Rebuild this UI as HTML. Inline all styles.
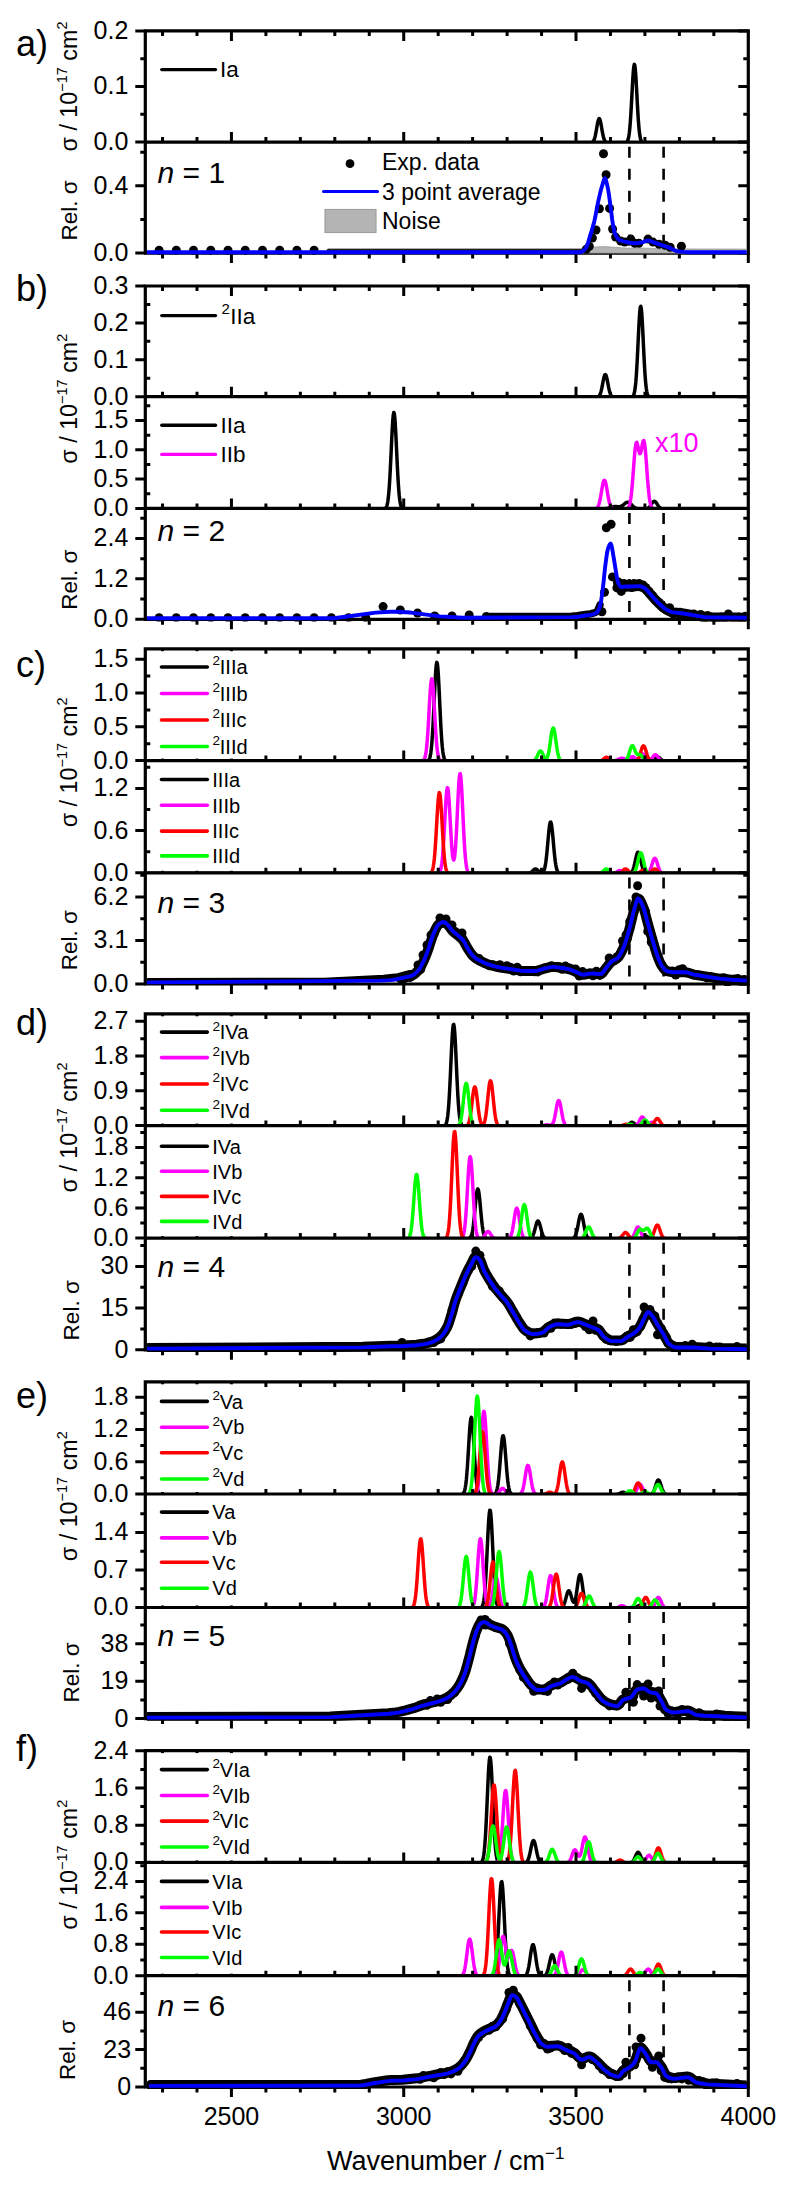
<!DOCTYPE html>
<html><head><meta charset="utf-8"><style>html,body{margin:0;padding:0;background:#fff;}svg text{font-family:"Liberation Sans", sans-serif;}</style></head>
<body>
<svg width="791" height="2186" viewBox="0 0 791 2186" style="display:block">
<rect width="791" height="2186" fill="#fff"/>
<g font-family='"Liberation Sans", sans-serif' fill="#000">
<clipPath id="cp_a1"><rect x="146.8" y="32.4" width="600.0" height="109.69999999999999"/></clipPath>
<clipPath id="cp_a2"><rect x="146.8" y="143.6" width="600.0" height="109.5"/></clipPath>
<g clip-path="url(#cp_a1)" fill="none" stroke-width="3.5" stroke-linejoin="round">
<path d="M146.30,142.80 L590.30,142.76 L590.80,142.71 L591.30,142.64 L591.80,142.50 L592.30,142.26 L592.80,141.89 L593.30,141.31 L593.80,140.45 L594.30,139.25 L594.80,137.66 L595.30,135.63 L595.80,133.20 L596.30,130.45 L596.80,127.54 L597.30,124.67 L597.80,122.11 L598.30,120.12 L598.80,118.91 L599.30,118.62 L599.80,119.29 L600.30,120.83 L600.80,123.08 L601.30,125.79 L601.80,128.71 L602.30,131.58 L602.80,134.22 L603.30,136.49 L603.80,138.35 L604.30,139.78 L604.80,140.83 L605.30,141.57 L605.80,142.06 L606.30,142.37 L606.80,142.56 L607.30,142.67 L607.80,142.73 L608.30,142.77 L624.80,142.75 L625.30,142.70 L625.80,142.59 L626.30,142.39 L626.80,142.03 L627.30,141.41 L627.80,140.39 L628.30,138.80 L628.80,136.41 L629.30,133.00 L629.80,128.36 L630.30,122.34 L630.80,114.96 L631.30,106.41 L631.80,97.09 L632.30,87.64 L632.80,78.84 L633.30,71.54 L633.80,66.53 L634.30,64.36 L634.80,65.30 L635.30,69.23 L635.80,75.69 L636.30,83.99 L636.80,93.28 L637.30,102.74 L637.80,111.67 L638.30,119.55 L638.80,126.12 L639.30,131.30 L639.80,135.18 L640.30,137.95 L640.80,139.84 L641.30,141.06 L641.80,141.82 L642.30,142.27 L642.80,142.52 L643.30,142.66 L643.80,142.73 L644.30,142.77 L747.30,142.80" stroke="#000"/>
</g>
<path d="M145.3,30.9 L748.3,30.9 M145.3,142.1 L748.3,142.1 M145.3,253.1 L748.3,253.1 M145.3,29.299999999999997 L145.3,254.7 M748.3,29.299999999999997 L748.3,254.7" stroke="#000" stroke-width="3.2" fill="none"/>
<path d="M162.53,30.9 L162.53,35.9 M162.53,142.1 L162.53,137.1 M162.53,253.1 L162.53,258.6 M196.99,30.9 L196.99,35.9 M196.99,142.1 L196.99,137.1 M196.99,253.1 L196.99,258.6 M231.44,30.9 L231.44,40.9 M231.44,142.1 L231.44,132.1 M231.44,253.1 L231.44,263.1 M265.90,30.9 L265.90,35.9 M265.90,142.1 L265.90,137.1 M265.90,253.1 L265.90,258.6 M300.36,30.9 L300.36,35.9 M300.36,142.1 L300.36,137.1 M300.36,253.1 L300.36,258.6 M334.81,30.9 L334.81,35.9 M334.81,142.1 L334.81,137.1 M334.81,253.1 L334.81,258.6 M369.27,30.9 L369.27,35.9 M369.27,142.1 L369.27,137.1 M369.27,253.1 L369.27,258.6 M403.73,30.9 L403.73,40.9 M403.73,142.1 L403.73,132.1 M403.73,253.1 L403.73,263.1 M438.19,30.9 L438.19,35.9 M438.19,142.1 L438.19,137.1 M438.19,253.1 L438.19,258.6 M472.64,30.9 L472.64,35.9 M472.64,142.1 L472.64,137.1 M472.64,253.1 L472.64,258.6 M507.10,30.9 L507.10,35.9 M507.10,142.1 L507.10,137.1 M507.10,253.1 L507.10,258.6 M541.56,30.9 L541.56,35.9 M541.56,142.1 L541.56,137.1 M541.56,253.1 L541.56,258.6 M576.01,30.9 L576.01,40.9 M576.01,142.1 L576.01,132.1 M576.01,253.1 L576.01,263.1 M610.47,30.9 L610.47,35.9 M610.47,142.1 L610.47,137.1 M610.47,253.1 L610.47,258.6 M644.93,30.9 L644.93,35.9 M644.93,142.1 L644.93,137.1 M644.93,253.1 L644.93,258.6 M679.39,30.9 L679.39,35.9 M679.39,142.1 L679.39,137.1 M679.39,253.1 L679.39,258.6 M713.84,30.9 L713.84,35.9 M713.84,142.1 L713.84,137.1 M713.84,253.1 L713.84,258.6 M748.3,253.1 L748.3,263.1 M135.3,142.10 L145.3,142.10 M738.3,142.10 L748.3,142.10 M135.3,86.50 L145.3,86.50 M738.3,86.50 L748.3,86.50 M135.3,30.90 L145.3,30.90 M738.3,30.90 L748.3,30.90 M140.3,114.30 L145.3,114.30 M743.3,114.30 L748.3,114.30 M140.3,58.70 L145.3,58.70 M743.3,58.70 L748.3,58.70 M135.3,253.10 L145.3,253.10 M738.3,253.10 L748.3,253.10 M135.3,185.80 L145.3,185.80 M738.3,185.80 L748.3,185.80 M140.3,219.45 L145.3,219.45 M743.3,219.45 L748.3,219.45 M140.3,152.15 L145.3,152.15 M743.3,152.15 L748.3,152.15" stroke="#000" stroke-width="3.0" fill="none"/>
<clipPath id="cq_a2"><rect x="146.9" y="143.7" width="599.8" height="111.5"/></clipPath>
<g clip-path="url(#cq_a2)">
<path d="M327.9228571428572,253.1 L327.9228571428572,248.6 L588,248.6 L595,247.1 L603,246.6 L612,247.1 L625,248.1 L645,248.1 L660,248.9 L748,249.1 L748,253.1 Z" fill="#b4b4b4" stroke="#9a9a9a" stroke-width="0.8"/>
<line x1="629.4" y1="143.7" x2="629.4" y2="251.5" stroke="#000" stroke-width="2.6" stroke-dasharray="11 11" stroke-dashoffset="-3"/><line x1="663.6" y1="143.7" x2="663.6" y2="251.5" stroke="#000" stroke-width="2.6" stroke-dasharray="11 11" stroke-dashoffset="-3"/>
<path d="M327.92,250.50 L585.00,250.50" fill="none" stroke="#222" stroke-width="3.0" stroke-linejoin="round" stroke-linecap="round"/>
<circle cx="159.1" cy="250.3" r="4.5"/><circle cx="176.3" cy="250.3" r="4.5"/><circle cx="193.5" cy="250.3" r="4.5"/><circle cx="210.8" cy="250.3" r="4.5"/><circle cx="228.0" cy="250.3" r="4.5"/><circle cx="245.2" cy="250.3" r="4.5"/><circle cx="262.5" cy="250.3" r="4.5"/><circle cx="279.7" cy="250.3" r="4.5"/><circle cx="296.9" cy="250.3" r="4.5"/><circle cx="314.1" cy="250.3" r="4.5"/><circle cx="603.5" cy="153.8" r="4.5"/><circle cx="606.1" cy="174.8" r="4.5"/><circle cx="599.4" cy="208.8" r="4.5"/><circle cx="609.6" cy="208.4" r="4.5"/><circle cx="596.0" cy="230.0" r="4.5"/><circle cx="612.6" cy="229.0" r="4.5"/><circle cx="592.4" cy="238.1" r="4.5"/><circle cx="615.6" cy="237.1" r="4.5"/><circle cx="589.3" cy="246.2" r="4.5"/><circle cx="620.7" cy="241.1" r="4.5"/><circle cx="624.7" cy="242.1" r="4.5"/><circle cx="630.8" cy="239.1" r="4.5"/><circle cx="634.8" cy="243.2" r="4.5"/><circle cx="638.9" cy="243.2" r="4.5"/><circle cx="648.0" cy="239.1" r="4.5"/><circle cx="653.0" cy="242.1" r="4.5"/><circle cx="659.1" cy="244.2" r="4.5"/><circle cx="665.2" cy="245.2" r="4.5"/><circle cx="670.2" cy="247.2" r="4.5"/><circle cx="681.4" cy="246.2" r="4.5"/><circle cx="586.3" cy="249.2" r="4.5"/>
<path d="M146.50,252.20 L580.00,252.20 L580.73,252.09 L581.47,251.83 L582.20,251.50 L583.02,251.01 L583.84,250.33 L584.66,249.45 L585.48,248.41 L586.30,247.20 L587.10,245.56 L587.90,243.28 L588.70,240.62 L589.50,237.81 L590.30,235.10 L591.94,229.81 L592.76,227.06 L593.58,224.11 L594.40,220.90 L595.20,217.26 L596.00,213.12 L596.80,208.79 L597.60,204.55 L598.40,200.70 L599.22,197.09 L600.04,193.57 L600.86,190.25 L601.68,187.20 L603.30,181.84 L604.10,179.44 L604.90,178.40 L605.77,179.70 L606.63,182.79 L607.50,186.50 L608.27,190.45 L609.05,195.48 L610.60,206.70 L611.40,213.03 L612.20,219.67 L613.00,225.00 L613.87,229.24 L614.73,232.73 L615.60,235.10 L616.42,236.57 L617.24,237.81 L618.06,238.81 L618.88,239.58 L619.70,240.10 L621.10,240.70 L622.50,241.17 L624.60,241.69 L630.38,242.78 L632.59,243.08 L634.06,243.19 L635.54,243.19 L637.01,243.08 L639.22,242.79 L642.90,242.10 L643.63,241.91 L645.81,241.03 L646.54,240.76 L647.27,240.57 L648.00,240.50 L648.71,240.56 L649.43,240.72 L650.14,240.96 L652.29,241.84 L667.73,247.05 L669.20,247.60 L669.94,247.91 L671.41,248.65 L673.62,249.85 L675.09,250.55 L675.83,250.83 L676.56,251.05 L677.30,251.20 L683.65,251.92 L688.59,252.19 L748.00,252.20" fill="none" stroke="#0000ff" stroke-width="3.9" stroke-linejoin="round" stroke-linecap="round"/>
</g>
<text x="128.30" y="150.00" font-size="25" text-anchor="end" >0.0</text>
<text x="128.30" y="94.40" font-size="25" text-anchor="end" >0.1</text>
<text x="128.30" y="38.80" font-size="25" text-anchor="end" >0.2</text>
<text x="128.30" y="261.00" font-size="25" text-anchor="end" >0.0</text>
<text x="128.30" y="193.70" font-size="25" text-anchor="end" >0.4</text>
<text x="16.00" y="56.30" font-size="36" text-anchor="start" >a)</text>
<clipPath id="cp_b1"><rect x="146.8" y="287.5" width="600.0" height="109.19999999999999"/></clipPath>
<clipPath id="cp_b2"><rect x="146.8" y="398.2" width="600.0" height="110.19999999999999"/></clipPath>
<clipPath id="cp_b3"><rect x="146.8" y="509.9" width="600.0" height="109.39999999999998"/></clipPath>
<g clip-path="url(#cp_b1)" fill="none" stroke-width="3.5" stroke-linejoin="round">
<path d="M146.30,397.40 L595.80,397.37 L596.30,397.34 L596.80,397.29 L597.30,397.20 L597.80,397.04 L598.30,396.79 L598.80,396.39 L599.30,395.80 L599.80,394.96 L600.30,393.80 L600.80,392.28 L601.30,390.39 L601.80,388.15 L602.30,385.63 L602.80,382.98 L603.30,380.36 L603.80,378.01 L604.30,376.13 L604.80,374.92 L605.30,374.50 L605.80,374.92 L606.30,376.13 L606.80,378.01 L607.30,380.36 L607.80,382.98 L608.30,385.63 L608.80,388.15 L609.30,390.39 L609.80,392.28 L610.30,393.80 L610.80,394.96 L611.30,395.80 L611.80,396.39 L612.30,396.79 L612.80,397.04 L613.30,397.20 L613.80,397.29 L614.30,397.34 L614.80,397.37 L630.30,397.37 L630.80,397.34 L631.30,397.27 L631.80,397.14 L632.30,396.91 L632.80,396.50 L633.30,395.81 L633.80,394.70 L634.30,392.99 L634.80,390.45 L635.30,386.85 L635.80,381.96 L636.30,375.62 L636.80,367.79 L637.30,358.62 L637.80,348.44 L638.30,337.84 L638.80,327.57 L639.30,318.51 L639.80,311.50 L640.30,307.27 L640.80,306.27 L641.30,308.60 L641.80,314.01 L642.30,321.93 L642.80,331.58 L643.30,342.08 L643.80,352.60 L644.30,362.43 L644.80,371.10 L645.30,378.33 L645.80,384.08 L646.30,388.43 L646.80,391.58 L647.30,393.76 L647.80,395.21 L648.30,396.13 L648.80,396.69 L649.30,397.02 L649.80,397.20 L650.30,397.30 L650.80,397.35 L747.30,397.40" stroke="#000"/>
</g>
<g clip-path="url(#cp_b2)" fill="none" stroke-width="3.5" stroke-linejoin="round">
<path d="M146.30,509.10 L383.30,509.06 L383.80,509.01 L384.30,508.93 L384.80,508.77 L385.30,508.49 L385.80,508.03 L386.30,507.26 L386.80,506.05 L387.30,504.23 L387.80,501.57 L388.30,497.85 L388.80,492.86 L389.30,486.45 L389.80,478.57 L390.30,469.35 L390.80,459.08 L391.30,448.28 L391.80,437.64 L392.30,427.97 L392.80,420.10 L393.30,414.76 L393.80,412.47 L394.30,413.46 L394.80,417.63 L395.30,424.56 L395.80,433.61 L396.30,443.96 L396.80,454.79 L397.30,465.34 L397.80,475.03 L398.30,483.47 L398.80,490.47 L399.30,496.01 L399.80,500.22 L400.30,503.27 L400.80,505.41 L401.30,506.84 L401.80,507.76 L402.30,508.34 L402.80,508.68 L403.30,508.87 L403.80,508.98 L404.30,509.04 L404.80,509.07 L600.80,509.06 L601.30,509.04 L601.80,509.02 L602.30,509.00 L602.80,508.97 L603.30,508.94 L603.80,508.90 L604.30,508.85 L604.80,508.79 L605.30,508.72 L605.80,508.64 L606.30,508.55 L606.80,508.45 L607.30,508.34 L607.80,508.21 L608.30,508.08 L608.80,507.94 L609.30,507.79 L609.80,507.64 L610.30,507.49 L610.80,507.34 L611.30,507.20 L611.80,507.06 L612.30,506.94 L612.80,506.82 L613.30,506.73 L613.80,506.66 L614.30,506.60 L614.80,506.57 L615.30,506.55 L615.80,506.56 L616.30,506.57 L616.80,506.60 L617.30,506.63 L617.80,506.66 L618.30,506.68 L618.80,506.69 L619.30,506.66 L619.80,506.60 L620.30,506.50 L620.80,506.35 L621.30,506.15 L621.80,505.90 L622.30,505.60 L622.80,505.25 L623.30,504.86 L623.80,504.44 L624.30,504.02 L624.80,503.60 L625.30,503.21 L625.80,502.86 L626.30,502.57 L626.80,502.35 L627.30,502.23 L627.80,502.21 L628.30,502.28 L628.80,502.45 L629.30,502.72 L629.80,503.07 L630.30,503.48 L630.80,503.95 L631.30,504.45 L631.80,504.97 L632.30,505.48 L632.80,505.98 L633.30,506.45 L633.80,506.89 L634.30,507.28 L634.80,507.63 L635.30,507.93 L635.80,508.18 L636.30,508.39 L636.80,508.56 L637.30,508.69 L637.80,508.80 L638.30,508.88 L638.80,508.94 L639.30,508.99 L639.80,509.02 L640.30,509.05 L640.80,509.07 L644.30,509.07 L644.80,509.05 L645.30,509.01 L645.80,508.96 L646.30,508.88 L646.80,508.76 L647.30,508.59 L647.80,508.35 L648.30,508.04 L648.80,507.65 L649.30,507.16 L649.80,506.57 L650.30,505.89 L650.80,505.15 L651.30,504.37 L651.80,503.59 L652.30,502.85 L652.80,502.22 L653.30,501.72 L653.80,501.41 L654.30,501.30 L654.80,501.41 L655.30,501.72 L655.80,502.22 L656.30,502.85 L656.80,503.59 L657.30,504.37 L657.80,505.15 L658.30,505.89 L658.80,506.57 L659.30,507.16 L659.80,507.65 L660.30,508.04 L660.80,508.35 L661.30,508.59 L661.80,508.76 L662.30,508.88 L662.80,508.96 L663.30,509.01 L663.80,509.05 L664.30,509.07 L747.30,509.10" stroke="#000"/>
<path d="M146.30,509.10 L593.80,509.06 L594.30,509.03 L594.80,508.98 L595.30,508.89 L595.80,508.74 L596.30,508.52 L596.80,508.17 L597.30,507.66 L597.80,506.93 L598.30,505.94 L598.80,504.62 L599.30,502.94 L599.80,500.89 L600.30,498.46 L600.80,495.73 L601.30,492.78 L601.80,489.76 L602.30,486.87 L602.80,484.28 L603.30,482.21 L603.80,480.81 L604.30,480.22 L604.80,480.47 L605.30,481.56 L605.80,483.38 L606.30,485.78 L606.80,488.58 L607.30,491.57 L607.80,494.56 L608.30,497.40 L608.80,499.96 L609.30,502.17 L609.80,504.00 L610.30,505.45 L610.80,506.57 L611.30,507.40 L611.80,507.99 L612.30,508.39 L612.80,508.66 L613.30,508.84 L613.80,508.95 L614.30,509.01 L614.80,509.05 L625.30,509.05 L625.80,509.01 L626.30,508.93 L626.80,508.80 L627.30,508.58 L627.80,508.22 L628.30,507.67 L628.80,506.83 L629.30,505.61 L629.80,503.88 L630.30,501.54 L630.80,498.45 L631.30,494.55 L631.80,489.80 L632.30,484.24 L632.80,478.02 L633.30,471.36 L633.80,464.60 L634.30,458.13 L634.80,452.37 L635.30,447.70 L635.80,444.41 L636.30,442.66 L636.80,442.44 L637.30,443.54 L637.80,445.59 L638.30,448.13 L638.80,450.63 L639.30,452.60 L639.80,453.66 L640.30,453.58 L640.80,452.37 L641.30,450.20 L641.80,447.45 L642.30,444.60 L642.80,442.19 L643.30,440.71 L643.80,440.57 L644.30,442.00 L644.80,445.04 L645.30,449.57 L645.80,455.31 L646.30,461.86 L646.80,468.80 L647.30,475.71 L647.80,482.23 L648.30,488.12 L648.80,493.19 L649.30,497.39 L649.80,500.73 L650.30,503.29 L650.80,505.19 L651.30,506.54 L651.80,507.48 L652.30,508.10 L652.80,508.50 L653.30,508.75 L653.80,508.90 L654.30,508.99 L654.80,509.04 L655.30,509.07 L747.30,509.10" stroke="#ff00ff"/>
</g>
<path d="M145.3,286.0 L748.3,286.0 M145.3,396.7 L748.3,396.7 M145.3,508.4 L748.3,508.4 M145.3,619.3 L748.3,619.3 M145.3,284.4 L145.3,620.9 M748.3,284.4 L748.3,620.9" stroke="#000" stroke-width="3.2" fill="none"/>
<path d="M162.53,286.0 L162.53,291.0 M162.53,396.7 L162.53,391.7 M162.53,508.4 L162.53,503.4 M162.53,619.3 L162.53,624.8 M196.99,286.0 L196.99,291.0 M196.99,396.7 L196.99,391.7 M196.99,508.4 L196.99,503.4 M196.99,619.3 L196.99,624.8 M231.44,286.0 L231.44,296.0 M231.44,396.7 L231.44,386.7 M231.44,508.4 L231.44,498.4 M231.44,619.3 L231.44,629.3 M265.90,286.0 L265.90,291.0 M265.90,396.7 L265.90,391.7 M265.90,508.4 L265.90,503.4 M265.90,619.3 L265.90,624.8 M300.36,286.0 L300.36,291.0 M300.36,396.7 L300.36,391.7 M300.36,508.4 L300.36,503.4 M300.36,619.3 L300.36,624.8 M334.81,286.0 L334.81,291.0 M334.81,396.7 L334.81,391.7 M334.81,508.4 L334.81,503.4 M334.81,619.3 L334.81,624.8 M369.27,286.0 L369.27,291.0 M369.27,396.7 L369.27,391.7 M369.27,508.4 L369.27,503.4 M369.27,619.3 L369.27,624.8 M403.73,286.0 L403.73,296.0 M403.73,396.7 L403.73,386.7 M403.73,508.4 L403.73,498.4 M403.73,619.3 L403.73,629.3 M438.19,286.0 L438.19,291.0 M438.19,396.7 L438.19,391.7 M438.19,508.4 L438.19,503.4 M438.19,619.3 L438.19,624.8 M472.64,286.0 L472.64,291.0 M472.64,396.7 L472.64,391.7 M472.64,508.4 L472.64,503.4 M472.64,619.3 L472.64,624.8 M507.10,286.0 L507.10,291.0 M507.10,396.7 L507.10,391.7 M507.10,508.4 L507.10,503.4 M507.10,619.3 L507.10,624.8 M541.56,286.0 L541.56,291.0 M541.56,396.7 L541.56,391.7 M541.56,508.4 L541.56,503.4 M541.56,619.3 L541.56,624.8 M576.01,286.0 L576.01,296.0 M576.01,396.7 L576.01,386.7 M576.01,508.4 L576.01,498.4 M576.01,619.3 L576.01,629.3 M610.47,286.0 L610.47,291.0 M610.47,396.7 L610.47,391.7 M610.47,508.4 L610.47,503.4 M610.47,619.3 L610.47,624.8 M644.93,286.0 L644.93,291.0 M644.93,396.7 L644.93,391.7 M644.93,508.4 L644.93,503.4 M644.93,619.3 L644.93,624.8 M679.39,286.0 L679.39,291.0 M679.39,396.7 L679.39,391.7 M679.39,508.4 L679.39,503.4 M679.39,619.3 L679.39,624.8 M713.84,286.0 L713.84,291.0 M713.84,396.7 L713.84,391.7 M713.84,508.4 L713.84,503.4 M713.84,619.3 L713.84,624.8 M748.3,619.3 L748.3,629.3 M135.3,396.70 L145.3,396.70 M738.3,396.70 L748.3,396.70 M135.3,359.80 L145.3,359.80 M738.3,359.80 L748.3,359.80 M135.3,322.90 L145.3,322.90 M738.3,322.90 L748.3,322.90 M135.3,286.00 L145.3,286.00 M738.3,286.00 L748.3,286.00 M145.3,378.25 L150.3,378.25 M743.3,378.25 L748.3,378.25 M145.3,341.35 L150.3,341.35 M743.3,341.35 L748.3,341.35 M145.3,304.45 L150.3,304.45 M743.3,304.45 L748.3,304.45 M135.3,508.40 L145.3,508.40 M738.3,508.40 L748.3,508.40 M135.3,479.10 L145.3,479.10 M738.3,479.10 L748.3,479.10 M135.3,449.80 L145.3,449.80 M738.3,449.80 L748.3,449.80 M135.3,420.50 L145.3,420.50 M738.3,420.50 L748.3,420.50 M145.3,493.75 L150.3,493.75 M743.3,493.75 L748.3,493.75 M145.3,464.45 L150.3,464.45 M743.3,464.45 L748.3,464.45 M145.3,435.15 L150.3,435.15 M743.3,435.15 L748.3,435.15 M145.3,405.85 L150.3,405.85 M743.3,405.85 L748.3,405.85 M135.3,619.30 L145.3,619.30 M738.3,619.30 L748.3,619.30 M135.3,578.86 L145.3,578.86 M738.3,578.86 L748.3,578.86 M135.3,538.42 L145.3,538.42 M738.3,538.42 L748.3,538.42 M140.3,599.08 L145.3,599.08 M743.3,599.08 L748.3,599.08 M140.3,558.64 L145.3,558.64 M743.3,558.64 L748.3,558.64 M140.3,518.20 L145.3,518.20 M743.3,518.20 L748.3,518.20" stroke="#000" stroke-width="3.0" fill="none"/>
<clipPath id="cq_b3"><rect x="146.9" y="510.0" width="599.8" height="111.39999999999998"/></clipPath>
<g clip-path="url(#cq_b3)">
<line x1="629.4" y1="510.0" x2="629.4" y2="617.6999999999999" stroke="#000" stroke-width="2.6" stroke-dasharray="11 11" stroke-dashoffset="-3"/><line x1="663.6" y1="510.0" x2="663.6" y2="617.6999999999999" stroke="#000" stroke-width="2.6" stroke-dasharray="11 11" stroke-dashoffset="-3"/>
<path d="M490.00,616.56 L571.42,616.17 L577.08,615.78 L589.17,614.05 L591.37,613.63 L592.83,613.25 L594.30,612.75 L595.03,612.44 L595.77,612.10 L596.50,611.70 L597.22,611.05 L597.94,609.97 L598.66,608.49 L599.38,606.69 L600.00,604.89" fill="none" stroke="#000" stroke-width="7.5" stroke-linejoin="round" stroke-linecap="round"/>
<path d="M618.00,582.23 L618.10,582.60 L618.90,584.30 L619.70,585.70 L620.50,586.65 L621.30,587.00 L622.06,586.97 L625.84,586.53 L632.61,586.49 L638.29,586.11 L639.00,586.10 L639.76,586.15 L640.51,586.30 L641.27,586.53 L642.03,586.82 L643.54,587.52 L644.30,587.90 L645.06,588.38 L645.81,589.01 L646.57,589.77 L647.33,590.60 L648.84,592.36 L650.37,594.05 L654.23,598.55 L656.51,601.00 L658.79,603.28 L662.57,606.77 L663.33,607.43 L664.09,608.05 L664.84,608.61 L665.60,609.10 L667.73,610.33 L669.15,611.06 L670.57,611.68 L671.28,611.93 L671.99,612.14 L673.41,612.43 L683.30,613.50 L703.30,616.82 L706.91,617.24 L748.00,617.80" fill="none" stroke="#000" stroke-width="10.0" stroke-linejoin="round" stroke-linecap="round"/>
<circle cx="618.0" cy="585.3" r="4.5"/><circle cx="621.4" cy="586.1" r="4.5"/><circle cx="624.9" cy="587.2" r="4.5"/><circle cx="628.3" cy="586.7" r="4.5"/><circle cx="631.8" cy="587.6" r="4.5"/><circle cx="635.2" cy="584.5" r="4.5"/><circle cx="638.7" cy="585.6" r="4.5"/><circle cx="642.1" cy="585.9" r="4.5"/><circle cx="645.6" cy="587.4" r="4.5"/><circle cx="649.0" cy="591.5" r="4.5"/><circle cx="652.5" cy="595.8" r="4.5"/><circle cx="655.9" cy="600.0" r="4.5"/><circle cx="659.4" cy="602.6" r="4.5"/><circle cx="662.8" cy="607.5" r="4.5"/><circle cx="666.2" cy="608.8" r="4.5"/><circle cx="669.7" cy="607.8" r="4.5"/><circle cx="673.1" cy="613.9" r="4.5"/><circle cx="676.6" cy="612.3" r="4.5"/><circle cx="680.0" cy="612.2" r="4.5"/><circle cx="683.5" cy="613.9" r="4.5"/><circle cx="686.9" cy="614.4" r="4.5"/><circle cx="690.4" cy="614.7" r="4.5"/><circle cx="693.8" cy="614.1" r="4.5"/><circle cx="697.3" cy="616.1" r="4.5"/><circle cx="700.7" cy="614.4" r="4.5"/><circle cx="704.2" cy="618.8" r="4.5"/><circle cx="707.6" cy="615.6" r="4.5"/><circle cx="711.0" cy="617.0" r="4.5"/><circle cx="714.5" cy="617.4" r="4.5"/><circle cx="717.9" cy="617.7" r="4.5"/><circle cx="721.4" cy="617.1" r="4.5"/><circle cx="724.8" cy="618.1" r="4.5"/><circle cx="728.3" cy="614.0" r="4.5"/><circle cx="731.7" cy="617.3" r="4.5"/><circle cx="735.2" cy="617.2" r="4.5"/><circle cx="738.6" cy="616.9" r="4.5"/><circle cx="742.1" cy="619.5" r="4.5"/><circle cx="745.5" cy="616.3" r="4.5"/>
<circle cx="159.1" cy="617.8" r="4.5"/><circle cx="176.3" cy="617.8" r="4.5"/><circle cx="193.5" cy="617.8" r="4.5"/><circle cx="210.8" cy="617.8" r="4.5"/><circle cx="228.0" cy="617.8" r="4.5"/><circle cx="245.2" cy="617.8" r="4.5"/><circle cx="262.5" cy="617.8" r="4.5"/><circle cx="279.7" cy="617.8" r="4.5"/><circle cx="296.9" cy="617.8" r="4.5"/><circle cx="314.1" cy="617.8" r="4.5"/><circle cx="331.4" cy="617.8" r="4.5"/><circle cx="348.6" cy="617.8" r="4.5"/><circle cx="365.8" cy="617.8" r="4.5"/><circle cx="383.1" cy="606.6" r="4.5"/><circle cx="400.3" cy="610.0" r="4.5"/><circle cx="417.5" cy="613.1" r="4.5"/><circle cx="434.7" cy="616.0" r="4.5"/><circle cx="452.0" cy="616.0" r="4.5"/><circle cx="469.2" cy="615.0" r="4.5"/><circle cx="486.4" cy="616.5" r="4.5"/><circle cx="606.3" cy="527.7" r="4.5"/><circle cx="611.1" cy="524.2" r="4.5"/><circle cx="612.5" cy="576.9" r="4.5"/><circle cx="604.5" cy="592.3" r="4.5"/><circle cx="601.9" cy="611.8" r="4.5"/><circle cx="616.9" cy="587.9" r="4.5"/><circle cx="621.3" cy="591.4" r="4.5"/><circle cx="624.0" cy="583.5" r="4.5"/><circle cx="629.0" cy="584.0" r="4.5"/><circle cx="634.0" cy="583.5" r="4.5"/><circle cx="639.0" cy="583.5" r="4.5"/><circle cx="643.0" cy="585.0" r="4.5"/>
<path d="M146.50,618.30 L331.43,618.28 L335.71,617.97 L375.71,612.66 L390.57,611.77 L396.97,611.72 L410.71,612.56 L440.00,616.39 L462.86,617.69 L571.42,617.17 L577.08,616.78 L589.17,615.05 L591.37,614.63 L592.83,614.25 L594.30,613.75 L595.03,613.44 L595.77,613.10 L596.50,612.70 L597.22,612.05 L597.94,610.97 L598.66,609.49 L599.38,607.69 L600.10,605.60 L600.97,601.68 L601.83,595.99 L602.70,589.60 L603.60,581.74 L604.50,572.80 L605.40,564.90 L606.30,558.12 L607.20,552.05 L608.10,548.10 L608.97,545.89 L609.83,544.25 L610.70,543.60 L611.60,545.76 L612.50,550.69 L613.40,556.00 L614.27,561.08 L615.13,566.65 L616.00,571.90 L616.70,576.05 L617.40,579.99 L618.10,582.60 L618.90,584.30 L619.70,585.70 L620.50,586.65 L621.30,587.00 L622.06,586.97 L625.84,586.53 L632.61,586.49 L638.29,586.11 L639.00,586.10 L639.76,586.15 L640.51,586.30 L641.27,586.53 L642.03,586.82 L643.54,587.52 L644.30,587.90 L645.06,588.38 L645.81,589.01 L646.57,589.77 L647.33,590.60 L648.84,592.36 L650.37,594.05 L654.23,598.55 L656.51,601.00 L658.79,603.28 L662.57,606.77 L663.33,607.43 L664.09,608.05 L664.84,608.61 L665.60,609.10 L667.73,610.33 L669.15,611.06 L670.57,611.68 L671.28,611.93 L671.99,612.14 L673.41,612.43 L683.30,613.50 L703.30,616.82 L706.91,617.24 L748.00,617.80" fill="none" stroke="#0000ff" stroke-width="3.9" stroke-linejoin="round" stroke-linecap="round"/>
</g>
<text x="128.30" y="404.60" font-size="25" text-anchor="end" >0.0</text>
<text x="128.30" y="367.70" font-size="25" text-anchor="end" >0.1</text>
<text x="128.30" y="330.80" font-size="25" text-anchor="end" >0.2</text>
<text x="128.30" y="293.90" font-size="25" text-anchor="end" >0.3</text>
<text x="128.30" y="516.30" font-size="25" text-anchor="end" >0.0</text>
<text x="128.30" y="487.00" font-size="25" text-anchor="end" >0.5</text>
<text x="128.30" y="457.70" font-size="25" text-anchor="end" >1.0</text>
<text x="128.30" y="428.40" font-size="25" text-anchor="end" >1.5</text>
<text x="128.30" y="627.20" font-size="25" text-anchor="end" >0.0</text>
<text x="128.30" y="586.76" font-size="25" text-anchor="end" >1.2</text>
<text x="128.30" y="546.32" font-size="25" text-anchor="end" >2.4</text>
<text x="16.00" y="301.10" font-size="36" text-anchor="start" >b)</text>
<clipPath id="cp_c1"><rect x="146.8" y="650.3" width="600.0" height="110.30000000000007"/></clipPath>
<clipPath id="cp_c2"><rect x="146.8" y="762.1" width="600.0" height="110.69999999999993"/></clipPath>
<clipPath id="cp_c3"><rect x="146.8" y="874.3" width="600.0" height="109.70000000000005"/></clipPath>
<g clip-path="url(#cp_c1)" fill="none" stroke-width="3.5" stroke-linejoin="round">
<path d="M146.30,761.30 L425.80,761.27 L426.30,761.24 L426.80,761.18 L427.30,761.08 L427.80,760.89 L428.30,760.56 L428.80,760.01 L429.30,759.13 L429.80,757.77 L430.30,755.74 L430.80,752.84 L431.30,748.85 L431.80,743.57 L432.30,736.86 L432.80,728.72 L433.30,719.28 L433.80,708.86 L434.30,697.98 L434.80,687.34 L435.30,677.72 L435.80,669.91 L436.30,664.63 L436.80,662.37 L437.30,663.34 L437.80,667.46 L438.30,674.33 L438.80,683.32 L439.30,693.65 L439.80,704.53 L440.30,715.20 L440.80,725.08 L441.30,733.77 L441.80,741.06 L442.30,746.90 L442.80,751.39 L443.30,754.70 L443.80,757.05 L444.30,758.65 L444.80,759.70 L445.30,760.37 L445.80,760.77 L446.30,761.01 L446.80,761.15 L447.30,761.22 L447.80,761.26 L625.30,761.25 L625.80,761.22 L626.30,761.17 L626.80,761.10 L627.30,761.01 L627.80,760.88 L628.30,760.72 L628.80,760.52 L629.30,760.29 L629.80,760.03 L630.30,759.76 L630.80,759.48 L631.30,759.23 L631.80,759.03 L632.30,758.88 L632.80,758.81 L633.30,758.81 L633.80,758.90 L634.30,759.06 L634.80,759.28 L635.30,759.54 L635.80,759.81 L636.30,760.08 L636.80,760.34 L637.30,760.56 L637.80,760.76 L638.30,760.91 L638.80,761.03 L639.30,761.12 L639.80,761.18 L640.30,761.23 L640.80,761.26 L648.80,761.27 L649.30,761.25 L649.80,761.21 L650.30,761.15 L650.80,761.07 L651.30,760.95 L651.80,760.77 L652.30,760.55 L652.80,760.26 L653.30,759.90 L653.80,759.48 L654.30,759.01 L654.80,758.52 L655.30,758.03 L655.80,757.58 L656.30,757.21 L656.80,756.94 L657.30,756.81 L657.80,756.83 L658.30,756.99 L658.80,757.28 L659.30,757.67 L659.80,758.13 L660.30,758.62 L660.80,759.11 L661.30,759.57 L661.80,759.97 L662.30,760.32 L662.80,760.60 L663.30,760.81 L663.80,760.97 L664.30,761.09 L664.80,761.17 L665.30,761.22 L665.80,761.25 L747.30,761.30" stroke="#000"/>
<path d="M146.30,761.30 L420.80,761.27 L421.30,761.24 L421.80,761.19 L422.30,761.09 L422.80,760.91 L423.30,760.61 L423.80,760.10 L424.30,759.30 L424.80,758.07 L425.30,756.25 L425.80,753.67 L426.30,750.13 L426.80,745.50 L427.30,739.67 L427.80,732.66 L428.30,724.60 L428.80,715.80 L429.30,706.73 L429.80,697.97 L430.30,690.20 L430.80,684.08 L431.30,680.15 L431.80,678.80 L432.30,680.15 L432.80,684.08 L433.30,690.20 L433.80,697.97 L434.30,706.73 L434.80,715.80 L435.30,724.60 L435.80,732.66 L436.30,739.67 L436.80,745.50 L437.30,750.13 L437.80,753.67 L438.30,756.25 L438.80,758.07 L439.30,759.30 L439.80,760.10 L440.30,760.61 L440.80,760.91 L441.30,761.09 L441.80,761.19 L442.30,761.24 L442.80,761.27 L610.30,761.26 L610.80,761.24 L611.30,761.22 L611.80,761.18 L612.30,761.14 L612.80,761.09 L613.30,761.02 L613.80,760.93 L614.30,760.83 L614.80,760.71 L615.30,760.56 L615.80,760.40 L616.30,760.21 L616.80,760.01 L617.30,759.80 L617.80,759.57 L618.30,759.34 L618.80,759.12 L619.30,758.91 L619.80,758.72 L620.30,758.56 L620.80,758.43 L621.30,758.34 L621.80,758.30 L622.30,758.30 L622.80,758.35 L623.30,758.44 L623.80,758.56 L624.30,758.71 L624.80,758.88 L625.30,759.04 L625.80,759.20 L626.30,759.32 L626.80,759.39 L627.30,759.40 L627.80,759.33 L628.30,759.18 L628.80,758.95 L629.30,758.64 L629.80,758.27 L630.30,757.88 L630.80,757.49 L631.30,757.14 L631.80,756.88 L632.30,756.73 L632.80,756.72 L633.30,756.83 L633.80,757.08 L634.30,757.42 L634.80,757.82 L635.30,758.25 L635.80,758.65 L636.30,758.97 L636.80,759.19 L637.30,759.27 L637.80,759.19 L638.30,758.93 L638.80,758.51 L639.30,757.95 L639.80,757.27 L640.30,756.53 L640.80,755.79 L641.30,755.10 L641.80,754.54 L642.30,754.16 L642.80,754.00 L643.30,754.07 L643.80,754.38 L644.30,754.88 L644.80,755.55 L645.30,756.30 L645.80,757.10 L646.30,757.87 L646.80,758.58 L647.30,759.19 L647.80,759.66 L648.30,760.01 L648.80,760.20 L649.30,760.26 L649.80,760.17 L650.30,759.94 L650.80,759.58 L651.30,759.09 L651.80,758.50 L652.30,757.84 L652.80,757.13 L653.30,756.44 L653.80,755.81 L654.30,755.30 L654.80,754.95 L655.30,754.80 L655.80,754.87 L656.30,755.14 L656.80,755.59 L657.30,756.18 L657.80,756.86 L658.30,757.57 L658.80,758.27 L659.30,758.92 L659.80,759.49 L660.30,759.97 L660.80,760.35 L661.30,760.65 L661.80,760.87 L662.30,761.02 L662.80,761.13 L663.30,761.20 L663.80,761.24 L664.30,761.27 L747.30,761.30" stroke="#ff00ff"/>
<path d="M146.30,761.30 L598.30,761.25 L598.80,761.22 L599.30,761.17 L599.80,761.09 L600.30,760.99 L600.80,760.83 L601.30,760.63 L601.80,760.37 L602.30,760.05 L602.80,759.68 L603.30,759.27 L603.80,758.83 L604.30,758.40 L604.80,758.00 L605.30,757.66 L605.80,757.43 L606.30,757.31 L606.80,757.32 L607.30,757.47 L607.80,757.72 L608.30,758.07 L608.80,758.48 L609.30,758.92 L609.80,759.35 L610.30,759.76 L610.80,760.12 L611.30,760.43 L611.80,760.68 L612.30,760.87 L612.80,761.01 L613.30,761.11 L613.80,761.18 L614.30,761.23 L614.80,761.26 L633.80,761.27 L634.30,761.24 L634.80,761.20 L635.30,761.12 L635.80,760.99 L636.30,760.80 L636.80,760.50 L637.30,760.08 L637.80,759.49 L638.30,758.71 L638.80,757.70 L639.30,756.47 L639.80,755.03 L640.30,753.42 L640.80,751.73 L641.30,750.04 L641.80,748.50 L642.30,747.21 L642.80,746.29 L643.30,745.84 L643.80,745.89 L644.30,746.44 L644.80,747.44 L645.30,748.79 L645.80,750.37 L646.30,752.07 L646.80,753.76 L647.30,755.33 L647.80,756.74 L648.30,757.92 L648.80,758.88 L649.30,759.62 L649.80,760.18 L650.30,760.57 L650.80,760.84 L651.30,761.02 L651.80,761.14 L652.30,761.21 L652.80,761.25 L653.30,761.27 L747.30,761.30" stroke="#ff0000"/>
<path d="M146.30,761.30 L531.30,761.26 L531.80,761.23 L532.30,761.18 L532.80,761.10 L533.30,760.97 L533.80,760.77 L534.30,760.49 L534.80,760.10 L535.30,759.58 L535.80,758.91 L536.30,758.09 L536.80,757.13 L537.30,756.07 L537.80,754.94 L538.30,753.82 L538.80,752.79 L539.30,751.94 L539.80,751.33 L540.30,751.03 L540.80,751.06 L541.30,751.42 L541.80,752.08 L542.30,752.97 L542.80,754.01 L543.30,755.12 L543.80,756.19 L544.30,757.16 L544.80,757.95 L545.30,758.52 L545.80,758.80 L546.30,758.76 L546.80,758.33 L547.30,757.48 L547.80,756.15 L548.30,754.31 L548.80,751.93 L549.30,749.06 L549.80,745.76 L550.30,742.19 L550.80,738.54 L551.30,735.07 L551.80,732.05 L552.30,729.74 L552.80,728.35 L553.30,728.02 L553.80,728.78 L554.30,730.56 L554.80,733.19 L555.30,736.42 L555.80,740.00 L556.30,743.66 L556.80,747.16 L557.30,750.34 L557.80,753.08 L558.30,755.34 L558.80,757.11 L559.30,758.46 L559.80,759.43 L560.30,760.11 L560.80,760.57 L561.30,760.86 L561.80,761.05 L562.30,761.16 L562.80,761.22 L563.30,761.26 L622.80,761.26 L623.30,761.23 L623.80,761.17 L624.30,761.07 L624.80,760.92 L625.30,760.69 L625.80,760.35 L626.30,759.87 L626.80,759.20 L627.30,758.33 L627.80,757.24 L628.30,755.92 L628.80,754.40 L629.30,752.75 L629.80,751.04 L630.30,749.39 L630.80,747.92 L631.30,746.75 L631.80,745.98 L632.30,745.67 L632.80,745.84 L633.30,746.46 L633.80,747.43 L634.30,748.64 L634.80,749.96 L635.30,751.24 L635.80,752.38 L636.30,753.29 L636.80,753.93 L637.30,754.32 L637.80,754.48 L638.30,754.50 L638.80,754.44 L639.30,754.40 L639.80,754.44 L640.30,754.61 L640.80,754.94 L641.30,755.41 L641.80,756.01 L642.30,756.70 L642.80,757.42 L643.30,758.13 L643.80,758.80 L644.30,759.38 L644.80,759.88 L645.30,760.29 L645.80,760.60 L646.30,760.83 L646.80,760.99 L647.30,761.11 L647.80,761.18 L648.30,761.23 L648.80,761.26 L747.30,761.30" stroke="#00ff00"/>
</g>
<g clip-path="url(#cp_c2)" fill="none" stroke-width="3.5" stroke-linejoin="round">
<path d="M146.30,873.50 L526.80,873.47 L527.30,873.45 L527.80,873.41 L528.30,873.35 L528.80,873.27 L529.30,873.15 L529.80,872.97 L530.30,872.75 L530.80,872.46 L531.30,872.10 L531.80,871.68 L532.30,871.21 L532.80,870.72 L533.30,870.23 L533.80,869.78 L534.30,869.41 L534.80,869.14 L535.30,869.01 L535.80,869.03 L536.30,869.19 L536.80,869.48 L537.30,869.87 L537.80,870.33 L538.30,870.82 L538.80,871.30 L539.30,871.76 L539.80,872.15 L540.30,872.47 L540.80,872.71 L541.30,872.84 L541.80,872.87 L542.30,872.75 L542.80,872.44 L543.30,871.90 L543.80,871.03 L544.30,869.73 L544.80,867.90 L545.30,865.44 L545.80,862.25 L546.30,858.30 L546.80,853.64 L547.30,848.38 L547.80,842.77 L548.30,837.13 L548.80,831.85 L549.30,827.36 L549.80,824.04 L550.30,822.21 L550.80,822.04 L551.30,823.54 L551.80,826.59 L552.30,830.87 L552.80,836.03 L553.30,841.63 L553.80,847.28 L554.30,852.63 L554.80,857.43 L555.30,861.52 L555.80,864.87 L556.30,867.48 L556.80,869.44 L557.30,870.85 L557.80,871.82 L558.30,872.48 L558.80,872.89 L559.30,873.15 L559.80,873.31 L560.30,873.40 L560.80,873.45 L561.30,873.47 L628.30,873.46 L628.80,873.43 L629.30,873.37 L629.80,873.28 L630.30,873.12 L630.80,872.87 L631.30,872.50 L631.80,871.96 L632.30,871.20 L632.80,870.17 L633.30,868.86 L633.80,867.23 L634.30,865.30 L634.80,863.13 L635.30,860.82 L635.80,858.49 L636.30,856.31 L636.80,854.45 L637.30,853.08 L637.80,852.33 L638.30,852.26 L638.80,852.88 L639.30,854.13 L639.80,855.90 L640.30,858.03 L640.80,860.35 L641.30,862.68 L641.80,864.88 L642.30,866.86 L642.80,868.56 L643.30,869.94 L643.80,871.01 L644.30,871.82 L644.80,872.40 L645.30,872.81 L645.80,873.08 L646.30,873.25 L646.80,873.36 L647.30,873.42 L647.80,873.46 L747.30,873.50" stroke="#000"/>
<path d="M146.30,873.50 L436.80,873.46 L437.30,873.41 L437.80,873.33 L438.30,873.18 L438.80,872.92 L439.30,872.49 L439.80,871.79 L440.30,870.71 L440.80,869.08 L441.30,866.73 L441.80,863.46 L442.30,859.11 L442.80,853.54 L443.30,846.71 L443.80,838.71 L444.30,829.80 L444.80,820.39 L445.30,811.05 L445.80,802.46 L446.30,795.31 L446.80,790.24 L447.30,787.73 L447.80,788.01 L448.30,791.05 L448.80,796.57 L449.30,804.04 L449.80,812.79 L450.30,822.11 L450.80,831.31 L451.30,839.80 L451.80,847.12 L452.30,852.96 L452.80,857.12 L453.30,859.49 L453.80,860.01 L454.30,858.63 L454.80,855.34 L455.30,850.14 L455.80,843.12 L456.30,834.46 L456.80,824.49 L457.30,813.74 L457.80,802.87 L458.30,792.66 L458.80,783.96 L459.30,777.54 L459.80,773.99 L460.30,773.66 L460.80,776.59 L461.30,782.49 L461.80,790.81 L462.30,800.81 L462.80,811.68 L463.30,822.64 L463.80,833.01 L464.30,842.32 L464.80,850.26 L465.30,856.75 L465.80,861.82 L466.30,865.62 L466.80,868.35 L467.30,870.25 L467.80,871.51 L468.30,872.33 L468.80,872.83 L469.30,873.13 L469.80,873.30 L470.30,873.40 L470.80,873.45 L471.30,873.47 L611.80,873.46 L612.30,873.44 L612.80,873.40 L613.30,873.35 L613.80,873.26 L614.30,873.15 L614.80,873.00 L615.30,872.80 L615.80,872.57 L616.30,872.29 L616.80,871.98 L617.30,871.65 L617.80,871.32 L618.30,871.02 L618.80,870.77 L619.30,870.60 L619.80,870.51 L620.30,870.52 L620.80,870.62 L621.30,870.82 L621.80,871.08 L622.30,871.39 L622.80,871.71 L623.30,872.04 L623.80,872.35 L624.30,872.62 L624.80,872.85 L625.30,873.03 L625.80,873.18 L626.30,873.28 L626.80,873.36 L627.30,873.41 L627.80,873.45 L628.30,873.47 L645.30,873.46 L645.80,873.43 L646.30,873.37 L646.80,873.28 L647.30,873.13 L647.80,872.90 L648.30,872.56 L648.80,872.08 L649.30,871.43 L649.80,870.57 L650.30,869.49 L650.80,868.19 L651.30,866.69 L651.80,865.06 L652.30,863.38 L652.80,861.76 L653.30,860.31 L653.80,859.18 L654.30,858.45 L654.80,858.20 L655.30,858.45 L655.80,859.18 L656.30,860.31 L656.80,861.76 L657.30,863.38 L657.80,865.06 L658.30,866.69 L658.80,868.19 L659.30,869.49 L659.80,870.57 L660.30,871.43 L660.80,872.08 L661.30,872.56 L661.80,872.90 L662.30,873.13 L662.80,873.28 L663.30,873.37 L663.80,873.43 L664.30,873.46 L747.30,873.50" stroke="#ff00ff"/>
<path d="M146.30,873.50 L428.80,873.45 L429.30,873.40 L429.80,873.32 L430.30,873.16 L430.80,872.89 L431.30,872.44 L431.80,871.72 L432.30,870.61 L432.80,868.96 L433.30,866.59 L433.80,863.33 L434.30,859.01 L434.80,853.53 L435.30,846.88 L435.80,839.16 L436.30,830.64 L436.80,821.76 L437.30,813.06 L437.80,805.20 L438.30,798.82 L438.80,794.50 L439.30,792.65 L439.80,793.45 L440.30,796.82 L440.80,802.43 L441.30,809.78 L441.80,818.22 L442.30,827.11 L442.80,835.83 L443.30,843.91 L443.80,851.01 L444.30,856.96 L444.80,861.73 L445.30,865.40 L445.80,868.11 L446.30,870.03 L446.80,871.33 L447.30,872.19 L447.80,872.74 L448.30,873.07 L448.80,873.27 L449.30,873.38 L449.80,873.44 L450.30,873.47 L616.80,873.47 L617.30,873.45 L617.80,873.41 L618.30,873.35 L618.80,873.27 L619.30,873.15 L619.80,872.97 L620.30,872.75 L620.80,872.46 L621.30,872.10 L621.80,871.68 L622.30,871.21 L622.80,870.72 L623.30,870.23 L623.80,869.78 L624.30,869.41 L624.80,869.14 L625.30,869.01 L625.80,869.03 L626.30,869.19 L626.80,869.48 L627.30,869.87 L627.80,870.33 L628.30,870.82 L628.80,871.31 L629.30,871.77 L629.80,872.17 L630.30,872.52 L630.80,872.80 L631.30,873.01 L631.80,873.17 L632.30,873.29 L632.80,873.37 L633.30,873.42 L633.80,873.45 L634.30,873.46 L635.30,873.45 L635.80,873.43 L636.30,873.38 L636.80,873.32 L637.30,873.22 L637.80,873.09 L638.30,872.91 L638.80,872.69 L639.30,872.41 L639.80,872.08 L640.30,871.72 L640.80,871.34 L641.30,870.96 L641.80,870.61 L642.30,870.32 L642.80,870.11 L643.30,870.01 L643.80,870.02 L644.30,870.14 L644.80,870.36 L645.30,870.66 L645.80,871.01 L646.30,871.38 L646.80,871.73 L647.30,872.04 L647.80,872.29 L648.30,872.46 L648.80,872.54 L649.30,872.51 L649.80,872.38 L650.30,872.16 L650.80,871.83 L651.30,871.44 L651.80,870.98 L652.30,870.50 L652.80,870.03 L653.30,869.62 L653.80,869.28 L654.30,869.07 L654.80,869.00 L655.30,869.07 L655.80,869.29 L656.30,869.62 L656.80,870.05 L657.30,870.52 L657.80,871.02 L658.30,871.50 L658.80,871.94 L659.30,872.32 L659.80,872.64 L660.30,872.89 L660.80,873.08 L661.30,873.22 L661.80,873.32 L662.30,873.39 L662.80,873.43 L663.30,873.46 L747.30,873.50" stroke="#ff0000"/>
<path d="M146.30,873.50 L597.80,873.46 L598.30,873.43 L598.80,873.39 L599.30,873.32 L599.80,873.22 L600.30,873.08 L600.80,872.89 L601.30,872.64 L601.80,872.32 L602.30,871.94 L602.80,871.50 L603.30,871.02 L603.80,870.52 L604.30,870.05 L604.80,869.62 L605.30,869.29 L605.80,869.07 L606.30,869.00 L606.80,869.07 L607.30,869.29 L607.80,869.62 L608.30,870.05 L608.80,870.52 L609.30,871.02 L609.80,871.50 L610.30,871.94 L610.80,872.32 L611.30,872.64 L611.80,872.89 L612.30,873.08 L612.80,873.22 L613.30,873.32 L613.80,873.39 L614.30,873.43 L614.80,873.46 L630.80,873.47 L631.30,873.44 L631.80,873.39 L632.30,873.30 L632.80,873.16 L633.30,872.94 L633.80,872.61 L634.30,872.11 L634.80,871.42 L635.30,870.47 L635.80,869.25 L636.30,867.72 L636.80,865.89 L637.30,863.81 L637.80,861.57 L638.30,859.29 L638.80,857.12 L639.30,855.23 L639.80,853.78 L640.30,852.92 L640.80,852.71 L641.30,853.19 L641.80,854.30 L642.30,855.94 L642.80,857.96 L643.30,860.20 L643.80,862.48 L644.30,864.67 L644.80,866.65 L645.30,868.37 L645.80,869.77 L646.30,870.88 L646.80,871.72 L647.30,872.33 L647.80,872.76 L648.30,873.04 L648.80,873.23 L649.30,873.34 L649.80,873.41 L650.30,873.45 L747.30,873.50" stroke="#00ff00"/>
</g>
<path d="M145.3,648.8 L748.3,648.8 M145.3,760.6 L748.3,760.6 M145.3,872.8 L748.3,872.8 M145.3,984.0 L748.3,984.0 M145.3,647.1999999999999 L145.3,985.6 M748.3,647.1999999999999 L748.3,985.6" stroke="#000" stroke-width="3.2" fill="none"/>
<path d="M162.53,648.8 L162.53,653.8 M162.53,760.6 L162.53,755.6 M162.53,872.8 L162.53,867.8 M162.53,984.0 L162.53,989.5 M196.99,648.8 L196.99,653.8 M196.99,760.6 L196.99,755.6 M196.99,872.8 L196.99,867.8 M196.99,984.0 L196.99,989.5 M231.44,648.8 L231.44,658.8 M231.44,760.6 L231.44,750.6 M231.44,872.8 L231.44,862.8 M231.44,984.0 L231.44,994.0 M265.90,648.8 L265.90,653.8 M265.90,760.6 L265.90,755.6 M265.90,872.8 L265.90,867.8 M265.90,984.0 L265.90,989.5 M300.36,648.8 L300.36,653.8 M300.36,760.6 L300.36,755.6 M300.36,872.8 L300.36,867.8 M300.36,984.0 L300.36,989.5 M334.81,648.8 L334.81,653.8 M334.81,760.6 L334.81,755.6 M334.81,872.8 L334.81,867.8 M334.81,984.0 L334.81,989.5 M369.27,648.8 L369.27,653.8 M369.27,760.6 L369.27,755.6 M369.27,872.8 L369.27,867.8 M369.27,984.0 L369.27,989.5 M403.73,648.8 L403.73,658.8 M403.73,760.6 L403.73,750.6 M403.73,872.8 L403.73,862.8 M403.73,984.0 L403.73,994.0 M438.19,648.8 L438.19,653.8 M438.19,760.6 L438.19,755.6 M438.19,872.8 L438.19,867.8 M438.19,984.0 L438.19,989.5 M472.64,648.8 L472.64,653.8 M472.64,760.6 L472.64,755.6 M472.64,872.8 L472.64,867.8 M472.64,984.0 L472.64,989.5 M507.10,648.8 L507.10,653.8 M507.10,760.6 L507.10,755.6 M507.10,872.8 L507.10,867.8 M507.10,984.0 L507.10,989.5 M541.56,648.8 L541.56,653.8 M541.56,760.6 L541.56,755.6 M541.56,872.8 L541.56,867.8 M541.56,984.0 L541.56,989.5 M576.01,648.8 L576.01,658.8 M576.01,760.6 L576.01,750.6 M576.01,872.8 L576.01,862.8 M576.01,984.0 L576.01,994.0 M610.47,648.8 L610.47,653.8 M610.47,760.6 L610.47,755.6 M610.47,872.8 L610.47,867.8 M610.47,984.0 L610.47,989.5 M644.93,648.8 L644.93,653.8 M644.93,760.6 L644.93,755.6 M644.93,872.8 L644.93,867.8 M644.93,984.0 L644.93,989.5 M679.39,648.8 L679.39,653.8 M679.39,760.6 L679.39,755.6 M679.39,872.8 L679.39,867.8 M679.39,984.0 L679.39,989.5 M713.84,648.8 L713.84,653.8 M713.84,760.6 L713.84,755.6 M713.84,872.8 L713.84,867.8 M713.84,984.0 L713.84,989.5 M748.3,984.0 L748.3,994.0 M135.3,760.60 L145.3,760.60 M738.3,760.60 L748.3,760.60 M135.3,726.80 L145.3,726.80 M738.3,726.80 L748.3,726.80 M135.3,693.00 L145.3,693.00 M738.3,693.00 L748.3,693.00 M135.3,659.20 L145.3,659.20 M738.3,659.20 L748.3,659.20 M145.3,743.70 L150.3,743.70 M743.3,743.70 L748.3,743.70 M145.3,709.90 L150.3,709.90 M743.3,709.90 L748.3,709.90 M145.3,676.10 L150.3,676.10 M743.3,676.10 L748.3,676.10 M135.3,872.80 L145.3,872.80 M738.3,872.80 L748.3,872.80 M135.3,830.62 L145.3,830.62 M738.3,830.62 L748.3,830.62 M135.3,788.44 L145.3,788.44 M738.3,788.44 L748.3,788.44 M145.3,851.71 L150.3,851.71 M743.3,851.71 L748.3,851.71 M145.3,809.53 L150.3,809.53 M743.3,809.53 L748.3,809.53 M145.3,767.35 L150.3,767.35 M743.3,767.35 L748.3,767.35 M135.3,984.00 L145.3,984.00 M738.3,984.00 L748.3,984.00 M135.3,940.51 L145.3,940.51 M738.3,940.51 L748.3,940.51 M135.3,897.01 L145.3,897.01 M738.3,897.01 L748.3,897.01 M140.3,962.25 L145.3,962.25 M743.3,962.25 L748.3,962.25 M140.3,918.76 L145.3,918.76 M743.3,918.76 L748.3,918.76 M140.3,875.27 L145.3,875.27 M743.3,875.27 L748.3,875.27" stroke="#000" stroke-width="3.0" fill="none"/>
<rect x="151" y="651.2" width="105" height="107.4" fill="#fff"/>
<rect x="151" y="763.0" width="105" height="107.8" fill="#fff"/>
<clipPath id="cq_c3"><rect x="146.9" y="874.4" width="599.8" height="111.70000000000005"/></clipPath>
<g clip-path="url(#cq_c3)">
<line x1="629.4" y1="874.4" x2="629.4" y2="982.4" stroke="#000" stroke-width="2.6" stroke-dasharray="11 11" stroke-dashoffset="-3"/><line x1="663.6" y1="874.4" x2="663.6" y2="982.4" stroke="#000" stroke-width="2.6" stroke-dasharray="11 11" stroke-dashoffset="-3"/>
<path d="M148.00,981.00 L324.29,980.72 L383.57,977.74 L395.00,976.60 L397.86,976.13 L410.00,973.00" fill="none" stroke="#000" stroke-width="6" stroke-linejoin="round" stroke-linecap="round"/>
<path d="M405.00,977.44 L407.35,976.96 L409.62,976.38 L411.14,975.89 L411.90,975.60 L412.66,975.25 L413.41,974.82 L414.17,974.31 L414.92,973.72 L415.68,973.07 L416.43,972.35 L417.19,971.58 L417.94,970.76 L418.70,969.90 L419.45,968.91 L420.20,967.73 L420.95,966.40 L421.70,964.96 L423.20,961.90 L423.97,960.26 L424.73,958.49 L425.50,956.63 L426.27,954.69 L427.03,952.67 L427.80,950.60 L428.65,948.14 L430.35,942.83 L431.20,940.30 L432.90,935.42 L433.75,933.16 L434.60,931.20 L435.42,929.51 L436.24,927.88 L437.06,926.41 L437.88,925.22 L438.70,924.40 L440.13,923.41 L440.84,922.98 L441.56,922.62 L442.27,922.34 L442.99,922.16 L443.70,922.10 L444.47,922.25 L445.23,922.66 L446.00,923.26 L446.77,923.98 L448.30,925.50 L449.05,926.31 L449.80,927.27 L451.30,929.37 L452.05,930.36 L452.80,931.20 L453.51,931.87 L454.23,932.48 L457.79,935.20 L460.03,937.14 L460.80,937.83 L461.57,938.57 L462.33,939.39 L463.10,940.30 L463.85,941.39 L464.60,942.69 L466.10,945.60 L466.85,947.02 L467.60,948.30 L469.74,951.65 L470.45,952.71 L471.16,953.72 L471.88,954.65 L472.59,955.48 L473.30,956.20 L474.06,956.87 L474.81,957.48 L475.57,958.05 L477.08,959.07 L478.59,959.97 L481.62,961.58 L484.65,962.99 L486.93,963.90 L490.62,965.15 L495.61,966.51 L502.03,967.87 L520.65,970.67 L523.54,970.93 L534.80,971.00 L535.50,970.97 L536.20,970.90 L537.60,970.64 L543.20,968.97 L549.50,967.34 L550.90,967.07 L552.30,966.92 L553.70,966.91 L555.80,967.06 L562.95,968.02 L567.38,968.87 L569.60,969.40 L571.04,969.85 L573.20,970.72 L577.55,972.63 L579.80,973.80 L580.55,974.15 L581.30,974.44 L582.05,974.63 L582.80,974.70 L583.50,974.68 L584.90,974.51 L589.10,973.69 L590.50,973.52 L591.94,973.51 L599.32,973.97 L600.80,974.00 L601.60,973.73 L602.40,973.03 L603.20,972.04 L604.80,969.73 L605.60,968.70 L606.35,967.80 L609.35,963.88 L610.10,962.98 L610.85,962.17 L611.60,961.50 L612.35,960.96 L613.10,960.51 L615.35,959.40 L616.10,958.99 L616.85,958.50 L617.60,957.90 L618.36,957.10 L619.12,956.10 L619.89,954.91 L620.65,953.56 L621.41,952.08 L622.18,950.49 L622.94,948.82 L623.70,947.10 L624.45,945.25 L625.20,943.16 L625.95,940.87 L626.70,938.42 L627.45,935.85 L628.20,933.19 L629.70,927.80 L630.50,924.75 L631.30,921.44 L632.10,918.01 L632.90,914.63 L633.70,911.44 L635.22,906.04 L635.94,903.35 L636.66,900.92 L637.38,899.17 L638.10,898.50 L638.90,898.83 L639.70,899.71 L640.50,901.03 L641.30,902.64 L642.90,906.20 L643.70,908.28 L644.50,910.87 L645.30,913.81 L646.90,920.05 L647.70,923.00 L650.90,934.36 L651.70,937.16 L654.90,948.13 L655.70,950.77 L656.50,953.24 L657.30,955.50 L658.10,957.62 L658.90,959.70 L659.70,961.66 L660.50,963.46 L661.30,965.03 L662.10,966.30 L662.90,967.39 L663.70,968.43 L664.50,969.37 L665.30,970.16 L666.10,970.75 L666.90,971.10 L669.19,971.64 L671.48,972.04 L673.01,972.20 L674.54,972.29 L684.90,972.30 L685.64,972.33 L686.38,972.41 L687.85,972.71 L693.02,974.33 L694.50,974.70 L719.57,978.59 L731.65,979.77 L748.00,980.70" fill="none" stroke="#000" stroke-width="10.0" stroke-linejoin="round" stroke-linecap="round"/>
<circle cx="400.0" cy="978.6" r="4.5"/><circle cx="403.4" cy="979.4" r="4.5"/><circle cx="406.9" cy="975.8" r="4.5"/><circle cx="410.3" cy="977.4" r="4.5"/><circle cx="413.8" cy="974.2" r="4.5"/><circle cx="417.2" cy="971.2" r="4.5"/><circle cx="420.7" cy="969.4" r="4.5"/><circle cx="424.1" cy="960.1" r="4.5"/><circle cx="427.6" cy="951.2" r="4.5"/><circle cx="431.0" cy="941.8" r="4.5"/><circle cx="434.5" cy="933.0" r="4.5"/><circle cx="437.9" cy="925.2" r="4.5"/><circle cx="441.4" cy="923.5" r="4.5"/><circle cx="444.8" cy="921.2" r="4.5"/><circle cx="448.2" cy="925.0" r="4.5"/><circle cx="451.7" cy="929.3" r="4.5"/><circle cx="455.1" cy="931.4" r="4.5"/><circle cx="458.6" cy="933.9" r="4.5"/><circle cx="462.0" cy="936.9" r="4.5"/><circle cx="465.5" cy="944.1" r="4.5"/><circle cx="468.9" cy="950.1" r="4.5"/><circle cx="472.4" cy="954.8" r="4.5"/><circle cx="475.8" cy="958.3" r="4.5"/><circle cx="479.3" cy="958.6" r="4.5"/><circle cx="482.7" cy="962.0" r="4.5"/><circle cx="486.2" cy="963.9" r="4.5"/><circle cx="489.6" cy="965.8" r="4.5"/><circle cx="493.0" cy="964.7" r="4.5"/><circle cx="496.5" cy="966.2" r="4.5"/><circle cx="499.9" cy="964.8" r="4.5"/><circle cx="503.4" cy="967.4" r="4.5"/><circle cx="506.8" cy="965.7" r="4.5"/><circle cx="510.3" cy="967.3" r="4.5"/><circle cx="513.7" cy="971.1" r="4.5"/><circle cx="517.2" cy="967.3" r="4.5"/><circle cx="520.6" cy="971.7" r="4.5"/><circle cx="524.1" cy="971.4" r="4.5"/><circle cx="527.5" cy="970.5" r="4.5"/><circle cx="530.9" cy="971.6" r="4.5"/><circle cx="534.4" cy="971.7" r="4.5"/><circle cx="537.8" cy="971.9" r="4.5"/><circle cx="541.3" cy="969.2" r="4.5"/><circle cx="544.7" cy="967.8" r="4.5"/><circle cx="548.2" cy="966.9" r="4.5"/><circle cx="551.6" cy="965.7" r="4.5"/><circle cx="555.1" cy="967.0" r="4.5"/><circle cx="558.5" cy="966.4" r="4.5"/><circle cx="562.0" cy="969.3" r="4.5"/><circle cx="565.4" cy="966.1" r="4.5"/><circle cx="568.9" cy="967.8" r="4.5"/><circle cx="572.3" cy="969.1" r="4.5"/><circle cx="575.7" cy="969.1" r="4.5"/><circle cx="579.2" cy="976.0" r="4.5"/><circle cx="582.6" cy="971.6" r="4.5"/><circle cx="586.1" cy="973.9" r="4.5"/><circle cx="589.5" cy="973.0" r="4.5"/><circle cx="593.0" cy="975.7" r="4.5"/><circle cx="596.4" cy="971.2" r="4.5"/><circle cx="599.9" cy="975.4" r="4.5"/><circle cx="603.3" cy="970.9" r="4.5"/><circle cx="606.8" cy="967.1" r="4.5"/><circle cx="610.2" cy="962.0" r="4.5"/><circle cx="613.7" cy="961.1" r="4.5"/><circle cx="617.1" cy="956.8" r="4.5"/><circle cx="620.5" cy="953.6" r="4.5"/><circle cx="624.0" cy="946.8" r="4.5"/><circle cx="627.4" cy="938.3" r="4.5"/><circle cx="630.9" cy="920.0" r="4.5"/><circle cx="634.3" cy="911.2" r="4.5"/><circle cx="637.8" cy="900.0" r="4.5"/><circle cx="641.2" cy="901.8" r="4.5"/><circle cx="644.7" cy="911.9" r="4.5"/><circle cx="648.1" cy="923.9" r="4.5"/><circle cx="651.6" cy="938.8" r="4.5"/><circle cx="655.0" cy="948.7" r="4.5"/><circle cx="658.5" cy="958.3" r="4.5"/><circle cx="661.9" cy="965.7" r="4.5"/><circle cx="665.3" cy="969.9" r="4.5"/><circle cx="668.8" cy="971.3" r="4.5"/><circle cx="672.2" cy="971.0" r="4.5"/><circle cx="675.7" cy="975.0" r="4.5"/><circle cx="679.1" cy="969.8" r="4.5"/><circle cx="682.6" cy="968.8" r="4.5"/><circle cx="686.0" cy="972.2" r="4.5"/><circle cx="689.5" cy="973.0" r="4.5"/><circle cx="692.9" cy="974.8" r="4.5"/><circle cx="696.4" cy="974.7" r="4.5"/><circle cx="699.8" cy="975.3" r="4.5"/><circle cx="703.2" cy="976.5" r="4.5"/><circle cx="706.7" cy="977.9" r="4.5"/><circle cx="710.1" cy="976.5" r="4.5"/><circle cx="713.6" cy="977.2" r="4.5"/><circle cx="717.0" cy="980.7" r="4.5"/><circle cx="720.5" cy="979.4" r="4.5"/><circle cx="723.9" cy="977.7" r="4.5"/><circle cx="727.4" cy="982.4" r="4.5"/><circle cx="730.8" cy="980.7" r="4.5"/><circle cx="734.3" cy="979.1" r="4.5"/><circle cx="737.7" cy="978.6" r="4.5"/><circle cx="741.2" cy="980.7" r="4.5"/><circle cx="744.6" cy="979.4" r="4.5"/>
<circle cx="637.6" cy="885.8" r="4.5"/><circle cx="609.2" cy="957.9" r="4.5"/><circle cx="629.7" cy="921.8" r="4.5"/><circle cx="647.7" cy="931.4" r="4.5"/><circle cx="645.3" cy="911.0" r="4.5"/><circle cx="651.3" cy="942.3" r="4.5"/><circle cx="622.5" cy="941.0" r="4.5"/><circle cx="626.0" cy="935.0" r="4.5"/><circle cx="636.0" cy="897.0" r="4.5"/><circle cx="440.0" cy="918.0" r="4.5"/><circle cx="446.0" cy="919.0" r="4.5"/><circle cx="452.0" cy="925.0" r="4.5"/><circle cx="462.0" cy="933.0" r="4.5"/><circle cx="427.0" cy="945.0" r="4.5"/><circle cx="431.0" cy="935.0" r="4.5"/><circle cx="423.0" cy="955.0" r="4.5"/><circle cx="418.0" cy="965.0" r="4.5"/>
<path d="M148.00,982.40 L380.71,980.67 L390.71,980.14 L393.56,979.79 L407.35,976.96 L409.62,976.38 L411.14,975.89 L411.90,975.60 L412.66,975.25 L413.41,974.82 L414.17,974.31 L414.92,973.72 L415.68,973.07 L416.43,972.35 L417.19,971.58 L417.94,970.76 L418.70,969.90 L419.45,968.91 L420.20,967.73 L420.95,966.40 L421.70,964.96 L423.20,961.90 L423.97,960.26 L424.73,958.49 L425.50,956.63 L426.27,954.69 L427.03,952.67 L427.80,950.60 L428.65,948.14 L430.35,942.83 L431.20,940.30 L432.90,935.42 L433.75,933.16 L434.60,931.20 L435.42,929.51 L436.24,927.88 L437.06,926.41 L437.88,925.22 L438.70,924.40 L440.13,923.41 L440.84,922.98 L441.56,922.62 L442.27,922.34 L442.99,922.16 L443.70,922.10 L444.47,922.25 L445.23,922.66 L446.00,923.26 L446.77,923.98 L448.30,925.50 L449.05,926.31 L449.80,927.27 L451.30,929.37 L452.05,930.36 L452.80,931.20 L453.51,931.87 L454.23,932.48 L457.79,935.20 L460.03,937.14 L460.80,937.83 L461.57,938.57 L462.33,939.39 L463.10,940.30 L463.85,941.39 L464.60,942.69 L466.10,945.60 L466.85,947.02 L467.60,948.30 L469.74,951.65 L470.45,952.71 L471.16,953.72 L471.88,954.65 L472.59,955.48 L473.30,956.20 L474.06,956.87 L474.81,957.48 L475.57,958.05 L477.08,959.07 L478.59,959.97 L481.62,961.58 L484.65,962.99 L486.93,963.90 L490.62,965.15 L495.61,966.51 L502.03,967.87 L520.65,970.67 L523.54,970.93 L534.80,971.00 L535.50,970.97 L536.20,970.90 L537.60,970.64 L543.20,968.97 L549.50,967.34 L550.90,967.07 L552.30,966.92 L553.70,966.91 L555.80,967.06 L562.95,968.02 L567.38,968.87 L569.60,969.40 L571.04,969.85 L573.20,970.72 L577.55,972.63 L579.80,973.80 L580.55,974.15 L581.30,974.44 L582.05,974.63 L582.80,974.70 L583.50,974.68 L584.90,974.51 L589.10,973.69 L590.50,973.52 L591.94,973.51 L599.32,973.97 L600.80,974.00 L601.60,973.73 L602.40,973.03 L603.20,972.04 L604.80,969.73 L605.60,968.70 L606.35,967.80 L609.35,963.88 L610.10,962.98 L610.85,962.17 L611.60,961.50 L612.35,960.96 L613.10,960.51 L615.35,959.40 L616.10,958.99 L616.85,958.50 L617.60,957.90 L618.36,957.10 L619.12,956.10 L619.89,954.91 L620.65,953.56 L621.41,952.08 L622.18,950.49 L622.94,948.82 L623.70,947.10 L624.45,945.25 L625.20,943.16 L625.95,940.87 L626.70,938.42 L627.45,935.85 L628.20,933.19 L629.70,927.80 L630.50,924.75 L631.30,921.44 L632.10,918.01 L632.90,914.63 L633.70,911.44 L635.22,906.04 L635.94,903.35 L636.66,900.92 L637.38,899.17 L638.10,898.50 L638.90,898.83 L639.70,899.71 L640.50,901.03 L641.30,902.64 L642.90,906.20 L643.70,908.28 L644.50,910.87 L645.30,913.81 L646.90,920.05 L647.70,923.00 L650.90,934.36 L651.70,937.16 L654.90,948.13 L655.70,950.77 L656.50,953.24 L657.30,955.50 L658.10,957.62 L658.90,959.70 L659.70,961.66 L660.50,963.46 L661.30,965.03 L662.10,966.30 L662.90,967.39 L663.70,968.43 L664.50,969.37 L665.30,970.16 L666.10,970.75 L666.90,971.10 L669.19,971.64 L671.48,972.04 L673.01,972.20 L674.54,972.29 L684.90,972.30 L685.64,972.33 L686.38,972.41 L687.85,972.71 L693.02,974.33 L694.50,974.70 L719.57,978.59 L731.65,979.77 L748.00,980.70" fill="none" stroke="#0000ff" stroke-width="3.9" stroke-linejoin="round" stroke-linecap="round"/>
</g>
<text x="128.30" y="768.50" font-size="25" text-anchor="end" >0.0</text>
<text x="128.30" y="734.70" font-size="25" text-anchor="end" >0.5</text>
<text x="128.30" y="700.90" font-size="25" text-anchor="end" >1.0</text>
<text x="128.30" y="667.10" font-size="25" text-anchor="end" >1.5</text>
<text x="128.30" y="880.70" font-size="25" text-anchor="end" >0.0</text>
<text x="128.30" y="838.52" font-size="25" text-anchor="end" >0.6</text>
<text x="128.30" y="796.34" font-size="25" text-anchor="end" >1.2</text>
<text x="128.30" y="991.90" font-size="25" text-anchor="end" >0.0</text>
<text x="128.30" y="948.41" font-size="25" text-anchor="end" >3.1</text>
<text x="128.30" y="904.91" font-size="25" text-anchor="end" >6.2</text>
<text x="16.00" y="677.40" font-size="36" text-anchor="start" >c)</text>
<clipPath id="cp_d1"><rect x="146.8" y="1015.4" width="600.0" height="110.19999999999993"/></clipPath>
<clipPath id="cp_d2"><rect x="146.8" y="1127.1" width="600.0" height="111.0"/></clipPath>
<clipPath id="cp_d3"><rect x="146.8" y="1239.6" width="600.0" height="110.20000000000005"/></clipPath>
<g clip-path="url(#cp_d1)" fill="none" stroke-width="3.5" stroke-linejoin="round">
<path d="M146.30,1126.30 L442.80,1126.25 L443.30,1126.21 L443.80,1126.12 L444.30,1125.96 L444.80,1125.69 L445.30,1125.23 L445.80,1124.47 L446.30,1123.29 L446.80,1121.50 L447.30,1118.90 L447.80,1115.26 L448.30,1110.36 L448.80,1104.04 L449.30,1096.23 L449.80,1087.00 L450.30,1076.60 L450.80,1065.50 L451.30,1054.33 L451.80,1043.89 L452.30,1034.99 L452.80,1028.43 L453.30,1024.81 L453.80,1024.47 L454.30,1027.45 L454.80,1033.47 L455.30,1041.96 L455.80,1052.16 L456.30,1063.25 L456.80,1074.42 L457.30,1085.00 L457.80,1094.49 L458.30,1102.60 L458.80,1109.22 L459.30,1114.38 L459.80,1118.26 L460.30,1121.05 L460.80,1122.98 L461.30,1124.27 L461.80,1125.10 L462.30,1125.62 L462.80,1125.92 L463.30,1126.10 L463.80,1126.19 L464.30,1126.25 L464.80,1126.27 L623.80,1126.25 L624.30,1126.22 L624.80,1126.17 L625.30,1126.09 L625.80,1125.99 L626.30,1125.83 L626.80,1125.63 L627.30,1125.37 L627.80,1125.05 L628.30,1124.68 L628.80,1124.27 L629.30,1123.83 L629.80,1123.40 L630.30,1123.00 L630.80,1122.66 L631.30,1122.43 L631.80,1122.31 L632.30,1122.32 L632.80,1122.47 L633.30,1122.72 L633.80,1123.07 L634.30,1123.48 L634.80,1123.91 L635.30,1124.35 L635.80,1124.75 L636.30,1125.10 L636.80,1125.39 L637.30,1125.62 L637.80,1125.77 L638.30,1125.86 L638.80,1125.88 L639.30,1125.83 L639.80,1125.73 L640.30,1125.56 L640.80,1125.34 L641.30,1125.07 L641.80,1124.77 L642.30,1124.44 L642.80,1124.12 L643.30,1123.82 L643.80,1123.57 L644.30,1123.40 L644.80,1123.31 L645.30,1123.32 L645.80,1123.42 L646.30,1123.62 L646.80,1123.88 L647.30,1124.19 L647.80,1124.51 L648.30,1124.84 L648.80,1125.15 L649.30,1125.42 L649.80,1125.65 L650.30,1125.83 L650.80,1125.98 L651.30,1126.08 L651.80,1126.16 L652.30,1126.21 L652.80,1126.25 L653.30,1126.27 L747.30,1126.30" stroke="#000"/>
<path d="M146.30,1126.30 L539.80,1126.25 L540.30,1126.22 L540.80,1126.18 L541.30,1126.12 L541.80,1126.05 L542.30,1125.95 L542.80,1125.83 L543.30,1125.69 L543.80,1125.54 L544.30,1125.37 L544.80,1125.21 L545.30,1125.06 L545.80,1124.94 L546.30,1124.85 L546.80,1124.80 L547.30,1124.80 L547.80,1124.85 L548.30,1124.94 L548.80,1125.05 L549.30,1125.17 L549.80,1125.27 L550.30,1125.33 L550.80,1125.31 L551.30,1125.17 L551.80,1124.86 L552.30,1124.35 L552.80,1123.55 L553.30,1122.44 L553.80,1120.95 L554.30,1119.08 L554.80,1116.84 L555.30,1114.27 L555.80,1111.50 L556.30,1108.67 L556.80,1105.98 L557.30,1103.63 L557.80,1101.84 L558.30,1100.77 L558.80,1100.52 L559.30,1101.11 L559.80,1102.48 L560.30,1104.52 L560.80,1107.03 L561.30,1109.80 L561.80,1112.63 L562.30,1115.35 L562.80,1117.81 L563.30,1119.93 L563.80,1121.68 L564.30,1123.06 L564.80,1124.10 L565.30,1124.85 L565.80,1125.38 L566.30,1125.73 L566.80,1125.96 L567.30,1126.11 L567.80,1126.19 L568.30,1126.24 L568.80,1126.27 L633.30,1126.25 L633.80,1126.21 L634.30,1126.15 L634.80,1126.05 L635.30,1125.90 L635.80,1125.68 L636.30,1125.37 L636.80,1124.95 L637.30,1124.40 L637.80,1123.71 L638.30,1122.90 L638.80,1121.97 L639.30,1120.97 L639.80,1119.95 L640.30,1118.97 L640.80,1118.13 L641.30,1117.48 L641.80,1117.09 L642.30,1117.00 L642.80,1117.20 L643.30,1117.69 L643.80,1118.40 L644.30,1119.27 L644.80,1120.22 L645.30,1121.17 L645.80,1122.04 L646.30,1122.77 L646.80,1123.34 L647.30,1123.71 L647.80,1123.88 L648.30,1123.89 L648.80,1123.75 L649.30,1123.50 L649.80,1123.19 L650.30,1122.87 L650.80,1122.59 L651.30,1122.39 L651.80,1122.29 L652.30,1122.31 L652.80,1122.46 L653.30,1122.72 L653.80,1123.07 L654.30,1123.48 L654.80,1123.92 L655.30,1124.35 L655.80,1124.76 L656.30,1125.12 L656.80,1125.43 L657.30,1125.68 L657.80,1125.87 L658.30,1126.01 L658.80,1126.11 L659.30,1126.18 L659.80,1126.23 L660.30,1126.26 L747.30,1126.30" stroke="#ff00ff"/>
<path d="M146.30,1126.30 L464.30,1126.27 L464.80,1126.25 L465.30,1126.20 L465.80,1126.11 L466.30,1125.97 L466.80,1125.73 L467.30,1125.34 L467.80,1124.75 L468.30,1123.88 L468.80,1122.64 L469.30,1120.95 L469.80,1118.74 L470.30,1115.95 L470.80,1112.59 L471.30,1108.73 L471.80,1104.51 L472.30,1100.17 L472.80,1095.98 L473.30,1092.26 L473.80,1089.33 L474.30,1087.45 L474.80,1086.80 L475.30,1087.45 L475.80,1089.33 L476.30,1092.26 L476.80,1095.98 L477.30,1100.17 L477.80,1104.51 L478.30,1108.72 L478.80,1112.58 L479.30,1115.93 L479.80,1118.71 L480.30,1120.91 L480.80,1122.55 L481.30,1123.71 L481.80,1124.45 L482.30,1124.81 L482.80,1124.82 L483.30,1124.49 L483.80,1123.77 L484.30,1122.61 L484.80,1120.93 L485.30,1118.64 L485.80,1115.70 L486.30,1112.09 L486.80,1107.85 L487.30,1103.13 L487.80,1098.14 L488.30,1093.19 L488.80,1088.63 L489.30,1084.84 L489.80,1082.15 L490.30,1080.82 L490.80,1080.97 L491.30,1082.59 L491.80,1085.52 L492.30,1089.49 L492.80,1094.16 L493.30,1099.15 L493.80,1104.10 L494.30,1108.75 L494.80,1112.87 L495.30,1116.36 L495.80,1119.18 L496.30,1121.37 L496.80,1122.99 L497.30,1124.16 L497.80,1124.95 L498.30,1125.48 L498.80,1125.82 L499.30,1126.03 L499.80,1126.15 L500.30,1126.22 L500.80,1126.26 L618.30,1126.26 L618.80,1126.24 L619.30,1126.20 L619.80,1126.14 L620.30,1126.07 L620.80,1125.97 L621.30,1125.84 L621.80,1125.68 L622.30,1125.49 L622.80,1125.28 L623.30,1125.06 L623.80,1124.85 L624.30,1124.65 L624.80,1124.48 L625.30,1124.36 L625.80,1124.31 L626.30,1124.31 L626.80,1124.38 L627.30,1124.51 L627.80,1124.69 L628.30,1124.89 L628.80,1125.11 L629.30,1125.33 L629.80,1125.53 L630.30,1125.71 L630.80,1125.86 L631.30,1125.99 L631.80,1126.08 L632.30,1126.15 L632.80,1126.21 L633.30,1126.24 L633.80,1126.26 L648.30,1126.26 L648.80,1126.23 L649.30,1126.19 L649.80,1126.11 L650.30,1125.99 L650.80,1125.82 L651.30,1125.58 L651.80,1125.24 L652.30,1124.81 L652.80,1124.26 L653.30,1123.59 L653.80,1122.83 L654.30,1122.00 L654.80,1121.14 L655.30,1120.31 L655.80,1119.58 L656.30,1119.00 L656.80,1118.63 L657.30,1118.50 L657.80,1118.63 L658.30,1119.00 L658.80,1119.58 L659.30,1120.31 L659.80,1121.14 L660.30,1122.00 L660.80,1122.83 L661.30,1123.59 L661.80,1124.26 L662.30,1124.81 L662.80,1125.24 L663.30,1125.58 L663.80,1125.82 L664.30,1125.99 L664.80,1126.11 L665.30,1126.19 L665.80,1126.23 L666.30,1126.26 L747.30,1126.30" stroke="#ff0000"/>
<path d="M146.30,1126.30 L455.80,1126.27 L456.30,1126.23 L456.80,1126.18 L457.30,1126.07 L457.80,1125.90 L458.30,1125.61 L458.80,1125.15 L459.30,1124.45 L459.80,1123.43 L460.30,1122.00 L460.80,1120.05 L461.30,1117.51 L461.80,1114.34 L462.30,1110.57 L462.80,1106.28 L463.30,1101.64 L463.80,1096.92 L464.30,1092.43 L464.80,1088.53 L465.30,1085.54 L465.80,1083.75 L466.30,1083.33 L466.80,1084.31 L467.30,1086.61 L467.80,1090.00 L468.30,1094.18 L468.80,1098.80 L469.30,1103.52 L469.80,1108.05 L470.30,1112.15 L470.80,1115.69 L471.30,1118.60 L471.80,1120.89 L472.30,1122.63 L472.80,1123.89 L473.30,1124.77 L473.80,1125.36 L474.30,1125.74 L474.80,1125.98 L475.30,1126.12 L475.80,1126.20 L476.30,1126.25 L476.80,1126.27 L622.30,1126.26 L622.80,1126.24 L623.30,1126.20 L623.80,1126.14 L624.30,1126.07 L624.80,1125.97 L625.30,1125.84 L625.80,1125.68 L626.30,1125.49 L626.80,1125.28 L627.30,1125.06 L627.80,1124.85 L628.30,1124.65 L628.80,1124.48 L629.30,1124.36 L629.80,1124.31 L630.30,1124.31 L630.80,1124.38 L631.30,1124.51 L631.80,1124.69 L632.30,1124.89 L632.80,1125.11 L633.30,1125.33 L633.80,1125.53 L634.30,1125.71 L634.80,1125.86 L635.30,1125.98 L635.80,1126.06 L636.30,1126.11 L636.80,1126.13 L637.30,1126.12 L637.80,1126.06 L638.30,1125.96 L638.80,1125.79 L639.30,1125.56 L639.80,1125.24 L640.30,1124.84 L640.80,1124.34 L641.30,1123.75 L641.80,1123.10 L642.30,1122.41 L642.80,1121.73 L643.30,1121.10 L643.80,1120.57 L644.30,1120.20 L644.80,1120.02 L645.30,1120.04 L645.80,1120.26 L646.30,1120.67 L646.80,1121.21 L647.30,1121.86 L647.80,1122.55 L648.30,1123.23 L648.80,1123.87 L649.30,1124.44 L649.80,1124.93 L650.30,1125.32 L650.80,1125.62 L651.30,1125.84 L651.80,1126.00 L652.30,1126.11 L652.80,1126.19 L653.30,1126.23 L653.80,1126.26 L747.30,1126.30" stroke="#00ff00"/>
</g>
<g clip-path="url(#cp_d2)" fill="none" stroke-width="3.5" stroke-linejoin="round">
<path d="M146.30,1238.80 L467.30,1238.77 L467.80,1238.73 L468.30,1238.67 L468.80,1238.56 L469.30,1238.38 L469.80,1238.07 L470.30,1237.59 L470.80,1236.85 L471.30,1235.75 L471.80,1234.18 L472.30,1232.05 L472.80,1229.24 L473.30,1225.72 L473.80,1221.47 L474.30,1216.60 L474.80,1211.28 L475.30,1205.79 L475.80,1200.50 L476.30,1195.80 L476.80,1192.09 L477.30,1189.72 L477.80,1188.90 L478.30,1189.72 L478.80,1192.09 L479.30,1195.80 L479.80,1200.50 L480.30,1205.79 L480.80,1211.28 L481.30,1216.60 L481.80,1221.47 L482.30,1225.72 L482.80,1229.24 L483.30,1232.05 L483.80,1234.18 L484.30,1235.75 L484.80,1236.85 L485.30,1237.59 L485.80,1238.07 L486.30,1238.38 L486.80,1238.56 L487.30,1238.67 L487.80,1238.73 L488.30,1238.77 L528.30,1238.76 L528.80,1238.73 L529.30,1238.68 L529.80,1238.59 L530.30,1238.45 L530.80,1238.22 L531.30,1237.88 L531.80,1237.40 L532.30,1236.72 L532.80,1235.82 L533.30,1234.67 L533.80,1233.25 L534.30,1231.60 L534.80,1229.76 L535.30,1227.81 L535.80,1225.87 L536.30,1224.10 L536.80,1222.62 L537.30,1221.57 L537.80,1221.05 L538.30,1221.11 L538.80,1221.74 L539.30,1222.88 L539.80,1224.43 L540.30,1226.25 L540.80,1228.20 L541.30,1230.14 L541.80,1231.95 L542.30,1233.56 L542.80,1234.92 L543.30,1236.02 L543.80,1236.87 L544.30,1237.51 L544.80,1237.96 L545.30,1238.27 L545.80,1238.48 L546.30,1238.61 L546.80,1238.69 L547.30,1238.74 L547.80,1238.77 L571.30,1238.75 L571.80,1238.71 L572.30,1238.63 L572.80,1238.51 L573.30,1238.31 L573.80,1238.00 L574.30,1237.54 L574.80,1236.86 L575.30,1235.93 L575.80,1234.68 L576.30,1233.09 L576.80,1231.14 L577.30,1228.85 L577.80,1226.30 L578.30,1223.61 L578.80,1220.94 L579.30,1218.48 L579.80,1216.43 L580.30,1214.98 L580.80,1214.26 L581.30,1214.35 L581.80,1215.22 L582.30,1216.80 L582.80,1218.94 L583.30,1221.46 L583.80,1224.15 L584.30,1226.83 L584.80,1229.33 L585.30,1231.56 L585.80,1233.44 L586.30,1234.96 L586.80,1236.14 L587.30,1237.02 L587.80,1237.64 L588.30,1238.07 L588.80,1238.36 L589.30,1238.54 L589.80,1238.65 L590.30,1238.72 L590.80,1238.76 L636.80,1238.76 L637.30,1238.74 L637.80,1238.70 L638.30,1238.65 L638.80,1238.56 L639.30,1238.45 L639.80,1238.30 L640.30,1238.10 L640.80,1237.87 L641.30,1237.59 L641.80,1237.28 L642.30,1236.95 L642.80,1236.62 L643.30,1236.32 L643.80,1236.07 L644.30,1235.90 L644.80,1235.81 L645.30,1235.82 L645.80,1235.92 L646.30,1236.12 L646.80,1236.38 L647.30,1236.69 L647.80,1237.01 L648.30,1237.34 L648.80,1237.65 L649.30,1237.92 L649.80,1238.15 L650.30,1238.33 L650.80,1238.48 L651.30,1238.58 L651.80,1238.66 L652.30,1238.71 L652.80,1238.75 L653.30,1238.77 L747.30,1238.80" stroke="#000"/>
<path d="M146.30,1238.80 L459.30,1238.77 L459.80,1238.74 L460.30,1238.67 L460.80,1238.56 L461.30,1238.36 L461.80,1238.03 L462.30,1237.47 L462.80,1236.60 L463.30,1235.27 L463.80,1233.32 L464.30,1230.57 L464.80,1226.84 L465.30,1221.99 L465.80,1215.95 L466.30,1208.73 L466.80,1200.52 L467.30,1191.66 L467.80,1182.63 L468.30,1174.05 L468.80,1166.59 L469.30,1160.89 L469.80,1157.46 L470.30,1156.65 L470.80,1158.53 L471.30,1162.92 L471.80,1169.40 L472.30,1177.39 L472.80,1186.23 L473.30,1195.26 L473.80,1203.91 L474.30,1211.75 L474.80,1218.51 L475.30,1224.08 L475.80,1228.46 L476.30,1231.78 L476.80,1234.18 L477.30,1235.86 L477.80,1236.99 L478.30,1237.71 L478.80,1238.15 L479.30,1238.41 L479.80,1238.53 L480.30,1238.56 L480.80,1238.51 L481.30,1238.40 L481.80,1238.21 L482.30,1237.94 L482.80,1237.58 L483.30,1237.10 L483.80,1236.53 L484.30,1235.85 L484.80,1235.09 L485.30,1234.29 L485.80,1233.50 L486.30,1232.77 L486.80,1232.16 L487.30,1231.73 L487.80,1231.52 L488.30,1231.54 L488.80,1231.80 L489.30,1232.27 L489.80,1232.91 L490.30,1233.65 L490.80,1234.45 L491.30,1235.25 L491.80,1235.99 L492.30,1236.65 L492.80,1237.21 L493.30,1237.66 L493.80,1238.01 L494.30,1238.27 L494.80,1238.46 L495.30,1238.58 L495.80,1238.67 L496.30,1238.72 L496.80,1238.76 L506.80,1238.76 L507.30,1238.72 L507.80,1238.66 L508.30,1238.54 L508.80,1238.36 L509.30,1238.06 L509.80,1237.60 L510.30,1236.93 L510.80,1235.97 L511.30,1234.66 L511.80,1232.94 L512.30,1230.78 L512.80,1228.18 L513.30,1225.19 L513.80,1221.92 L514.30,1218.56 L514.80,1215.31 L515.30,1212.43 L515.80,1210.16 L516.30,1208.70 L516.80,1208.20 L517.30,1208.70 L517.80,1210.16 L518.30,1212.43 L518.80,1215.31 L519.30,1218.56 L519.80,1221.92 L520.30,1225.19 L520.80,1228.18 L521.30,1230.78 L521.80,1232.94 L522.30,1234.66 L522.80,1235.97 L523.30,1236.93 L523.80,1237.60 L524.30,1238.06 L524.80,1238.36 L525.30,1238.54 L525.80,1238.66 L526.30,1238.72 L526.80,1238.76 L628.80,1238.76 L629.30,1238.72 L629.80,1238.66 L630.30,1238.57 L630.80,1238.42 L631.30,1238.19 L631.80,1237.87 L632.30,1237.42 L632.80,1236.83 L633.30,1236.06 L633.80,1235.12 L634.30,1234.03 L634.80,1232.80 L635.30,1231.51 L635.80,1230.23 L636.30,1229.05 L636.80,1228.07 L637.30,1227.38 L637.80,1227.03 L638.30,1227.07 L638.80,1227.49 L639.30,1228.25 L639.80,1229.28 L640.30,1230.48 L640.80,1231.77 L641.30,1233.06 L641.80,1234.26 L642.30,1235.32 L642.80,1236.23 L643.30,1236.96 L643.80,1237.52 L644.30,1237.94 L644.80,1238.25 L645.30,1238.45 L645.80,1238.59 L646.30,1238.68 L646.80,1238.73 L647.30,1238.76 L747.30,1238.80" stroke="#ff00ff"/>
<path d="M146.30,1238.80 L443.80,1238.75 L444.30,1238.70 L444.80,1238.61 L445.30,1238.45 L445.80,1238.16 L446.30,1237.67 L446.80,1236.87 L447.30,1235.63 L447.80,1233.75 L448.30,1231.01 L448.80,1227.17 L449.30,1222.02 L449.80,1215.37 L450.30,1207.14 L450.80,1197.42 L451.30,1186.47 L451.80,1174.78 L452.30,1163.03 L452.80,1152.03 L453.30,1142.66 L453.80,1135.75 L454.30,1131.94 L454.80,1131.58 L455.30,1134.73 L455.80,1141.06 L456.30,1150.00 L456.80,1160.74 L457.30,1172.41 L457.80,1184.18 L458.30,1195.32 L458.80,1205.31 L459.30,1213.85 L459.80,1220.81 L460.30,1226.25 L460.80,1230.33 L461.30,1233.27 L461.80,1235.31 L462.30,1236.67 L462.80,1237.54 L463.30,1238.08 L463.80,1238.40 L464.30,1238.59 L464.80,1238.69 L465.30,1238.74 L465.80,1238.77 L616.80,1238.76 L617.30,1238.73 L617.80,1238.68 L618.30,1238.60 L618.80,1238.48 L619.30,1238.30 L619.80,1238.06 L620.30,1237.75 L620.80,1237.34 L621.30,1236.84 L621.80,1236.25 L622.30,1235.60 L622.80,1234.91 L623.30,1234.23 L623.80,1233.60 L624.30,1233.07 L624.80,1232.70 L625.30,1232.52 L625.80,1232.54 L626.30,1232.76 L626.80,1233.17 L627.30,1233.71 L627.80,1234.36 L628.30,1235.05 L628.80,1235.73 L629.30,1236.37 L629.80,1236.94 L630.30,1237.43 L630.80,1237.82 L631.30,1238.12 L631.80,1238.34 L632.30,1238.50 L632.80,1238.61 L633.30,1238.69 L633.80,1238.73 L634.30,1238.76 L647.80,1238.76 L648.30,1238.73 L648.80,1238.68 L649.30,1238.60 L649.80,1238.47 L650.30,1238.26 L650.80,1237.96 L651.30,1237.52 L651.80,1236.93 L652.30,1236.16 L652.80,1235.18 L653.30,1234.01 L653.80,1232.66 L654.30,1231.19 L654.80,1229.67 L655.30,1228.21 L655.80,1226.91 L656.30,1225.88 L656.80,1225.23 L657.30,1225.00 L657.80,1225.23 L658.30,1225.88 L658.80,1226.91 L659.30,1228.21 L659.80,1229.67 L660.30,1231.19 L660.80,1232.66 L661.30,1234.01 L661.80,1235.18 L662.30,1236.16 L662.80,1236.93 L663.30,1237.52 L663.80,1237.96 L664.30,1238.26 L664.80,1238.47 L665.30,1238.60 L665.80,1238.68 L666.30,1238.73 L666.80,1238.76 L747.30,1238.80" stroke="#ff0000"/>
<path d="M146.30,1238.80 L405.80,1238.77 L406.30,1238.74 L406.80,1238.69 L407.30,1238.59 L407.80,1238.41 L408.30,1238.12 L408.80,1237.64 L409.30,1236.90 L409.80,1235.77 L410.30,1234.12 L410.80,1231.82 L411.30,1228.73 L411.80,1224.74 L412.30,1219.80 L412.80,1213.97 L413.30,1207.40 L413.80,1200.39 L414.30,1193.34 L414.80,1186.74 L415.30,1181.12 L415.80,1176.97 L416.30,1174.68 L416.80,1174.47 L417.30,1176.36 L417.80,1180.16 L418.30,1185.52 L418.80,1191.96 L419.30,1198.97 L419.80,1206.03 L420.30,1212.71 L420.80,1218.71 L421.30,1223.83 L421.80,1228.01 L422.30,1231.27 L422.80,1233.72 L423.30,1235.48 L423.80,1236.71 L424.30,1237.52 L424.80,1238.04 L425.30,1238.37 L425.80,1238.56 L426.30,1238.67 L426.80,1238.73 L427.30,1238.77 L514.30,1238.75 L514.80,1238.71 L515.30,1238.64 L515.80,1238.51 L516.30,1238.30 L516.80,1237.97 L517.30,1237.46 L517.80,1236.71 L518.30,1235.64 L518.80,1234.17 L519.30,1232.25 L519.80,1229.83 L520.30,1226.93 L520.80,1223.58 L521.30,1219.94 L521.80,1216.18 L522.30,1212.55 L522.80,1209.33 L523.30,1206.79 L523.80,1205.16 L524.30,1204.60 L524.80,1205.16 L525.30,1206.79 L525.80,1209.33 L526.30,1212.55 L526.80,1216.18 L527.30,1219.94 L527.80,1223.58 L528.30,1226.93 L528.80,1229.83 L529.30,1232.25 L529.80,1234.17 L530.30,1235.64 L530.80,1236.71 L531.30,1237.46 L531.80,1237.97 L532.30,1238.30 L532.80,1238.51 L533.30,1238.64 L533.80,1238.71 L534.30,1238.75 L579.30,1238.76 L579.80,1238.73 L580.30,1238.67 L580.80,1238.59 L581.30,1238.45 L581.80,1238.24 L582.30,1237.94 L582.80,1237.51 L583.30,1236.94 L583.80,1236.21 L584.30,1235.30 L584.80,1234.22 L585.30,1233.01 L585.80,1231.71 L586.30,1230.41 L586.80,1229.19 L587.30,1228.16 L587.80,1227.39 L588.30,1226.97 L588.80,1226.93 L589.30,1227.28 L589.80,1227.98 L590.30,1228.97 L590.80,1230.16 L591.30,1231.45 L591.80,1232.75 L592.30,1233.99 L592.80,1235.09 L593.30,1236.04 L593.80,1236.81 L594.30,1237.41 L594.80,1237.86 L595.30,1238.19 L595.80,1238.41 L596.30,1238.56 L596.80,1238.66 L597.30,1238.72 L597.80,1238.76 L630.80,1238.77 L631.30,1238.74 L631.80,1238.69 L632.30,1238.62 L632.80,1238.50 L633.30,1238.32 L633.80,1238.07 L634.30,1237.71 L634.80,1237.24 L635.30,1236.64 L635.80,1235.90 L636.30,1235.03 L636.80,1234.07 L637.30,1233.04 L637.80,1232.02 L638.30,1231.06 L638.80,1230.25 L639.30,1229.63 L639.80,1229.25 L640.30,1229.11 L640.80,1229.20 L641.30,1229.45 L641.80,1229.80 L642.30,1230.14 L642.80,1230.40 L643.30,1230.51 L643.80,1230.42 L644.30,1230.15 L644.80,1229.73 L645.30,1229.24 L645.80,1228.75 L646.30,1228.36 L646.80,1228.17 L647.30,1228.23 L647.80,1228.58 L648.30,1229.19 L648.80,1230.05 L649.30,1231.07 L649.80,1232.20 L650.30,1233.34 L650.80,1234.42 L651.30,1235.41 L651.80,1236.26 L652.30,1236.95 L652.80,1237.50 L653.30,1237.92 L653.80,1238.22 L654.30,1238.43 L654.80,1238.57 L655.30,1238.67 L655.80,1238.72 L656.30,1238.76 L747.30,1238.80" stroke="#00ff00"/>
</g>
<path d="M145.3,1013.9 L748.3,1013.9 M145.3,1125.6 L748.3,1125.6 M145.3,1238.1 L748.3,1238.1 M145.3,1349.8 L748.3,1349.8 M145.3,1012.3 L145.3,1351.3999999999999 M748.3,1012.3 L748.3,1351.3999999999999" stroke="#000" stroke-width="3.2" fill="none"/>
<path d="M162.53,1013.9 L162.53,1018.9 M162.53,1125.6 L162.53,1120.6 M162.53,1238.1 L162.53,1233.1 M162.53,1349.8 L162.53,1355.3 M196.99,1013.9 L196.99,1018.9 M196.99,1125.6 L196.99,1120.6 M196.99,1238.1 L196.99,1233.1 M196.99,1349.8 L196.99,1355.3 M231.44,1013.9 L231.44,1023.9 M231.44,1125.6 L231.44,1115.6 M231.44,1238.1 L231.44,1228.1 M231.44,1349.8 L231.44,1359.8 M265.90,1013.9 L265.90,1018.9 M265.90,1125.6 L265.90,1120.6 M265.90,1238.1 L265.90,1233.1 M265.90,1349.8 L265.90,1355.3 M300.36,1013.9 L300.36,1018.9 M300.36,1125.6 L300.36,1120.6 M300.36,1238.1 L300.36,1233.1 M300.36,1349.8 L300.36,1355.3 M334.81,1013.9 L334.81,1018.9 M334.81,1125.6 L334.81,1120.6 M334.81,1238.1 L334.81,1233.1 M334.81,1349.8 L334.81,1355.3 M369.27,1013.9 L369.27,1018.9 M369.27,1125.6 L369.27,1120.6 M369.27,1238.1 L369.27,1233.1 M369.27,1349.8 L369.27,1355.3 M403.73,1013.9 L403.73,1023.9 M403.73,1125.6 L403.73,1115.6 M403.73,1238.1 L403.73,1228.1 M403.73,1349.8 L403.73,1359.8 M438.19,1013.9 L438.19,1018.9 M438.19,1125.6 L438.19,1120.6 M438.19,1238.1 L438.19,1233.1 M438.19,1349.8 L438.19,1355.3 M472.64,1013.9 L472.64,1018.9 M472.64,1125.6 L472.64,1120.6 M472.64,1238.1 L472.64,1233.1 M472.64,1349.8 L472.64,1355.3 M507.10,1013.9 L507.10,1018.9 M507.10,1125.6 L507.10,1120.6 M507.10,1238.1 L507.10,1233.1 M507.10,1349.8 L507.10,1355.3 M541.56,1013.9 L541.56,1018.9 M541.56,1125.6 L541.56,1120.6 M541.56,1238.1 L541.56,1233.1 M541.56,1349.8 L541.56,1355.3 M576.01,1013.9 L576.01,1023.9 M576.01,1125.6 L576.01,1115.6 M576.01,1238.1 L576.01,1228.1 M576.01,1349.8 L576.01,1359.8 M610.47,1013.9 L610.47,1018.9 M610.47,1125.6 L610.47,1120.6 M610.47,1238.1 L610.47,1233.1 M610.47,1349.8 L610.47,1355.3 M644.93,1013.9 L644.93,1018.9 M644.93,1125.6 L644.93,1120.6 M644.93,1238.1 L644.93,1233.1 M644.93,1349.8 L644.93,1355.3 M679.39,1013.9 L679.39,1018.9 M679.39,1125.6 L679.39,1120.6 M679.39,1238.1 L679.39,1233.1 M679.39,1349.8 L679.39,1355.3 M713.84,1013.9 L713.84,1018.9 M713.84,1125.6 L713.84,1120.6 M713.84,1238.1 L713.84,1233.1 M713.84,1349.8 L713.84,1355.3 M748.3,1349.8 L748.3,1359.8 M135.3,1125.60 L145.3,1125.60 M738.3,1125.60 L748.3,1125.60 M135.3,1090.81 L145.3,1090.81 M738.3,1090.81 L748.3,1090.81 M135.3,1056.03 L145.3,1056.03 M738.3,1056.03 L748.3,1056.03 M135.3,1021.24 L145.3,1021.24 M738.3,1021.24 L748.3,1021.24 M140.3,1108.21 L145.3,1108.21 M743.3,1108.21 L748.3,1108.21 M140.3,1073.42 L145.3,1073.42 M743.3,1073.42 L748.3,1073.42 M140.3,1038.64 L145.3,1038.64 M743.3,1038.64 L748.3,1038.64 M135.3,1238.10 L145.3,1238.10 M738.3,1238.10 L748.3,1238.10 M135.3,1207.92 L145.3,1207.92 M738.3,1207.92 L748.3,1207.92 M135.3,1177.74 L145.3,1177.74 M738.3,1177.74 L748.3,1177.74 M135.3,1147.56 L145.3,1147.56 M738.3,1147.56 L748.3,1147.56 M140.3,1223.01 L145.3,1223.01 M743.3,1223.01 L748.3,1223.01 M140.3,1192.83 L145.3,1192.83 M743.3,1192.83 L748.3,1192.83 M140.3,1162.65 L145.3,1162.65 M743.3,1162.65 L748.3,1162.65 M140.3,1132.47 L145.3,1132.47 M743.3,1132.47 L748.3,1132.47 M135.3,1349.80 L145.3,1349.80 M738.3,1349.80 L748.3,1349.80 M135.3,1308.10 L145.3,1308.10 M738.3,1308.10 L748.3,1308.10 M135.3,1266.40 L145.3,1266.40 M738.3,1266.40 L748.3,1266.40 M140.3,1328.95 L145.3,1328.95 M743.3,1328.95 L748.3,1328.95 M140.3,1287.25 L145.3,1287.25 M743.3,1287.25 L748.3,1287.25 M140.3,1245.55 L145.3,1245.55 M743.3,1245.55 L748.3,1245.55" stroke="#000" stroke-width="3.0" fill="none"/>
<rect x="151" y="1016.3" width="105" height="107.3" fill="#fff"/>
<rect x="151" y="1128.0" width="105" height="108.1" fill="#fff"/>
<clipPath id="cq_d3"><rect x="146.9" y="1239.6999999999998" width="599.8" height="112.20000000000005"/></clipPath>
<g clip-path="url(#cq_d3)">
<line x1="629.4" y1="1239.6999999999998" x2="629.4" y2="1348.2" stroke="#000" stroke-width="2.6" stroke-dasharray="11 11" stroke-dashoffset="-3"/><line x1="663.6" y1="1239.6999999999998" x2="663.6" y2="1348.2" stroke="#000" stroke-width="2.6" stroke-dasharray="11 11" stroke-dashoffset="-3"/>
<path d="M148.00,1348.00 L362.86,1346.82 L390.71,1345.69 L404.27,1345.47 L416.41,1344.64 L422.86,1343.83 L425.74,1343.33 L427.91,1342.81 L430.07,1342.16 L432.96,1341.11 L434.40,1340.50 L435.82,1339.80 L437.24,1338.96 L438.66,1337.96 L440.08,1336.80 L441.50,1335.50 L442.25,1334.72 L443.00,1333.84 L443.75,1332.85 L444.50,1331.76 L445.25,1330.57 L446.00,1329.28 L446.75,1327.89 L447.50,1326.40 L448.32,1324.48 L449.14,1322.17 L449.96,1319.59 L451.60,1314.20 L452.40,1311.47 L453.20,1308.53 L454.00,1305.55 L454.80,1302.69 L455.60,1300.10 L456.33,1297.98 L457.06,1295.99 L457.79,1294.10 L460.70,1286.90 L462.84,1281.53 L464.27,1278.06 L464.99,1276.39 L465.70,1274.80 L466.43,1273.23 L467.16,1271.71 L467.89,1270.22 L468.61,1268.78 L469.34,1267.38 L470.07,1266.02 L470.80,1264.70 L471.51,1263.32 L472.94,1260.27 L473.66,1258.85 L474.37,1257.69 L475.09,1256.89 L475.80,1256.60 L476.62,1256.76 L477.44,1257.21 L478.26,1257.87 L479.08,1258.69 L479.90,1259.60 L480.70,1260.96 L481.50,1263.00 L483.10,1267.72 L483.90,1269.70 L484.63,1271.19 L485.36,1272.58 L486.09,1273.91 L486.81,1275.18 L489.00,1278.80 L490.52,1281.24 L492.05,1283.59 L493.58,1285.81 L495.10,1287.90 L495.85,1288.87 L497.35,1290.69 L501.86,1295.88 L504.91,1299.26 L505.68,1300.15 L506.44,1301.09 L507.20,1302.10 L507.96,1303.19 L508.72,1304.37 L509.49,1305.62 L512.54,1310.91 L514.80,1314.77 L517.05,1318.68 L517.80,1319.94 L518.55,1321.15 L520.06,1323.46 L521.59,1325.86 L522.35,1327.02 L523.11,1328.09 L523.88,1329.04 L524.64,1329.82 L525.40,1330.40 L527.61,1331.68 L529.08,1332.41 L529.82,1332.72 L530.55,1332.98 L531.29,1333.20 L532.03,1333.36 L532.76,1333.46 L533.50,1333.50 L534.97,1333.45 L537.18,1333.23 L540.13,1332.72 L541.60,1332.40 L542.34,1332.15 L543.07,1331.76 L543.81,1331.25 L544.55,1330.65 L547.49,1327.95 L548.23,1327.34 L548.96,1326.82 L549.70,1326.40 L552.57,1325.00 L554.01,1324.38 L554.73,1324.12 L555.45,1323.91 L556.16,1323.74 L556.88,1323.64 L557.60,1323.60 L566.98,1324.09 L567.70,1324.10 L568.42,1324.06 L569.14,1323.96 L569.86,1323.80 L571.31,1323.37 L574.19,1322.33 L575.64,1321.90 L576.36,1321.74 L577.08,1321.64 L577.80,1321.60 L578.56,1321.65 L579.32,1321.77 L580.08,1321.97 L580.84,1322.22 L584.64,1323.81 L592.49,1326.90 L595.64,1328.04 L596.42,1328.37 L597.21,1328.76 L598.00,1329.20 L598.71,1329.75 L599.42,1330.50 L600.13,1331.39 L602.27,1334.37 L602.98,1335.29 L603.69,1336.09 L604.40,1336.70 L606.68,1338.31 L607.44,1338.81 L608.20,1339.27 L608.96,1339.68 L609.72,1340.02 L610.48,1340.28 L611.24,1340.44 L612.00,1340.50 L620.80,1340.50 L621.50,1340.41 L622.20,1340.16 L622.90,1339.79 L623.60,1339.33 L626.40,1337.16 L627.10,1336.70 L631.04,1334.52 L632.61,1333.55 L633.40,1333.00 L634.82,1331.89 L635.53,1331.29 L636.24,1330.65 L636.96,1329.96 L637.67,1329.21 L638.38,1328.41 L639.09,1327.54 L639.80,1326.60 L640.52,1325.44 L641.23,1324.01 L641.95,1322.42 L642.67,1320.78 L643.38,1319.20 L644.90,1316.23 L645.70,1314.56 L646.50,1313.04 L647.30,1311.93 L648.10,1311.50 L648.82,1311.67 L649.53,1312.12 L650.25,1312.78 L650.97,1313.58 L652.40,1315.30 L653.13,1316.26 L653.86,1317.41 L654.59,1318.70 L656.77,1322.83 L657.50,1324.10 L659.08,1326.65 L662.22,1331.62 L663.80,1334.20 L664.51,1335.51 L665.23,1336.96 L665.94,1338.46 L666.66,1339.92 L667.37,1341.24 L668.09,1342.33 L668.80,1343.10 L670.32,1344.29 L671.08,1344.83 L671.84,1345.33 L672.60,1345.77 L673.36,1346.15 L674.12,1346.47 L674.88,1346.70 L675.64,1346.85 L676.40,1346.90 L693.76,1346.93 L710.36,1348.05 L748.00,1348.60" fill="none" stroke="#000" stroke-width="10.0" stroke-linejoin="round" stroke-linecap="round"/>
<circle cx="420.0" cy="1344.8" r="4.5"/><circle cx="423.4" cy="1344.9" r="4.5"/><circle cx="426.9" cy="1343.1" r="4.5"/><circle cx="430.3" cy="1343.1" r="4.5"/><circle cx="433.8" cy="1342.6" r="4.5"/><circle cx="437.2" cy="1340.1" r="4.5"/><circle cx="440.7" cy="1338.9" r="4.5"/><circle cx="444.1" cy="1331.8" r="4.5"/><circle cx="447.6" cy="1326.9" r="4.5"/><circle cx="451.0" cy="1315.8" r="4.5"/><circle cx="454.5" cy="1303.5" r="4.5"/><circle cx="457.9" cy="1294.2" r="4.5"/><circle cx="461.4" cy="1286.2" r="4.5"/><circle cx="464.8" cy="1278.0" r="4.5"/><circle cx="468.2" cy="1270.8" r="4.5"/><circle cx="471.7" cy="1266.4" r="4.5"/><circle cx="475.1" cy="1258.6" r="4.5"/><circle cx="478.6" cy="1256.7" r="4.5"/><circle cx="482.0" cy="1265.4" r="4.5"/><circle cx="485.5" cy="1272.6" r="4.5"/><circle cx="488.9" cy="1278.6" r="4.5"/><circle cx="492.4" cy="1286.3" r="4.5"/><circle cx="495.8" cy="1289.1" r="4.5"/><circle cx="499.3" cy="1290.9" r="4.5"/><circle cx="502.7" cy="1297.8" r="4.5"/><circle cx="506.2" cy="1301.0" r="4.5"/><circle cx="509.6" cy="1304.9" r="4.5"/><circle cx="513.0" cy="1311.2" r="4.5"/><circle cx="516.5" cy="1317.5" r="4.5"/><circle cx="519.9" cy="1323.8" r="4.5"/><circle cx="523.4" cy="1328.5" r="4.5"/><circle cx="526.8" cy="1331.9" r="4.5"/><circle cx="530.3" cy="1335.9" r="4.5"/><circle cx="533.7" cy="1333.1" r="4.5"/><circle cx="537.2" cy="1332.8" r="4.5"/><circle cx="540.6" cy="1332.9" r="4.5"/><circle cx="544.1" cy="1333.1" r="4.5"/><circle cx="547.5" cy="1327.6" r="4.5"/><circle cx="550.9" cy="1328.3" r="4.5"/><circle cx="554.4" cy="1323.1" r="4.5"/><circle cx="557.8" cy="1322.9" r="4.5"/><circle cx="561.3" cy="1324.3" r="4.5"/><circle cx="564.7" cy="1323.5" r="4.5"/><circle cx="568.2" cy="1323.9" r="4.5"/><circle cx="571.6" cy="1324.4" r="4.5"/><circle cx="575.1" cy="1323.6" r="4.5"/><circle cx="578.5" cy="1322.4" r="4.5"/><circle cx="582.0" cy="1322.9" r="4.5"/><circle cx="585.4" cy="1326.5" r="4.5"/><circle cx="588.9" cy="1326.6" r="4.5"/><circle cx="592.3" cy="1327.1" r="4.5"/><circle cx="595.7" cy="1330.3" r="4.5"/><circle cx="599.2" cy="1329.7" r="4.5"/><circle cx="602.6" cy="1335.7" r="4.5"/><circle cx="606.1" cy="1339.3" r="4.5"/><circle cx="609.5" cy="1340.5" r="4.5"/><circle cx="613.0" cy="1340.4" r="4.5"/><circle cx="616.4" cy="1341.6" r="4.5"/><circle cx="619.9" cy="1340.4" r="4.5"/><circle cx="623.3" cy="1339.3" r="4.5"/><circle cx="626.8" cy="1336.2" r="4.5"/><circle cx="630.2" cy="1337.3" r="4.5"/><circle cx="633.7" cy="1332.7" r="4.5"/><circle cx="637.1" cy="1331.9" r="4.5"/><circle cx="640.5" cy="1326.5" r="4.5"/><circle cx="644.0" cy="1318.3" r="4.5"/><circle cx="647.4" cy="1313.3" r="4.5"/><circle cx="650.9" cy="1314.4" r="4.5"/><circle cx="654.3" cy="1319.0" r="4.5"/><circle cx="657.8" cy="1323.4" r="4.5"/><circle cx="661.2" cy="1330.7" r="4.5"/><circle cx="664.7" cy="1337.6" r="4.5"/><circle cx="668.1" cy="1343.6" r="4.5"/><circle cx="671.6" cy="1347.0" r="4.5"/><circle cx="675.0" cy="1349.3" r="4.5"/><circle cx="678.5" cy="1348.0" r="4.5"/><circle cx="681.9" cy="1350.1" r="4.5"/><circle cx="685.3" cy="1345.5" r="4.5"/><circle cx="688.8" cy="1347.2" r="4.5"/><circle cx="692.2" cy="1344.2" r="4.5"/><circle cx="695.7" cy="1348.7" r="4.5"/><circle cx="699.1" cy="1348.0" r="4.5"/><circle cx="702.6" cy="1350.3" r="4.5"/><circle cx="706.0" cy="1347.9" r="4.5"/><circle cx="709.5" cy="1346.0" r="4.5"/><circle cx="712.9" cy="1350.4" r="4.5"/><circle cx="716.4" cy="1347.0" r="4.5"/><circle cx="719.8" cy="1347.1" r="4.5"/><circle cx="723.2" cy="1348.6" r="4.5"/><circle cx="726.7" cy="1349.7" r="4.5"/><circle cx="730.1" cy="1348.3" r="4.5"/><circle cx="733.6" cy="1349.2" r="4.5"/><circle cx="737.0" cy="1346.6" r="4.5"/><circle cx="740.5" cy="1351.3" r="4.5"/><circle cx="743.9" cy="1349.1" r="4.5"/><circle cx="747.4" cy="1349.3" r="4.5"/>
<circle cx="475.8" cy="1251.1" r="4.5"/><circle cx="479.9" cy="1255.2" r="4.5"/><circle cx="644.1" cy="1307.0" r="4.5"/><circle cx="649.9" cy="1309.5" r="4.5"/><circle cx="654.9" cy="1315.9" r="4.5"/><circle cx="661.2" cy="1328.5" r="4.5"/><circle cx="657.5" cy="1334.8" r="4.5"/><circle cx="666.3" cy="1337.3" r="4.5"/><circle cx="633.4" cy="1329.8" r="4.5"/><circle cx="589.2" cy="1329.8" r="4.5"/><circle cx="593.0" cy="1321.0" r="4.5"/><circle cx="402.0" cy="1342.5" r="4.5"/><circle cx="452.0" cy="1310.0" r="4.5"/><circle cx="457.0" cy="1296.0" r="4.5"/><circle cx="463.0" cy="1283.0" r="4.5"/>
<path d="M148.00,1348.60 L362.86,1347.42 L390.71,1346.29 L404.27,1346.07 L416.41,1345.24 L422.86,1344.43 L425.74,1343.93 L427.91,1343.41 L430.07,1342.76 L432.96,1341.71 L434.40,1341.10 L435.82,1340.40 L437.24,1339.56 L438.66,1338.56 L440.08,1337.40 L441.50,1336.10 L442.25,1335.32 L443.00,1334.44 L443.75,1333.45 L444.50,1332.36 L445.25,1331.17 L446.00,1329.88 L446.75,1328.49 L447.50,1327.00 L448.32,1325.08 L449.14,1322.77 L449.96,1320.19 L451.60,1314.80 L452.40,1312.07 L453.20,1309.13 L454.00,1306.15 L454.80,1303.29 L455.60,1300.70 L456.33,1298.58 L457.06,1296.59 L457.79,1294.70 L460.70,1287.50 L462.84,1282.13 L464.27,1278.66 L464.99,1276.99 L465.70,1275.40 L466.43,1273.83 L467.16,1272.31 L467.89,1270.82 L468.61,1269.38 L469.34,1267.98 L470.07,1266.62 L470.80,1265.30 L471.51,1263.92 L472.94,1260.87 L473.66,1259.45 L474.37,1258.29 L475.09,1257.49 L475.80,1257.20 L476.62,1257.36 L477.44,1257.81 L478.26,1258.47 L479.08,1259.29 L479.90,1260.20 L480.70,1261.56 L481.50,1263.60 L483.10,1268.32 L483.90,1270.30 L484.63,1271.79 L485.36,1273.18 L486.09,1274.51 L486.81,1275.78 L489.00,1279.40 L490.52,1281.84 L492.05,1284.19 L493.58,1286.41 L495.10,1288.50 L495.85,1289.47 L497.35,1291.29 L501.86,1296.48 L504.91,1299.86 L505.68,1300.75 L506.44,1301.69 L507.20,1302.70 L507.96,1303.79 L508.72,1304.97 L509.49,1306.22 L512.54,1311.51 L514.80,1315.37 L517.05,1319.28 L517.80,1320.54 L518.55,1321.75 L520.06,1324.06 L521.59,1326.46 L522.35,1327.62 L523.11,1328.69 L523.88,1329.64 L524.64,1330.42 L525.40,1331.00 L527.61,1332.28 L529.08,1333.01 L529.82,1333.32 L530.55,1333.58 L531.29,1333.80 L532.03,1333.96 L532.76,1334.06 L533.50,1334.10 L534.97,1334.05 L537.18,1333.83 L540.13,1333.32 L541.60,1333.00 L542.34,1332.75 L543.07,1332.36 L543.81,1331.85 L544.55,1331.25 L547.49,1328.55 L548.23,1327.94 L548.96,1327.42 L549.70,1327.00 L552.57,1325.60 L554.01,1324.98 L554.73,1324.72 L555.45,1324.51 L556.16,1324.34 L556.88,1324.24 L557.60,1324.20 L566.98,1324.69 L567.70,1324.70 L568.42,1324.66 L569.14,1324.56 L569.86,1324.40 L571.31,1323.97 L574.19,1322.93 L575.64,1322.50 L576.36,1322.34 L577.08,1322.24 L577.80,1322.20 L578.56,1322.25 L579.32,1322.37 L580.08,1322.57 L580.84,1322.82 L584.64,1324.41 L592.49,1327.50 L595.64,1328.64 L596.42,1328.97 L597.21,1329.36 L598.00,1329.80 L598.71,1330.35 L599.42,1331.10 L600.13,1331.99 L602.27,1334.97 L602.98,1335.89 L603.69,1336.69 L604.40,1337.30 L606.68,1338.91 L607.44,1339.41 L608.20,1339.87 L608.96,1340.28 L609.72,1340.62 L610.48,1340.88 L611.24,1341.04 L612.00,1341.10 L620.80,1341.10 L621.50,1341.01 L622.20,1340.76 L622.90,1340.39 L623.60,1339.93 L626.40,1337.76 L627.10,1337.30 L631.04,1335.12 L632.61,1334.15 L633.40,1333.60 L634.82,1332.49 L635.53,1331.89 L636.24,1331.25 L636.96,1330.56 L637.67,1329.81 L638.38,1329.01 L639.09,1328.14 L639.80,1327.20 L640.52,1326.04 L641.23,1324.61 L641.95,1323.02 L642.67,1321.38 L643.38,1319.80 L644.90,1316.83 L645.70,1315.16 L646.50,1313.64 L647.30,1312.53 L648.10,1312.10 L648.82,1312.27 L649.53,1312.72 L650.25,1313.38 L650.97,1314.18 L652.40,1315.90 L653.13,1316.86 L653.86,1318.01 L654.59,1319.30 L656.77,1323.43 L657.50,1324.70 L659.08,1327.25 L662.22,1332.22 L663.80,1334.80 L664.51,1336.11 L665.23,1337.56 L665.94,1339.06 L666.66,1340.52 L667.37,1341.84 L668.09,1342.93 L668.80,1343.70 L670.32,1344.89 L671.08,1345.43 L671.84,1345.93 L672.60,1346.37 L673.36,1346.75 L674.12,1347.07 L674.88,1347.30 L675.64,1347.45 L676.40,1347.50 L693.76,1347.53 L710.36,1348.65 L748.00,1349.20" fill="none" stroke="#0000ff" stroke-width="3.9" stroke-linejoin="round" stroke-linecap="round"/>
</g>
<text x="128.30" y="1133.50" font-size="25" text-anchor="end" >0.0</text>
<text x="128.30" y="1098.71" font-size="25" text-anchor="end" >0.9</text>
<text x="128.30" y="1063.93" font-size="25" text-anchor="end" >1.8</text>
<text x="128.30" y="1029.14" font-size="25" text-anchor="end" >2.7</text>
<text x="128.30" y="1246.00" font-size="25" text-anchor="end" >0.0</text>
<text x="128.30" y="1215.82" font-size="25" text-anchor="end" >0.6</text>
<text x="128.30" y="1185.64" font-size="25" text-anchor="end" >1.2</text>
<text x="128.30" y="1155.46" font-size="25" text-anchor="end" >1.8</text>
<text x="128.30" y="1357.70" font-size="25" text-anchor="end" >0</text>
<text x="128.30" y="1316.00" font-size="25" text-anchor="end" >15</text>
<text x="128.30" y="1274.30" font-size="25" text-anchor="end" >30</text>
<text x="16.00" y="1035.40" font-size="36" text-anchor="start" >d)</text>
<clipPath id="cp_e1"><rect x="146.8" y="1383.4" width="600.0" height="110.59999999999991"/></clipPath>
<clipPath id="cp_e2"><rect x="146.8" y="1495.5" width="600.0" height="112.0"/></clipPath>
<clipPath id="cp_e3"><rect x="146.8" y="1609.0" width="600.0" height="109.59999999999991"/></clipPath>
<g clip-path="url(#cp_e1)" fill="none" stroke-width="3.5" stroke-linejoin="round">
<path d="M146.30,1494.70 L460.30,1494.67 L460.80,1494.65 L461.30,1494.60 L461.80,1494.50 L462.30,1494.33 L462.80,1494.05 L463.30,1493.58 L463.80,1492.82 L464.30,1491.67 L464.80,1489.97 L465.30,1487.55 L465.80,1484.24 L466.30,1479.90 L466.80,1474.44 L467.30,1467.86 L467.80,1460.31 L468.30,1452.07 L468.80,1443.56 L469.30,1435.36 L469.80,1428.08 L470.30,1422.35 L470.80,1418.67 L471.30,1417.40 L471.80,1418.67 L472.30,1422.35 L472.80,1428.08 L473.30,1435.36 L473.80,1443.56 L474.30,1452.07 L474.80,1460.31 L475.30,1467.86 L475.80,1474.44 L476.30,1479.90 L476.80,1484.24 L477.30,1487.55 L477.80,1489.97 L478.30,1491.67 L478.80,1492.82 L479.30,1493.58 L479.80,1494.05 L480.30,1494.33 L480.80,1494.50 L481.30,1494.60 L481.80,1494.65 L482.30,1494.67 L492.30,1494.67 L492.80,1494.65 L493.30,1494.60 L493.80,1494.51 L494.30,1494.35 L494.80,1494.08 L495.30,1493.64 L495.80,1492.96 L496.30,1491.92 L496.80,1490.42 L497.30,1488.31 L497.80,1485.47 L498.30,1481.82 L498.80,1477.30 L499.30,1471.95 L499.80,1465.93 L500.30,1459.51 L500.80,1453.04 L501.30,1447.00 L501.80,1441.85 L502.30,1438.05 L502.80,1435.95 L503.30,1435.76 L503.80,1437.48 L504.30,1440.97 L504.80,1445.88 L505.30,1451.78 L505.80,1458.20 L506.30,1464.67 L506.80,1470.79 L507.30,1476.29 L507.80,1480.98 L508.30,1484.81 L508.80,1487.80 L509.30,1490.05 L509.80,1491.66 L510.30,1492.78 L510.80,1493.53 L511.30,1494.01 L511.80,1494.30 L512.30,1494.48 L512.80,1494.58 L513.30,1494.64 L513.80,1494.67 L615.30,1494.65 L615.80,1494.62 L616.30,1494.57 L616.80,1494.50 L617.30,1494.41 L617.80,1494.28 L618.30,1494.12 L618.80,1493.92 L619.30,1493.69 L619.80,1493.43 L620.30,1493.16 L620.80,1492.88 L621.30,1492.63 L621.80,1492.43 L622.30,1492.28 L622.80,1492.21 L623.30,1492.21 L623.80,1492.30 L624.30,1492.46 L624.80,1492.68 L625.30,1492.94 L625.80,1493.21 L626.30,1493.48 L626.80,1493.74 L627.30,1493.96 L627.80,1494.16 L628.30,1494.31 L628.80,1494.43 L629.30,1494.52 L629.80,1494.58 L630.30,1494.63 L630.80,1494.66 L648.80,1494.67 L649.30,1494.64 L649.80,1494.59 L650.30,1494.51 L650.80,1494.38 L651.30,1494.17 L651.80,1493.87 L652.30,1493.44 L652.80,1492.84 L653.30,1492.05 L653.80,1491.05 L654.30,1489.83 L654.80,1488.42 L655.30,1486.86 L655.80,1485.23 L656.30,1483.64 L656.80,1482.20 L657.30,1481.04 L657.80,1480.25 L658.30,1479.91 L658.80,1480.06 L659.30,1480.67 L659.80,1481.70 L660.30,1483.04 L660.80,1484.59 L661.30,1486.21 L661.80,1487.81 L662.30,1489.29 L662.80,1490.59 L663.30,1491.67 L663.80,1492.55 L664.30,1493.22 L664.80,1493.71 L665.30,1494.06 L665.80,1494.30 L666.30,1494.46 L666.80,1494.56 L667.30,1494.62 L667.80,1494.66 L747.30,1494.70" stroke="#000"/>
<path d="M146.30,1494.70 L473.30,1494.65 L473.80,1494.60 L474.30,1494.51 L474.80,1494.35 L475.30,1494.07 L475.80,1493.61 L476.30,1492.87 L476.80,1491.72 L477.30,1490.02 L477.80,1487.58 L478.30,1484.21 L478.80,1479.76 L479.30,1474.11 L479.80,1467.25 L480.30,1459.30 L480.80,1450.52 L481.30,1441.36 L481.80,1432.39 L482.30,1424.29 L482.80,1417.71 L483.30,1413.26 L483.80,1411.36 L484.30,1412.18 L484.80,1415.65 L485.30,1421.44 L485.80,1429.01 L486.30,1437.71 L486.80,1446.87 L487.30,1455.86 L487.80,1464.19 L488.30,1471.51 L488.80,1477.65 L489.30,1482.57 L489.80,1486.35 L490.30,1489.14 L490.80,1491.12 L491.30,1492.47 L491.80,1493.35 L492.30,1493.91 L492.80,1494.25 L493.30,1494.44 L493.80,1494.53 L494.30,1494.57 L494.80,1494.55 L495.30,1494.50 L495.80,1494.40 L496.30,1494.24 L496.80,1494.02 L497.30,1493.72 L497.80,1493.33 L498.30,1492.84 L498.80,1492.27 L499.30,1491.63 L499.80,1490.95 L500.30,1490.26 L500.80,1489.61 L501.30,1489.07 L501.80,1488.66 L502.30,1488.44 L502.80,1488.42 L503.30,1488.60 L503.80,1488.97 L504.30,1489.50 L504.80,1490.13 L505.30,1490.81 L505.80,1491.50 L506.30,1492.15 L506.80,1492.74 L507.30,1493.24 L507.80,1493.65 L508.30,1493.96 L508.80,1494.20 L509.30,1494.38 L509.80,1494.50 L510.30,1494.58 L510.80,1494.63 L511.30,1494.66 L517.80,1494.67 L518.30,1494.63 L518.80,1494.58 L519.30,1494.48 L519.80,1494.32 L520.30,1494.06 L520.80,1493.65 L521.30,1493.06 L521.80,1492.20 L522.30,1491.02 L522.80,1489.45 L523.30,1487.47 L523.80,1485.06 L524.30,1482.26 L524.80,1479.18 L525.30,1475.96 L525.80,1472.81 L526.30,1469.96 L526.80,1467.65 L527.30,1466.09 L527.80,1465.42 L528.30,1465.71 L528.80,1466.93 L529.30,1468.96 L529.80,1471.62 L530.30,1474.68 L530.80,1477.90 L531.30,1481.06 L531.80,1483.98 L532.30,1486.55 L532.80,1488.71 L533.30,1490.44 L533.80,1491.77 L534.30,1492.75 L534.80,1493.44 L535.30,1493.92 L535.80,1494.23 L536.30,1494.42 L536.80,1494.54 L537.30,1494.61 L537.80,1494.66 L630.80,1494.66 L631.30,1494.63 L631.80,1494.58 L632.30,1494.50 L632.80,1494.37 L633.30,1494.17 L633.80,1493.89 L634.30,1493.50 L634.80,1492.98 L635.30,1492.31 L635.80,1491.49 L636.30,1490.53 L636.80,1489.47 L637.30,1488.34 L637.80,1487.22 L638.30,1486.19 L638.80,1485.34 L639.30,1484.73 L639.80,1484.43 L640.30,1484.46 L640.80,1484.83 L641.30,1485.49 L641.80,1486.39 L642.30,1487.44 L642.80,1488.57 L643.30,1489.69 L643.80,1490.74 L644.30,1491.67 L644.80,1492.45 L645.30,1493.09 L645.80,1493.59 L646.30,1493.95 L646.80,1494.22 L647.30,1494.40 L647.80,1494.52 L648.30,1494.59 L648.80,1494.64 L649.30,1494.67 L747.30,1494.70" stroke="#ff00ff"/>
<path d="M146.30,1494.70 L471.80,1494.67 L472.30,1494.63 L472.80,1494.57 L473.30,1494.47 L473.80,1494.28 L474.30,1493.96 L474.80,1493.45 L475.30,1492.65 L475.80,1491.45 L476.30,1489.72 L476.80,1487.32 L477.30,1484.12 L477.80,1480.03 L478.30,1475.01 L478.80,1469.14 L479.30,1462.59 L479.80,1455.67 L480.30,1448.81 L480.80,1442.49 L481.30,1437.24 L481.80,1433.51 L482.30,1431.67 L482.80,1431.87 L483.30,1434.12 L483.80,1438.18 L484.30,1443.69 L484.80,1450.15 L485.30,1457.06 L485.80,1463.94 L486.30,1470.37 L486.80,1476.09 L487.30,1480.92 L487.80,1484.83 L488.30,1487.86 L488.80,1490.12 L489.30,1491.73 L489.80,1492.84 L490.30,1493.57 L490.80,1494.04 L491.30,1494.32 L491.80,1494.49 L492.30,1494.59 L492.80,1494.64 L493.30,1494.67 L541.80,1494.66 L542.30,1494.63 L542.80,1494.58 L543.30,1494.52 L543.80,1494.43 L544.30,1494.31 L544.80,1494.16 L545.30,1493.96 L545.80,1493.74 L546.30,1493.48 L546.80,1493.21 L547.30,1492.94 L547.80,1492.68 L548.30,1492.46 L548.80,1492.30 L549.30,1492.21 L549.80,1492.21 L550.30,1492.28 L550.80,1492.42 L551.30,1492.62 L551.80,1492.86 L552.30,1493.11 L552.80,1493.35 L553.30,1493.53 L553.80,1493.64 L554.30,1493.64 L554.80,1493.49 L555.30,1493.12 L555.80,1492.50 L556.30,1491.54 L556.80,1490.18 L557.30,1488.37 L557.80,1486.07 L558.30,1483.30 L558.80,1480.10 L559.30,1476.60 L559.80,1473.00 L560.30,1469.52 L560.80,1466.43 L561.30,1464.00 L561.80,1462.44 L562.30,1461.90 L562.80,1462.44 L563.30,1464.00 L563.80,1466.43 L564.30,1469.52 L564.80,1473.00 L565.30,1476.61 L565.80,1480.11 L566.30,1483.31 L566.80,1486.10 L567.30,1488.42 L567.80,1490.26 L568.30,1491.66 L568.80,1492.69 L569.30,1493.41 L569.80,1493.90 L570.30,1494.22 L570.80,1494.42 L571.30,1494.55 L571.80,1494.62 L572.30,1494.66 L628.80,1494.66 L629.30,1494.63 L629.80,1494.58 L630.30,1494.49 L630.80,1494.35 L631.30,1494.15 L631.80,1493.84 L632.30,1493.42 L632.80,1492.86 L633.30,1492.13 L633.80,1491.22 L634.30,1490.16 L634.80,1488.96 L635.30,1487.67 L635.80,1486.38 L636.30,1485.18 L636.80,1484.15 L637.30,1483.39 L637.80,1482.97 L638.30,1482.93 L638.80,1483.28 L639.30,1483.97 L639.80,1484.95 L640.30,1486.13 L640.80,1487.41 L641.30,1488.70 L641.80,1489.93 L642.30,1491.02 L642.80,1491.96 L643.30,1492.73 L643.80,1493.32 L644.30,1493.77 L644.80,1494.09 L645.30,1494.32 L645.80,1494.47 L646.30,1494.56 L646.80,1494.62 L647.30,1494.66 L747.30,1494.70" stroke="#ff0000"/>
<path d="M146.30,1494.70 L466.30,1494.67 L466.80,1494.63 L467.30,1494.57 L467.80,1494.45 L468.30,1494.23 L468.80,1493.87 L469.30,1493.27 L469.80,1492.31 L470.30,1490.84 L470.80,1488.66 L471.30,1485.58 L471.80,1481.36 L472.30,1475.82 L472.80,1468.85 L473.30,1460.47 L473.80,1450.83 L474.30,1440.32 L474.80,1429.47 L475.30,1419.01 L475.80,1409.73 L476.30,1402.41 L476.80,1397.72 L477.30,1396.10 L477.80,1397.72 L478.30,1402.41 L478.80,1409.73 L479.30,1419.01 L479.80,1429.47 L480.30,1440.32 L480.80,1450.83 L481.30,1460.47 L481.80,1468.85 L482.30,1475.82 L482.80,1481.36 L483.30,1485.58 L483.80,1488.66 L484.30,1490.84 L484.80,1492.31 L485.30,1493.27 L485.80,1493.87 L486.30,1494.23 L486.80,1494.45 L487.30,1494.57 L487.80,1494.63 L488.30,1494.67 L621.80,1494.65 L622.30,1494.62 L622.80,1494.57 L623.30,1494.49 L623.80,1494.39 L624.30,1494.23 L624.80,1494.03 L625.30,1493.77 L625.80,1493.45 L626.30,1493.08 L626.80,1492.67 L627.30,1492.23 L627.80,1491.80 L628.30,1491.40 L628.80,1491.06 L629.30,1490.83 L629.80,1490.71 L630.30,1490.72 L630.80,1490.87 L631.30,1491.12 L631.80,1491.47 L632.30,1491.88 L632.80,1492.32 L633.30,1492.75 L633.80,1493.16 L634.30,1493.52 L634.80,1493.82 L635.30,1494.07 L635.80,1494.26 L636.30,1494.39 L636.80,1494.48 L637.30,1494.52 L637.80,1494.53 L638.30,1494.50 L638.80,1494.44 L639.30,1494.34 L639.80,1494.19 L640.30,1494.00 L640.80,1493.76 L641.30,1493.49 L641.80,1493.18 L642.30,1492.85 L642.80,1492.52 L643.30,1492.22 L643.80,1491.97 L644.30,1491.80 L644.80,1491.71 L645.30,1491.72 L645.80,1491.82 L646.30,1492.02 L646.80,1492.28 L647.30,1492.58 L647.80,1492.90 L648.30,1493.22 L648.80,1493.51 L649.30,1493.75 L649.80,1493.93 L650.30,1494.03 L650.80,1494.04 L651.30,1493.95 L651.80,1493.75 L652.30,1493.41 L652.80,1492.92 L653.30,1492.28 L653.80,1491.47 L654.30,1490.52 L654.80,1489.46 L655.30,1488.34 L655.80,1487.22 L656.30,1486.19 L656.80,1485.34 L657.30,1484.73 L657.80,1484.43 L658.30,1484.46 L658.80,1484.83 L659.30,1485.49 L659.80,1486.39 L660.30,1487.44 L660.80,1488.57 L661.30,1489.69 L661.80,1490.74 L662.30,1491.67 L662.80,1492.45 L663.30,1493.09 L663.80,1493.59 L664.30,1493.95 L664.80,1494.22 L665.30,1494.40 L665.80,1494.52 L666.30,1494.59 L666.80,1494.64 L667.30,1494.67 L747.30,1494.70" stroke="#00ff00"/>
</g>
<g clip-path="url(#cp_e2)" fill="none" stroke-width="3.5" stroke-linejoin="round">
<path d="M146.30,1608.20 L478.80,1608.18 L479.30,1608.15 L479.80,1608.10 L480.30,1608.00 L480.80,1607.84 L481.30,1607.54 L481.80,1607.05 L482.30,1606.25 L482.80,1605.01 L483.30,1603.15 L483.80,1600.46 L484.30,1596.73 L484.80,1591.75 L485.30,1585.38 L485.80,1577.58 L486.30,1568.44 L486.80,1558.25 L487.30,1547.49 L487.80,1536.82 L488.30,1527.00 L488.80,1518.83 L489.30,1513.03 L489.80,1510.16 L490.30,1510.48 L490.80,1513.97 L491.30,1520.29 L491.80,1528.85 L492.30,1538.91 L492.80,1549.66 L493.30,1560.35 L493.80,1570.36 L494.30,1579.25 L494.80,1586.77 L495.30,1592.85 L495.80,1597.57 L496.30,1601.07 L496.80,1603.58 L497.30,1605.30 L497.80,1606.44 L498.30,1607.17 L498.80,1607.61 L499.30,1607.88 L499.80,1608.03 L500.30,1608.11 L500.80,1608.16 L559.30,1608.16 L559.80,1608.12 L560.30,1608.05 L560.80,1607.95 L561.30,1607.78 L561.80,1607.52 L562.30,1607.13 L562.80,1606.59 L563.30,1605.85 L563.80,1604.87 L564.30,1603.64 L564.80,1602.16 L565.30,1600.46 L565.80,1598.60 L566.30,1596.69 L566.80,1594.84 L567.30,1593.20 L567.80,1591.91 L568.30,1591.08 L568.80,1590.79 L569.30,1591.07 L569.80,1591.88 L570.30,1593.14 L570.80,1594.72 L571.30,1596.46 L571.80,1598.21 L572.30,1599.79 L572.80,1601.07 L573.30,1601.91 L573.80,1602.22 L574.30,1601.92 L574.80,1600.97 L575.30,1599.34 L575.80,1597.05 L576.30,1594.19 L576.80,1590.87 L577.30,1587.30 L577.80,1583.72 L578.30,1580.40 L578.80,1577.63 L579.30,1575.66 L579.80,1574.68 L580.30,1574.80 L580.80,1575.99 L581.30,1578.15 L581.80,1581.08 L582.30,1584.52 L582.80,1588.19 L583.30,1591.85 L583.80,1595.27 L584.30,1598.30 L584.80,1600.88 L585.30,1602.95 L585.80,1604.57 L586.30,1605.76 L586.80,1606.62 L587.30,1607.21 L587.80,1607.60 L588.30,1607.85 L588.80,1608.00 L589.30,1608.09 L589.80,1608.14 L590.30,1608.17 L631.80,1608.16 L632.30,1608.14 L632.80,1608.10 L633.30,1608.05 L633.80,1607.96 L634.30,1607.85 L634.80,1607.70 L635.30,1607.50 L635.80,1607.27 L636.30,1606.99 L636.80,1606.68 L637.30,1606.35 L637.80,1606.02 L638.30,1605.72 L638.80,1605.47 L639.30,1605.30 L639.80,1605.21 L640.30,1605.22 L640.80,1605.32 L641.30,1605.52 L641.80,1605.78 L642.30,1606.09 L642.80,1606.41 L643.30,1606.74 L643.80,1607.05 L644.30,1607.32 L644.80,1607.55 L645.30,1607.73 L645.80,1607.88 L646.30,1607.98 L646.80,1608.06 L647.30,1608.11 L647.80,1608.15 L648.30,1608.17 L747.30,1608.20" stroke="#000"/>
<path d="M146.30,1608.20 L469.80,1608.16 L470.30,1608.12 L470.80,1608.04 L471.30,1607.91 L471.80,1607.68 L472.30,1607.29 L472.80,1606.67 L473.30,1605.72 L473.80,1604.30 L474.30,1602.26 L474.80,1599.46 L475.30,1595.75 L475.80,1591.04 L476.30,1585.33 L476.80,1578.70 L477.30,1571.38 L477.80,1563.75 L478.30,1556.28 L478.80,1549.52 L479.30,1544.04 L479.80,1540.33 L480.30,1538.75 L480.80,1539.43 L481.30,1542.32 L481.80,1547.15 L482.30,1553.46 L482.80,1560.71 L483.30,1568.34 L483.80,1575.83 L484.30,1582.77 L484.80,1588.87 L485.30,1593.97 L485.80,1598.06 L486.30,1601.18 L486.80,1603.45 L487.30,1605.01 L487.80,1605.97 L488.30,1606.46 L488.80,1606.53 L489.30,1606.22 L489.80,1605.53 L490.30,1604.44 L490.80,1602.91 L491.30,1600.91 L491.80,1598.44 L492.30,1595.53 L492.80,1592.29 L493.30,1588.87 L493.80,1585.47 L494.30,1582.34 L494.80,1579.74 L495.30,1577.90 L495.80,1576.98 L496.30,1577.09 L496.80,1578.20 L497.30,1580.21 L497.80,1582.94 L498.30,1586.14 L498.80,1589.56 L499.30,1592.96 L499.80,1596.15 L500.30,1598.98 L500.80,1601.38 L501.30,1603.31 L501.80,1604.81 L502.30,1605.93 L502.80,1606.73 L503.30,1607.28 L503.80,1607.64 L504.30,1607.87 L504.80,1608.01 L505.30,1608.10 L505.80,1608.15 L506.30,1608.17 L540.30,1608.17 L540.80,1608.14 L541.30,1608.09 L541.80,1608.01 L542.30,1607.86 L542.80,1607.62 L543.30,1607.24 L543.80,1606.67 L544.30,1605.84 L544.80,1604.67 L545.30,1603.11 L545.80,1601.09 L546.30,1598.60 L546.80,1595.65 L547.30,1592.33 L547.80,1588.79 L548.30,1585.22 L548.80,1581.89 L549.30,1579.05 L549.80,1576.95 L550.30,1575.79 L550.80,1575.69 L551.30,1576.64 L551.80,1578.56 L552.30,1581.27 L552.80,1584.53 L553.30,1588.07 L553.80,1591.64 L554.30,1595.01 L554.80,1598.04 L555.30,1600.63 L555.80,1602.74 L556.30,1604.40 L556.80,1605.63 L557.30,1606.52 L557.80,1607.14 L558.30,1607.55 L558.80,1607.82 L559.30,1607.98 L559.80,1608.08 L560.30,1608.14 L560.80,1608.17 L614.30,1608.15 L614.80,1608.12 L615.30,1608.07 L615.80,1608.00 L616.30,1607.91 L616.80,1607.78 L617.30,1607.62 L617.80,1607.42 L618.30,1607.19 L618.80,1606.93 L619.30,1606.66 L619.80,1606.38 L620.30,1606.13 L620.80,1605.93 L621.30,1605.78 L621.80,1605.71 L622.30,1605.71 L622.80,1605.80 L623.30,1605.96 L623.80,1606.18 L624.30,1606.44 L624.80,1606.71 L625.30,1606.98 L625.80,1607.24 L626.30,1607.46 L626.80,1607.66 L627.30,1607.81 L627.80,1607.93 L628.30,1608.02 L628.80,1608.08 L629.30,1608.13 L629.80,1608.16 L649.30,1608.15 L649.80,1608.12 L650.30,1608.06 L650.80,1607.96 L651.30,1607.81 L651.80,1607.59 L652.30,1607.28 L652.80,1606.84 L653.30,1606.27 L653.80,1605.53 L654.30,1604.65 L654.80,1603.62 L655.30,1602.48 L655.80,1601.29 L656.30,1600.13 L656.80,1599.08 L657.30,1598.23 L657.80,1597.65 L658.30,1597.41 L658.80,1597.51 L659.30,1597.96 L659.80,1598.71 L660.30,1599.69 L660.80,1600.82 L661.30,1602.01 L661.80,1603.17 L662.30,1604.25 L662.80,1605.20 L663.30,1605.99 L663.80,1606.63 L664.30,1607.12 L664.80,1607.48 L665.30,1607.74 L665.80,1607.91 L666.30,1608.03 L666.80,1608.10 L667.30,1608.14 L667.80,1608.17 L747.30,1608.20" stroke="#ff00ff"/>
<path d="M146.30,1608.20 L409.80,1608.17 L410.30,1608.15 L410.80,1608.09 L411.30,1608.00 L411.80,1607.83 L412.30,1607.55 L412.80,1607.08 L413.30,1606.34 L413.80,1605.22 L414.30,1603.57 L414.80,1601.24 L415.30,1598.09 L415.80,1593.99 L416.30,1588.88 L416.80,1582.78 L417.30,1575.84 L417.80,1568.34 L418.30,1560.71 L418.80,1553.46 L419.30,1547.15 L419.80,1542.32 L420.30,1539.43 L420.80,1538.75 L421.30,1540.33 L421.80,1544.04 L422.30,1549.52 L422.80,1556.28 L423.30,1563.75 L423.80,1571.38 L424.30,1578.70 L424.80,1585.33 L425.30,1591.04 L425.80,1595.75 L426.30,1599.46 L426.80,1602.26 L427.30,1604.30 L427.80,1605.72 L428.30,1606.67 L428.80,1607.29 L429.30,1607.68 L429.80,1607.91 L430.30,1608.04 L430.80,1608.12 L431.30,1608.16 L482.80,1608.15 L483.30,1608.11 L483.80,1608.03 L484.30,1607.89 L484.80,1607.66 L485.30,1607.28 L485.80,1606.70 L486.30,1605.82 L486.80,1604.56 L487.30,1602.81 L487.80,1600.47 L488.30,1597.48 L488.80,1593.81 L489.30,1589.51 L489.80,1584.72 L490.30,1579.67 L490.80,1574.65 L491.30,1570.04 L491.80,1566.20 L492.30,1563.47 L492.80,1562.12 L493.30,1562.27 L493.80,1563.91 L494.30,1566.88 L494.80,1570.91 L495.30,1575.64 L495.80,1580.69 L496.30,1585.71 L496.80,1590.42 L497.30,1594.59 L497.80,1598.13 L498.30,1600.99 L498.80,1603.20 L499.30,1604.85 L499.80,1606.03 L500.30,1606.84 L500.80,1607.37 L501.30,1607.71 L501.80,1607.92 L502.30,1608.05 L502.80,1608.12 L503.30,1608.16 L545.80,1608.17 L546.30,1608.15 L546.80,1608.10 L547.30,1608.02 L547.80,1607.88 L548.30,1607.65 L548.80,1607.29 L549.30,1606.74 L549.80,1605.93 L550.30,1604.79 L550.80,1603.24 L551.30,1601.23 L551.80,1598.72 L552.30,1595.73 L552.80,1592.32 L553.30,1588.64 L553.80,1584.90 L554.30,1581.34 L554.80,1578.24 L555.30,1575.88 L555.80,1574.46 L556.30,1574.12 L556.80,1574.90 L557.30,1576.72 L557.80,1579.41 L558.30,1582.72 L558.80,1586.39 L559.30,1590.14 L559.80,1593.72 L560.30,1596.98 L560.80,1599.78 L561.30,1602.09 L561.80,1603.91 L562.30,1605.29 L562.80,1606.29 L563.30,1606.98 L563.80,1607.45 L564.30,1607.75 L564.80,1607.94 L565.30,1608.06 L565.80,1608.12 L566.30,1608.16 L571.80,1608.17 L572.30,1608.14 L572.80,1608.10 L573.30,1608.03 L573.80,1607.90 L574.30,1607.72 L574.80,1607.43 L575.30,1607.03 L575.80,1606.46 L576.30,1605.71 L576.80,1604.74 L577.30,1603.56 L577.80,1602.17 L578.30,1600.63 L578.80,1599.00 L579.30,1597.38 L579.80,1595.89 L580.30,1594.65 L580.80,1593.77 L581.30,1593.34 L581.80,1593.39 L582.30,1593.92 L582.80,1594.88 L583.30,1596.17 L583.80,1597.70 L584.30,1599.33 L584.80,1600.95 L585.30,1602.46 L585.80,1603.81 L586.30,1604.95 L586.80,1605.87 L587.30,1606.59 L587.80,1607.12 L588.30,1607.50 L588.80,1607.76 L589.30,1607.93 L589.80,1608.04 L590.30,1608.11 L590.80,1608.15 L636.30,1608.17 L636.80,1608.14 L637.30,1608.10 L637.80,1608.03 L638.30,1607.91 L638.80,1607.74 L639.30,1607.48 L639.80,1607.12 L640.30,1606.63 L640.80,1605.99 L641.30,1605.20 L641.80,1604.25 L642.30,1603.17 L642.80,1602.01 L643.30,1600.82 L643.80,1599.69 L644.30,1598.71 L644.80,1597.96 L645.30,1597.51 L645.80,1597.41 L646.30,1597.65 L646.80,1598.23 L647.30,1599.08 L647.80,1600.13 L648.30,1601.29 L648.80,1602.48 L649.30,1603.62 L649.80,1604.65 L650.30,1605.53 L650.80,1606.27 L651.30,1606.84 L651.80,1607.28 L652.30,1607.59 L652.80,1607.81 L653.30,1607.96 L653.80,1608.06 L654.30,1608.12 L654.80,1608.15 L747.30,1608.20" stroke="#ff0000"/>
<path d="M146.30,1608.20 L455.80,1608.16 L456.30,1608.12 L456.80,1608.05 L457.30,1607.92 L457.80,1607.71 L458.30,1607.36 L458.80,1606.81 L459.30,1605.98 L459.80,1604.75 L460.30,1603.01 L460.80,1600.67 L461.30,1597.61 L461.80,1593.80 L462.30,1589.25 L462.80,1584.08 L463.30,1578.49 L463.80,1572.81 L464.30,1567.40 L464.80,1562.70 L465.30,1559.10 L465.80,1556.95 L466.30,1556.43 L466.80,1557.62 L467.30,1560.38 L467.80,1564.47 L468.30,1569.50 L468.80,1575.07 L469.30,1580.76 L469.80,1586.21 L470.30,1591.15 L470.80,1595.41 L471.30,1598.92 L471.80,1601.69 L472.30,1603.78 L472.80,1605.29 L473.30,1606.35 L473.80,1607.06 L474.30,1607.52 L474.80,1607.81 L475.30,1607.98 L475.80,1608.08 L476.30,1608.14 L476.80,1608.17 L488.30,1608.17 L488.80,1608.15 L489.30,1608.10 L489.80,1608.01 L490.30,1607.86 L490.80,1607.60 L491.30,1607.18 L491.80,1606.52 L492.30,1605.53 L492.80,1604.08 L493.30,1602.06 L493.80,1599.33 L494.30,1595.82 L494.80,1591.47 L495.30,1586.34 L495.80,1580.55 L496.30,1574.38 L496.80,1568.16 L497.30,1562.35 L497.80,1557.40 L498.30,1553.75 L498.80,1551.74 L499.30,1551.55 L499.80,1553.21 L500.30,1556.56 L500.80,1561.28 L501.30,1566.95 L501.80,1573.12 L502.30,1579.34 L502.80,1585.22 L503.30,1590.51 L503.80,1595.02 L504.30,1598.70 L504.80,1601.57 L505.30,1603.73 L505.80,1605.28 L506.30,1606.36 L506.80,1607.07 L507.30,1607.53 L507.80,1607.82 L508.30,1607.99 L508.80,1608.09 L509.30,1608.14 L509.80,1608.17 L520.30,1608.16 L520.80,1608.12 L521.30,1608.05 L521.80,1607.93 L522.30,1607.73 L522.80,1607.41 L523.30,1606.91 L523.80,1606.17 L524.30,1605.12 L524.80,1603.66 L525.30,1601.73 L525.80,1599.29 L526.30,1596.32 L526.80,1592.88 L527.30,1589.08 L527.80,1585.11 L528.30,1581.23 L528.80,1577.72 L529.30,1574.88 L529.80,1572.95 L530.30,1572.12 L530.80,1572.48 L531.30,1573.98 L531.80,1576.49 L532.30,1579.77 L532.80,1583.53 L533.30,1587.50 L533.80,1591.39 L534.30,1594.99 L534.80,1598.16 L535.30,1600.82 L535.80,1602.95 L536.30,1604.59 L536.80,1605.79 L537.30,1606.65 L537.80,1607.23 L538.30,1607.62 L538.80,1607.86 L539.30,1608.01 L539.80,1608.10 L540.30,1608.14 L540.80,1608.17 L579.80,1608.16 L580.30,1608.13 L580.80,1608.07 L581.30,1607.98 L581.80,1607.84 L582.30,1607.62 L582.80,1607.31 L583.30,1606.87 L583.80,1606.28 L584.30,1605.52 L584.80,1604.58 L585.30,1603.47 L585.80,1602.21 L586.30,1600.88 L586.80,1599.53 L587.30,1598.27 L587.80,1597.20 L588.30,1596.41 L588.80,1595.97 L589.30,1595.93 L589.80,1596.29 L590.30,1597.02 L590.80,1598.04 L591.30,1599.27 L591.80,1600.60 L592.30,1601.95 L592.80,1603.22 L593.30,1604.37 L593.80,1605.34 L594.30,1606.14 L594.80,1606.76 L595.30,1607.23 L595.80,1607.57 L596.30,1607.80 L596.80,1607.96 L597.30,1608.06 L597.80,1608.12 L598.30,1608.15 L628.80,1608.16 L629.30,1608.13 L629.80,1608.09 L630.30,1608.01 L630.80,1607.88 L631.30,1607.70 L631.80,1607.43 L632.30,1607.06 L632.80,1606.56 L633.30,1605.93 L633.80,1605.15 L634.30,1604.24 L634.80,1603.22 L635.30,1602.15 L635.80,1601.08 L636.30,1600.10 L636.80,1599.29 L637.30,1598.71 L637.80,1598.43 L638.30,1598.46 L638.80,1598.81 L639.30,1599.44 L639.80,1600.29 L640.30,1601.29 L640.80,1602.36 L641.30,1603.43 L641.80,1604.43 L642.30,1605.31 L642.80,1606.06 L643.30,1606.67 L643.80,1607.14 L644.30,1607.49 L644.80,1607.73 L645.30,1607.89 L645.80,1607.99 L646.30,1608.04 L646.80,1608.04 L647.30,1608.00 L647.80,1607.91 L648.30,1607.76 L648.80,1607.54 L649.30,1607.23 L649.80,1606.81 L650.30,1606.27 L650.80,1605.61 L651.30,1604.84 L651.80,1603.98 L652.30,1603.07 L652.80,1602.17 L653.30,1601.34 L653.80,1600.65 L654.30,1600.16 L654.80,1599.92 L655.30,1599.95 L655.80,1600.24 L656.30,1600.78 L656.80,1601.50 L657.30,1602.35 L657.80,1603.26 L658.30,1604.16 L658.80,1605.01 L659.30,1605.76 L659.80,1606.39 L660.30,1606.90 L660.80,1607.30 L661.30,1607.60 L661.80,1607.81 L662.30,1607.96 L662.80,1608.05 L663.30,1608.11 L663.80,1608.15 L747.30,1608.20" stroke="#00ff00"/>
</g>
<path d="M145.3,1381.9 L748.3,1381.9 M145.3,1494.0 L748.3,1494.0 M145.3,1607.5 L748.3,1607.5 M145.3,1718.6 L748.3,1718.6 M145.3,1380.3000000000002 L145.3,1720.1999999999998 M748.3,1380.3000000000002 L748.3,1720.1999999999998" stroke="#000" stroke-width="3.2" fill="none"/>
<path d="M162.53,1381.9 L162.53,1386.9 M162.53,1494.0 L162.53,1489.0 M162.53,1607.5 L162.53,1602.5 M162.53,1718.6 L162.53,1724.1 M196.99,1381.9 L196.99,1386.9 M196.99,1494.0 L196.99,1489.0 M196.99,1607.5 L196.99,1602.5 M196.99,1718.6 L196.99,1724.1 M231.44,1381.9 L231.44,1391.9 M231.44,1494.0 L231.44,1484.0 M231.44,1607.5 L231.44,1597.5 M231.44,1718.6 L231.44,1728.6 M265.90,1381.9 L265.90,1386.9 M265.90,1494.0 L265.90,1489.0 M265.90,1607.5 L265.90,1602.5 M265.90,1718.6 L265.90,1724.1 M300.36,1381.9 L300.36,1386.9 M300.36,1494.0 L300.36,1489.0 M300.36,1607.5 L300.36,1602.5 M300.36,1718.6 L300.36,1724.1 M334.81,1381.9 L334.81,1386.9 M334.81,1494.0 L334.81,1489.0 M334.81,1607.5 L334.81,1602.5 M334.81,1718.6 L334.81,1724.1 M369.27,1381.9 L369.27,1386.9 M369.27,1494.0 L369.27,1489.0 M369.27,1607.5 L369.27,1602.5 M369.27,1718.6 L369.27,1724.1 M403.73,1381.9 L403.73,1391.9 M403.73,1494.0 L403.73,1484.0 M403.73,1607.5 L403.73,1597.5 M403.73,1718.6 L403.73,1728.6 M438.19,1381.9 L438.19,1386.9 M438.19,1494.0 L438.19,1489.0 M438.19,1607.5 L438.19,1602.5 M438.19,1718.6 L438.19,1724.1 M472.64,1381.9 L472.64,1386.9 M472.64,1494.0 L472.64,1489.0 M472.64,1607.5 L472.64,1602.5 M472.64,1718.6 L472.64,1724.1 M507.10,1381.9 L507.10,1386.9 M507.10,1494.0 L507.10,1489.0 M507.10,1607.5 L507.10,1602.5 M507.10,1718.6 L507.10,1724.1 M541.56,1381.9 L541.56,1386.9 M541.56,1494.0 L541.56,1489.0 M541.56,1607.5 L541.56,1602.5 M541.56,1718.6 L541.56,1724.1 M576.01,1381.9 L576.01,1391.9 M576.01,1494.0 L576.01,1484.0 M576.01,1607.5 L576.01,1597.5 M576.01,1718.6 L576.01,1728.6 M610.47,1381.9 L610.47,1386.9 M610.47,1494.0 L610.47,1489.0 M610.47,1607.5 L610.47,1602.5 M610.47,1718.6 L610.47,1724.1 M644.93,1381.9 L644.93,1386.9 M644.93,1494.0 L644.93,1489.0 M644.93,1607.5 L644.93,1602.5 M644.93,1718.6 L644.93,1724.1 M679.39,1381.9 L679.39,1386.9 M679.39,1494.0 L679.39,1489.0 M679.39,1607.5 L679.39,1602.5 M679.39,1718.6 L679.39,1724.1 M713.84,1381.9 L713.84,1386.9 M713.84,1494.0 L713.84,1489.0 M713.84,1607.5 L713.84,1602.5 M713.84,1718.6 L713.84,1724.1 M748.3,1718.6 L748.3,1728.6 M135.3,1494.00 L145.3,1494.00 M738.3,1494.00 L748.3,1494.00 M135.3,1461.72 L145.3,1461.72 M738.3,1461.72 L748.3,1461.72 M135.3,1429.44 L145.3,1429.44 M738.3,1429.44 L748.3,1429.44 M135.3,1397.16 L145.3,1397.16 M738.3,1397.16 L748.3,1397.16 M140.3,1477.86 L145.3,1477.86 M743.3,1477.86 L748.3,1477.86 M140.3,1445.58 L145.3,1445.58 M743.3,1445.58 L748.3,1445.58 M140.3,1413.30 L145.3,1413.30 M743.3,1413.30 L748.3,1413.30 M135.3,1607.50 L145.3,1607.50 M738.3,1607.50 L748.3,1607.50 M135.3,1569.98 L145.3,1569.98 M738.3,1569.98 L748.3,1569.98 M135.3,1532.46 L145.3,1532.46 M738.3,1532.46 L748.3,1532.46 M140.3,1588.74 L145.3,1588.74 M743.3,1588.74 L748.3,1588.74 M140.3,1551.22 L145.3,1551.22 M743.3,1551.22 L748.3,1551.22 M140.3,1513.70 L145.3,1513.70 M743.3,1513.70 L748.3,1513.70 M135.3,1718.60 L145.3,1718.60 M738.3,1718.60 L748.3,1718.60 M135.3,1681.21 L145.3,1681.21 M738.3,1681.21 L748.3,1681.21 M135.3,1643.82 L145.3,1643.82 M738.3,1643.82 L748.3,1643.82 M140.3,1699.90 L145.3,1699.90 M743.3,1699.90 L748.3,1699.90 M140.3,1662.51 L145.3,1662.51 M743.3,1662.51 L748.3,1662.51 M140.3,1625.12 L145.3,1625.12 M743.3,1625.12 L748.3,1625.12" stroke="#000" stroke-width="3.0" fill="none"/>
<rect x="151" y="1384.3" width="105" height="107.7" fill="#fff"/>
<rect x="151" y="1496.4" width="105" height="109.1" fill="#fff"/>
<clipPath id="cq_e3"><rect x="146.9" y="1609.1" width="599.8" height="111.59999999999991"/></clipPath>
<g clip-path="url(#cq_e3)">
<line x1="629.4" y1="1609.1" x2="629.4" y2="1717.0" stroke="#000" stroke-width="2.6" stroke-dasharray="11 11" stroke-dashoffset="-3"/><line x1="663.6" y1="1609.1" x2="663.6" y2="1717.0" stroke="#000" stroke-width="2.6" stroke-dasharray="11 11" stroke-dashoffset="-3"/>
<path d="M148.00,1717.00 L330.35,1716.57 L388.49,1713.14 L395.62,1712.41 L399.20,1711.84 L405.65,1710.35 L413.54,1708.18 L422.86,1704.93 L426.44,1703.93 L434.98,1701.90 L440.73,1700.16 L443.61,1699.10 L445.78,1698.15 L447.21,1697.42 L448.63,1696.54 L450.05,1695.52 L451.47,1694.36 L452.89,1693.08 L453.60,1692.40 L454.36,1691.62 L455.12,1690.78 L455.89,1689.87 L456.65,1688.89 L457.41,1687.84 L458.18,1686.72 L458.94,1685.55 L459.70,1684.30 L460.41,1683.04 L461.13,1681.67 L461.84,1680.19 L462.56,1678.60 L463.27,1676.90 L463.99,1675.10 L464.70,1673.20 L465.52,1670.78 L466.34,1668.06 L467.16,1665.13 L468.80,1659.00 L469.60,1655.86 L470.40,1652.52 L471.20,1649.13 L472.00,1645.84 L472.80,1642.80 L473.62,1639.86 L474.44,1636.98 L475.26,1634.25 L476.08,1631.79 L476.90,1629.70 L477.70,1627.85 L478.50,1626.05 L479.30,1624.47 L480.10,1623.27 L480.90,1622.60 L481.72,1622.27 L482.54,1621.99 L483.36,1621.78 L484.18,1621.65 L485.00,1621.60 L485.71,1621.72 L486.43,1622.05 L487.14,1622.52 L488.57,1623.65 L489.29,1624.18 L490.00,1624.60 L492.29,1625.63 L496.10,1627.10 L497.60,1627.58 L499.85,1628.20 L500.60,1628.45 L501.35,1628.75 L502.10,1629.10 L502.83,1629.55 L503.56,1630.13 L504.29,1630.84 L505.01,1631.66 L505.74,1632.58 L506.47,1633.60 L507.20,1634.70 L508.00,1636.20 L508.80,1638.10 L509.60,1640.28 L511.20,1644.90 L512.02,1647.40 L512.84,1650.15 L513.66,1652.95 L514.48,1655.63 L515.30,1658.00 L516.01,1659.84 L516.73,1661.58 L517.44,1663.24 L518.16,1664.82 L518.87,1666.32 L519.59,1667.74 L520.30,1669.10 L521.03,1670.41 L521.76,1671.65 L522.49,1672.83 L523.94,1675.06 L528.45,1681.73 L529.21,1682.79 L529.98,1683.77 L530.74,1684.65 L531.50,1685.40 L533.75,1687.45 L534.50,1688.07 L535.25,1688.60 L536.00,1689.03 L536.75,1689.30 L537.50,1689.40 L543.60,1689.40 L544.34,1689.33 L545.07,1689.12 L545.81,1688.82 L546.55,1688.42 L548.02,1687.48 L549.49,1686.49 L550.23,1686.03 L550.96,1685.62 L551.70,1685.30 L553.23,1684.78 L558.57,1683.31 L560.10,1682.80 L560.81,1682.51 L561.51,1682.18 L562.92,1681.38 L567.16,1678.62 L568.57,1677.79 L569.27,1677.43 L569.98,1677.12 L570.68,1676.86 L571.39,1676.67 L572.09,1676.54 L572.80,1676.50 L573.55,1676.58 L574.30,1676.80 L575.05,1677.13 L575.80,1677.55 L578.80,1679.52 L579.55,1679.95 L580.30,1680.30 L581.82,1680.82 L585.62,1681.88 L586.38,1682.14 L587.14,1682.44 L587.90,1682.80 L588.66,1683.28 L589.42,1683.93 L590.18,1684.72 L590.94,1685.61 L591.70,1686.58 L593.98,1689.68 L594.74,1690.67 L596.26,1692.52 L599.30,1696.49 L600.06,1697.45 L600.82,1698.35 L601.58,1699.18 L602.34,1699.90 L603.10,1700.50 L604.62,1701.51 L606.14,1702.41 L607.66,1703.18 L609.18,1703.81 L610.70,1704.30 L613.06,1704.93 L614.64,1705.27 L615.42,1705.39 L616.21,1705.47 L617.00,1705.50 L617.79,1705.27 L618.58,1704.66 L619.36,1703.79 L620.15,1702.75 L620.94,1701.66 L621.72,1700.63 L622.51,1699.77 L623.30,1699.20 L624.06,1698.86 L624.82,1698.58 L626.34,1698.15 L628.62,1697.59 L629.38,1697.35 L630.14,1697.06 L630.90,1696.70 L631.60,1696.17 L632.30,1695.38 L633.00,1694.40 L634.40,1692.21 L635.10,1691.15 L635.80,1690.23 L636.50,1689.52 L637.20,1689.10 L639.33,1688.43 L640.76,1688.10 L642.18,1687.88 L643.60,1687.80 L644.39,1687.94 L645.17,1688.30 L645.96,1688.83 L648.33,1690.73 L649.11,1691.25 L649.90,1691.60 L650.60,1691.79 L652.00,1692.05 L654.10,1692.36 L655.50,1692.67 L656.20,1692.90 L656.93,1693.38 L657.66,1694.20 L658.39,1695.29 L659.11,1696.56 L660.57,1699.25 L661.30,1700.50 L662.01,1701.78 L662.73,1703.25 L663.44,1704.78 L664.16,1706.26 L664.87,1707.59 L665.59,1708.64 L666.30,1709.30 L667.82,1710.15 L669.34,1710.87 L670.10,1711.17 L670.86,1711.42 L671.62,1711.63 L672.38,1711.78 L673.14,1711.87 L673.90,1711.90 L676.09,1711.81 L684.87,1710.75 L687.07,1710.61 L687.80,1710.60 L688.54,1710.67 L689.28,1710.85 L690.02,1711.14 L690.77,1711.50 L693.73,1713.23 L694.48,1713.64 L695.22,1713.98 L695.96,1714.24 L696.70,1714.40 L704.44,1715.17 L748.00,1716.90" fill="none" stroke="#000" stroke-width="10.0" stroke-linejoin="round" stroke-linecap="round"/>
<circle cx="420.0" cy="1705.0" r="4.5"/><circle cx="423.4" cy="1703.9" r="4.5"/><circle cx="426.9" cy="1705.3" r="4.5"/><circle cx="430.3" cy="1700.6" r="4.5"/><circle cx="433.8" cy="1702.6" r="4.5"/><circle cx="437.2" cy="1698.9" r="4.5"/><circle cx="440.7" cy="1702.2" r="4.5"/><circle cx="444.1" cy="1699.7" r="4.5"/><circle cx="447.6" cy="1699.6" r="4.5"/><circle cx="451.0" cy="1694.7" r="4.5"/><circle cx="454.5" cy="1692.6" r="4.5"/><circle cx="457.9" cy="1687.3" r="4.5"/><circle cx="461.4" cy="1680.8" r="4.5"/><circle cx="464.8" cy="1673.7" r="4.5"/><circle cx="468.2" cy="1660.0" r="4.5"/><circle cx="471.7" cy="1647.3" r="4.5"/><circle cx="475.1" cy="1636.2" r="4.5"/><circle cx="478.6" cy="1626.6" r="4.5"/><circle cx="482.0" cy="1622.2" r="4.5"/><circle cx="485.5" cy="1625.1" r="4.5"/><circle cx="488.9" cy="1624.6" r="4.5"/><circle cx="492.4" cy="1625.5" r="4.5"/><circle cx="495.8" cy="1627.8" r="4.5"/><circle cx="499.3" cy="1628.0" r="4.5"/><circle cx="502.7" cy="1629.6" r="4.5"/><circle cx="506.2" cy="1633.3" r="4.5"/><circle cx="509.6" cy="1643.5" r="4.5"/><circle cx="513.0" cy="1651.5" r="4.5"/><circle cx="516.5" cy="1661.8" r="4.5"/><circle cx="519.9" cy="1669.9" r="4.5"/><circle cx="523.4" cy="1677.4" r="4.5"/><circle cx="526.8" cy="1679.6" r="4.5"/><circle cx="530.3" cy="1683.9" r="4.5"/><circle cx="533.7" cy="1691.2" r="4.5"/><circle cx="537.2" cy="1688.1" r="4.5"/><circle cx="540.6" cy="1689.5" r="4.5"/><circle cx="544.1" cy="1690.8" r="4.5"/><circle cx="547.5" cy="1691.4" r="4.5"/><circle cx="550.9" cy="1685.0" r="4.5"/><circle cx="554.4" cy="1681.9" r="4.5"/><circle cx="557.8" cy="1685.0" r="4.5"/><circle cx="561.3" cy="1682.2" r="4.5"/><circle cx="564.7" cy="1680.3" r="4.5"/><circle cx="568.2" cy="1679.2" r="4.5"/><circle cx="571.6" cy="1677.5" r="4.5"/><circle cx="575.1" cy="1678.1" r="4.5"/><circle cx="578.5" cy="1679.4" r="4.5"/><circle cx="582.0" cy="1683.1" r="4.5"/><circle cx="585.4" cy="1684.4" r="4.5"/><circle cx="588.9" cy="1684.1" r="4.5"/><circle cx="592.3" cy="1687.4" r="4.5"/><circle cx="595.7" cy="1693.4" r="4.5"/><circle cx="599.2" cy="1697.6" r="4.5"/><circle cx="602.6" cy="1699.4" r="4.5"/><circle cx="606.1" cy="1702.4" r="4.5"/><circle cx="609.5" cy="1705.9" r="4.5"/><circle cx="613.0" cy="1705.4" r="4.5"/><circle cx="616.4" cy="1705.7" r="4.5"/><circle cx="619.9" cy="1704.0" r="4.5"/><circle cx="623.3" cy="1699.8" r="4.5"/><circle cx="626.8" cy="1698.6" r="4.5"/><circle cx="630.2" cy="1695.1" r="4.5"/><circle cx="633.7" cy="1696.3" r="4.5"/><circle cx="637.1" cy="1690.0" r="4.5"/><circle cx="640.5" cy="1687.6" r="4.5"/><circle cx="644.0" cy="1689.7" r="4.5"/><circle cx="647.4" cy="1691.0" r="4.5"/><circle cx="650.9" cy="1692.5" r="4.5"/><circle cx="654.3" cy="1694.4" r="4.5"/><circle cx="657.8" cy="1697.9" r="4.5"/><circle cx="661.2" cy="1701.7" r="4.5"/><circle cx="664.7" cy="1709.9" r="4.5"/><circle cx="668.1" cy="1713.7" r="4.5"/><circle cx="671.6" cy="1710.9" r="4.5"/><circle cx="675.0" cy="1711.8" r="4.5"/><circle cx="678.5" cy="1713.1" r="4.5"/><circle cx="681.9" cy="1709.5" r="4.5"/><circle cx="685.3" cy="1711.0" r="4.5"/><circle cx="688.8" cy="1713.0" r="4.5"/><circle cx="692.2" cy="1714.3" r="4.5"/><circle cx="695.7" cy="1715.5" r="4.5"/><circle cx="699.1" cy="1712.8" r="4.5"/><circle cx="702.6" cy="1718.6" r="4.5"/><circle cx="706.0" cy="1716.5" r="4.5"/><circle cx="709.5" cy="1717.0" r="4.5"/><circle cx="712.9" cy="1716.7" r="4.5"/><circle cx="716.4" cy="1714.0" r="4.5"/><circle cx="719.8" cy="1714.5" r="4.5"/><circle cx="723.2" cy="1714.9" r="4.5"/><circle cx="726.7" cy="1719.1" r="4.5"/><circle cx="730.1" cy="1715.7" r="4.5"/><circle cx="733.6" cy="1716.6" r="4.5"/><circle cx="737.0" cy="1716.7" r="4.5"/><circle cx="740.5" cy="1717.9" r="4.5"/><circle cx="743.9" cy="1718.0" r="4.5"/><circle cx="747.4" cy="1717.8" r="4.5"/>
<circle cx="637.2" cy="1684.6" r="4.5"/><circle cx="648.1" cy="1683.9" r="4.5"/><circle cx="625.9" cy="1692.2" r="4.5"/><circle cx="643.6" cy="1696.0" r="4.5"/><circle cx="651.1" cy="1698.0" r="4.5"/><circle cx="658.7" cy="1691.0" r="4.5"/><circle cx="633.4" cy="1702.3" r="4.5"/><circle cx="660.0" cy="1706.1" r="4.5"/><circle cx="581.6" cy="1688.4" r="4.5"/><circle cx="572.8" cy="1673.3" r="4.5"/><circle cx="481.0" cy="1620.0" r="4.5"/><circle cx="485.0" cy="1619.5" r="4.5"/>
<path d="M148.00,1717.60 L330.35,1717.17 L388.49,1713.74 L395.62,1713.01 L399.20,1712.44 L405.65,1710.95 L413.54,1708.78 L422.86,1705.53 L426.44,1704.53 L434.98,1702.50 L440.73,1700.76 L443.61,1699.70 L445.78,1698.75 L447.21,1698.02 L448.63,1697.14 L450.05,1696.12 L451.47,1694.96 L452.89,1693.68 L453.60,1693.00 L454.36,1692.22 L455.12,1691.38 L455.89,1690.47 L456.65,1689.49 L457.41,1688.44 L458.18,1687.32 L458.94,1686.15 L459.70,1684.90 L460.41,1683.64 L461.13,1682.27 L461.84,1680.79 L462.56,1679.20 L463.27,1677.50 L463.99,1675.70 L464.70,1673.80 L465.52,1671.38 L466.34,1668.66 L467.16,1665.73 L468.80,1659.60 L469.60,1656.46 L470.40,1653.12 L471.20,1649.73 L472.00,1646.44 L472.80,1643.40 L473.62,1640.46 L474.44,1637.58 L475.26,1634.85 L476.08,1632.39 L476.90,1630.30 L477.70,1628.45 L478.50,1626.65 L479.30,1625.07 L480.10,1623.87 L480.90,1623.20 L481.72,1622.87 L482.54,1622.59 L483.36,1622.38 L484.18,1622.25 L485.00,1622.20 L485.71,1622.32 L486.43,1622.65 L487.14,1623.12 L488.57,1624.25 L489.29,1624.78 L490.00,1625.20 L492.29,1626.23 L496.10,1627.70 L497.60,1628.18 L499.85,1628.80 L500.60,1629.05 L501.35,1629.35 L502.10,1629.70 L502.83,1630.15 L503.56,1630.73 L504.29,1631.44 L505.01,1632.26 L505.74,1633.18 L506.47,1634.20 L507.20,1635.30 L508.00,1636.80 L508.80,1638.70 L509.60,1640.88 L511.20,1645.50 L512.02,1648.00 L512.84,1650.75 L513.66,1653.55 L514.48,1656.23 L515.30,1658.60 L516.01,1660.44 L516.73,1662.18 L517.44,1663.84 L518.16,1665.42 L518.87,1666.92 L519.59,1668.34 L520.30,1669.70 L521.03,1671.01 L521.76,1672.25 L522.49,1673.43 L523.94,1675.66 L528.45,1682.33 L529.21,1683.39 L529.98,1684.37 L530.74,1685.25 L531.50,1686.00 L533.75,1688.05 L534.50,1688.67 L535.25,1689.20 L536.00,1689.63 L536.75,1689.90 L537.50,1690.00 L543.60,1690.00 L544.34,1689.93 L545.07,1689.72 L545.81,1689.42 L546.55,1689.02 L548.02,1688.08 L549.49,1687.09 L550.23,1686.63 L550.96,1686.22 L551.70,1685.90 L553.23,1685.38 L558.57,1683.91 L560.10,1683.40 L560.81,1683.11 L561.51,1682.78 L562.92,1681.98 L567.16,1679.22 L568.57,1678.39 L569.27,1678.03 L569.98,1677.72 L570.68,1677.46 L571.39,1677.27 L572.09,1677.14 L572.80,1677.10 L573.55,1677.18 L574.30,1677.40 L575.05,1677.73 L575.80,1678.15 L578.80,1680.12 L579.55,1680.55 L580.30,1680.90 L581.82,1681.42 L585.62,1682.48 L586.38,1682.74 L587.14,1683.04 L587.90,1683.40 L588.66,1683.88 L589.42,1684.53 L590.18,1685.32 L590.94,1686.21 L591.70,1687.18 L593.98,1690.28 L594.74,1691.27 L596.26,1693.12 L599.30,1697.09 L600.06,1698.05 L600.82,1698.95 L601.58,1699.78 L602.34,1700.50 L603.10,1701.10 L604.62,1702.11 L606.14,1703.01 L607.66,1703.78 L609.18,1704.41 L610.70,1704.90 L613.06,1705.53 L614.64,1705.87 L615.42,1705.99 L616.21,1706.07 L617.00,1706.10 L617.79,1705.87 L618.58,1705.26 L619.36,1704.39 L620.15,1703.35 L620.94,1702.26 L621.72,1701.23 L622.51,1700.37 L623.30,1699.80 L624.06,1699.46 L624.82,1699.18 L626.34,1698.75 L628.62,1698.19 L629.38,1697.95 L630.14,1697.66 L630.90,1697.30 L631.60,1696.77 L632.30,1695.98 L633.00,1695.00 L634.40,1692.81 L635.10,1691.75 L635.80,1690.83 L636.50,1690.12 L637.20,1689.70 L639.33,1689.03 L640.76,1688.70 L642.18,1688.48 L643.60,1688.40 L644.39,1688.54 L645.17,1688.90 L645.96,1689.43 L648.33,1691.33 L649.11,1691.85 L649.90,1692.20 L650.60,1692.39 L652.00,1692.65 L654.10,1692.96 L655.50,1693.27 L656.20,1693.50 L656.93,1693.98 L657.66,1694.80 L658.39,1695.89 L659.11,1697.16 L660.57,1699.85 L661.30,1701.10 L662.01,1702.38 L662.73,1703.85 L663.44,1705.38 L664.16,1706.86 L664.87,1708.19 L665.59,1709.24 L666.30,1709.90 L667.82,1710.75 L669.34,1711.47 L670.10,1711.77 L670.86,1712.02 L671.62,1712.23 L672.38,1712.38 L673.14,1712.47 L673.90,1712.50 L676.09,1712.41 L684.87,1711.35 L687.07,1711.21 L687.80,1711.20 L688.54,1711.27 L689.28,1711.45 L690.02,1711.74 L690.77,1712.10 L693.73,1713.83 L694.48,1714.24 L695.22,1714.58 L695.96,1714.84 L696.70,1715.00 L704.44,1715.77 L748.00,1717.50" fill="none" stroke="#0000ff" stroke-width="3.9" stroke-linejoin="round" stroke-linecap="round"/>
</g>
<text x="128.30" y="1501.90" font-size="25" text-anchor="end" >0.0</text>
<text x="128.30" y="1469.62" font-size="25" text-anchor="end" >0.6</text>
<text x="128.30" y="1437.34" font-size="25" text-anchor="end" >1.2</text>
<text x="128.30" y="1405.06" font-size="25" text-anchor="end" >1.8</text>
<text x="128.30" y="1615.40" font-size="25" text-anchor="end" >0.0</text>
<text x="128.30" y="1577.88" font-size="25" text-anchor="end" >0.7</text>
<text x="128.30" y="1540.36" font-size="25" text-anchor="end" >1.4</text>
<text x="128.30" y="1726.50" font-size="25" text-anchor="end" >0</text>
<text x="128.30" y="1689.11" font-size="25" text-anchor="end" >19</text>
<text x="128.30" y="1651.72" font-size="25" text-anchor="end" >38</text>
<text x="16.00" y="1407.70" font-size="36" text-anchor="start" >e)</text>
<clipPath id="cp_f1"><rect x="146.8" y="1752.2" width="600.0" height="110.20000000000005"/></clipPath>
<clipPath id="cp_f2"><rect x="146.8" y="1863.9" width="600.0" height="111.79999999999995"/></clipPath>
<clipPath id="cp_f3"><rect x="146.8" y="1977.2" width="600.0" height="109.79999999999995"/></clipPath>
<g clip-path="url(#cp_f1)" fill="none" stroke-width="3.5" stroke-linejoin="round">
<path d="M146.30,1863.10 L478.80,1863.07 L479.30,1863.05 L479.80,1862.99 L480.30,1862.89 L480.80,1862.71 L481.30,1862.39 L481.80,1861.86 L482.30,1860.99 L482.80,1859.65 L483.30,1857.65 L483.80,1854.74 L484.30,1850.72 L484.80,1845.35 L485.30,1838.47 L485.80,1830.05 L486.30,1820.18 L486.80,1809.19 L487.30,1797.58 L487.80,1786.06 L488.30,1775.45 L488.80,1766.64 L489.30,1760.38 L489.80,1757.28 L490.30,1757.63 L490.80,1761.40 L491.30,1768.22 L491.80,1777.46 L492.30,1788.31 L492.80,1799.92 L493.30,1811.46 L493.80,1822.26 L494.30,1831.85 L494.80,1839.97 L495.30,1846.54 L495.80,1851.62 L496.30,1855.41 L496.80,1858.11 L497.30,1859.97 L497.80,1861.20 L498.30,1861.98 L498.80,1862.47 L499.30,1862.75 L499.80,1862.91 L500.30,1863.00 L500.80,1863.05 L523.80,1863.06 L524.30,1863.02 L524.80,1862.95 L525.30,1862.83 L525.80,1862.65 L526.30,1862.37 L526.80,1861.94 L527.30,1861.32 L527.80,1860.46 L528.30,1859.32 L528.80,1857.85 L529.30,1856.06 L529.80,1853.96 L530.30,1851.62 L530.80,1849.14 L531.30,1846.69 L531.80,1844.43 L532.30,1842.55 L532.80,1841.22 L533.30,1840.56 L533.80,1840.63 L534.30,1841.44 L534.80,1842.89 L535.30,1844.86 L535.80,1847.17 L536.30,1849.64 L536.80,1852.10 L537.30,1854.40 L537.80,1856.44 L538.30,1858.17 L538.80,1859.57 L539.30,1860.66 L539.80,1861.46 L540.30,1862.04 L540.80,1862.43 L541.30,1862.70 L541.80,1862.86 L542.30,1862.96 L542.80,1863.03 L543.30,1863.06 L628.80,1863.06 L629.30,1863.04 L629.80,1862.99 L630.30,1862.91 L630.80,1862.78 L631.30,1862.59 L631.80,1862.32 L632.30,1861.93 L632.80,1861.41 L633.30,1860.75 L633.80,1859.92 L634.30,1858.94 L634.80,1857.84 L635.30,1856.67 L635.80,1855.49 L636.30,1854.38 L636.80,1853.44 L637.30,1852.75 L637.80,1852.36 L638.30,1852.33 L638.80,1852.64 L639.30,1853.28 L639.80,1854.18 L640.30,1855.26 L640.80,1856.43 L641.30,1857.61 L641.80,1858.73 L642.30,1859.74 L642.80,1860.59 L643.30,1861.29 L643.80,1861.84 L644.30,1862.25 L644.80,1862.54 L645.30,1862.75 L645.80,1862.89 L646.30,1862.97 L646.80,1863.03 L647.30,1863.06 L747.30,1863.10" stroke="#000"/>
<path d="M146.30,1863.10 L494.80,1863.07 L495.30,1863.03 L495.80,1862.97 L496.30,1862.86 L496.80,1862.67 L497.30,1862.34 L497.80,1861.80 L498.30,1860.96 L498.80,1859.68 L499.30,1857.83 L499.80,1855.24 L500.30,1851.75 L500.80,1847.25 L501.30,1841.69 L501.80,1835.12 L502.30,1827.71 L502.80,1819.81 L503.30,1811.86 L503.80,1804.42 L504.30,1798.09 L504.80,1793.41 L505.30,1790.83 L505.80,1790.59 L506.30,1792.72 L506.80,1797.00 L507.30,1803.04 L507.80,1810.31 L508.30,1818.20 L508.80,1826.16 L509.30,1833.69 L509.80,1840.45 L510.30,1846.22 L510.80,1850.93 L511.30,1854.62 L511.80,1857.37 L512.30,1859.36 L512.80,1860.74 L513.30,1861.66 L513.80,1862.25 L514.30,1862.61 L514.80,1862.83 L515.30,1862.96 L515.80,1863.03 L516.30,1863.06 L565.30,1863.07 L565.80,1863.04 L566.30,1863.00 L566.80,1862.93 L567.30,1862.81 L567.80,1862.63 L568.30,1862.35 L568.80,1861.96 L569.30,1861.43 L569.80,1860.72 L570.30,1859.82 L570.80,1858.72 L571.30,1857.45 L571.80,1856.05 L572.30,1854.59 L572.80,1853.16 L573.30,1851.87 L573.80,1850.82 L574.30,1850.10 L574.80,1849.78 L575.30,1849.89 L575.80,1850.40 L576.30,1851.24 L576.80,1852.32 L577.30,1853.49 L577.80,1854.62 L578.30,1855.56 L578.80,1856.17 L579.30,1856.34 L579.80,1856.00 L580.30,1855.08 L580.80,1853.61 L581.30,1851.62 L581.80,1849.22 L582.30,1846.56 L582.80,1843.86 L583.30,1841.33 L583.80,1839.21 L584.30,1837.70 L584.80,1836.95 L585.30,1837.05 L585.80,1837.98 L586.30,1839.67 L586.80,1841.95 L587.30,1844.63 L587.80,1847.50 L588.30,1850.35 L588.80,1853.01 L589.30,1855.38 L589.80,1857.39 L590.30,1859.01 L590.80,1860.27 L591.30,1861.20 L591.80,1861.87 L592.30,1862.33 L592.80,1862.63 L593.30,1862.82 L593.80,1862.94 L594.30,1863.01 L594.80,1863.05 L639.80,1863.07 L640.30,1863.05 L640.80,1863.01 L641.30,1862.95 L641.80,1862.85 L642.30,1862.70 L642.80,1862.49 L643.30,1862.19 L643.80,1861.79 L644.30,1861.29 L644.80,1860.67 L645.30,1859.94 L645.80,1859.14 L646.30,1858.28 L646.80,1857.44 L647.30,1856.66 L647.80,1856.01 L648.30,1855.55 L648.80,1855.32 L649.30,1855.35 L649.80,1855.62 L650.30,1856.12 L650.80,1856.80 L651.30,1857.60 L651.80,1858.46 L652.30,1859.30 L652.80,1860.10 L653.30,1860.80 L653.80,1861.40 L654.30,1861.88 L654.80,1862.26 L655.30,1862.53 L655.80,1862.73 L656.30,1862.87 L656.80,1862.96 L657.30,1863.02 L657.80,1863.05 L747.30,1863.10" stroke="#ff00ff"/>
<path d="M146.30,1863.10 L483.30,1863.06 L483.80,1863.02 L484.30,1862.94 L484.80,1862.81 L485.30,1862.57 L485.80,1862.18 L486.30,1861.55 L486.80,1860.56 L487.30,1859.07 L487.80,1856.93 L488.30,1853.96 L488.80,1850.00 L489.30,1844.92 L489.80,1838.71 L490.30,1831.43 L490.80,1823.31 L491.30,1814.75 L491.80,1806.24 L492.30,1798.42 L492.80,1791.91 L493.30,1787.30 L493.80,1785.01 L494.30,1785.26 L494.80,1788.04 L495.30,1793.08 L495.80,1799.90 L496.30,1807.91 L496.80,1816.47 L497.30,1824.99 L497.80,1832.96 L498.30,1840.04 L498.80,1846.03 L499.30,1850.88 L499.80,1854.63 L500.30,1857.42 L500.80,1859.42 L501.30,1860.79 L501.80,1861.70 L502.30,1862.27 L502.80,1862.63 L503.30,1862.83 L503.80,1862.95 L504.30,1862.99 L504.80,1862.99 L505.30,1862.94 L505.80,1862.82 L506.30,1862.60 L506.80,1862.22 L507.30,1861.60 L507.80,1860.61 L508.30,1859.11 L508.80,1856.91 L509.30,1853.80 L509.80,1849.59 L510.30,1844.11 L510.80,1837.27 L511.30,1829.12 L511.80,1819.84 L512.30,1809.82 L512.80,1799.62 L513.30,1789.93 L513.80,1781.49 L514.30,1775.04 L514.80,1771.18 L515.30,1770.26 L515.80,1772.39 L516.30,1777.34 L516.80,1784.67 L517.30,1793.70 L517.80,1803.68 L518.30,1813.89 L518.80,1823.66 L519.30,1832.53 L519.80,1840.17 L520.30,1846.46 L520.80,1851.42 L521.30,1855.16 L521.80,1857.89 L522.30,1859.78 L522.80,1861.06 L523.30,1861.89 L523.80,1862.40 L524.30,1862.71 L524.80,1862.89 L525.30,1862.99 L525.80,1863.04 L526.30,1863.07 L611.80,1863.06 L612.30,1863.04 L612.80,1863.00 L613.30,1862.95 L613.80,1862.86 L614.30,1862.75 L614.80,1862.60 L615.30,1862.40 L615.80,1862.17 L616.30,1861.89 L616.80,1861.58 L617.30,1861.25 L617.80,1860.92 L618.30,1860.62 L618.80,1860.37 L619.30,1860.20 L619.80,1860.11 L620.30,1860.12 L620.80,1860.22 L621.30,1860.42 L621.80,1860.68 L622.30,1860.99 L622.80,1861.31 L623.30,1861.64 L623.80,1861.95 L624.30,1862.22 L624.80,1862.45 L625.30,1862.63 L625.80,1862.78 L626.30,1862.88 L626.80,1862.96 L627.30,1863.01 L627.80,1863.05 L628.30,1863.07 L648.80,1863.07 L649.30,1863.04 L649.80,1862.98 L650.30,1862.90 L650.80,1862.76 L651.30,1862.55 L651.80,1862.24 L652.30,1861.79 L652.80,1861.18 L653.30,1860.36 L653.80,1859.32 L654.30,1858.06 L654.80,1856.61 L655.30,1855.00 L655.80,1853.31 L656.30,1851.67 L656.80,1850.18 L657.30,1848.98 L657.80,1848.16 L658.30,1847.81 L658.80,1847.96 L659.30,1848.60 L659.80,1849.66 L660.30,1851.05 L660.80,1852.65 L661.30,1854.33 L661.80,1855.98 L662.30,1857.50 L662.80,1858.85 L663.30,1859.97 L663.80,1860.87 L664.30,1861.57 L664.80,1862.08 L665.30,1862.44 L665.80,1862.69 L666.30,1862.85 L666.80,1862.96 L667.30,1863.02 L667.80,1863.06 L747.30,1863.10" stroke="#ff0000"/>
<path d="M146.30,1863.10 L482.80,1863.06 L483.30,1863.03 L483.80,1862.96 L484.30,1862.85 L484.80,1862.66 L485.30,1862.36 L485.80,1861.89 L486.30,1861.18 L486.80,1860.16 L487.30,1858.75 L487.80,1856.86 L488.30,1854.44 L488.80,1851.48 L489.30,1848.01 L489.80,1844.15 L490.30,1840.07 L490.80,1836.01 L491.30,1832.29 L491.80,1829.19 L492.30,1826.99 L492.80,1825.90 L493.30,1826.02 L493.80,1827.34 L494.30,1829.74 L494.80,1832.99 L495.30,1836.80 L495.80,1840.87 L496.30,1844.91 L496.80,1848.68 L497.30,1852.00 L497.80,1854.75 L498.30,1856.90 L498.80,1858.42 L499.30,1859.32 L499.80,1859.64 L500.30,1859.37 L500.80,1858.51 L501.30,1857.04 L501.80,1854.96 L502.30,1852.29 L502.80,1849.06 L503.30,1845.40 L503.80,1841.47 L504.30,1837.51 L504.80,1833.80 L505.30,1830.64 L505.80,1828.30 L506.30,1827.02 L506.80,1826.90 L507.30,1827.96 L507.80,1830.10 L508.30,1833.11 L508.80,1836.74 L509.30,1840.68 L509.80,1844.66 L510.30,1848.42 L510.80,1851.79 L511.30,1854.67 L511.80,1857.03 L512.30,1858.86 L512.80,1860.24 L513.30,1861.23 L513.80,1861.92 L514.30,1862.38 L514.80,1862.67 L515.30,1862.86 L515.80,1862.97 L516.30,1863.03 L516.80,1863.06 L542.80,1863.06 L543.30,1863.03 L543.80,1862.97 L544.30,1862.88 L544.80,1862.73 L545.30,1862.51 L545.80,1862.18 L546.30,1861.72 L546.80,1861.09 L547.30,1860.28 L547.80,1859.26 L548.30,1858.05 L548.80,1856.67 L549.30,1855.19 L549.80,1853.67 L550.30,1852.23 L550.80,1850.98 L551.30,1850.02 L551.80,1849.45 L552.30,1849.31 L552.80,1849.62 L553.30,1850.36 L553.80,1851.45 L554.30,1852.79 L554.80,1854.27 L555.30,1855.79 L555.80,1857.24 L556.30,1858.56 L556.80,1859.69 L557.30,1860.63 L557.80,1861.36 L558.30,1861.92 L558.80,1862.33 L559.30,1862.61 L559.80,1862.80 L560.30,1862.92 L560.80,1863.00 L561.30,1863.04 L561.80,1863.07 L578.80,1863.06 L579.30,1863.03 L579.80,1862.97 L580.30,1862.88 L580.80,1862.72 L581.30,1862.47 L581.80,1862.10 L582.30,1861.56 L582.80,1860.80 L583.30,1859.77 L583.80,1858.46 L584.30,1856.83 L584.80,1854.90 L585.30,1852.73 L585.80,1850.42 L586.30,1848.09 L586.80,1845.91 L587.30,1844.05 L587.80,1842.68 L588.30,1841.93 L588.80,1841.86 L589.30,1842.48 L589.80,1843.73 L590.30,1845.50 L590.80,1847.63 L591.30,1849.95 L591.80,1852.28 L592.30,1854.48 L592.80,1856.46 L593.30,1858.16 L593.80,1859.54 L594.30,1860.61 L594.80,1861.42 L595.30,1862.00 L595.80,1862.41 L596.30,1862.68 L596.80,1862.85 L597.30,1862.96 L597.80,1863.02 L598.30,1863.06 L629.30,1863.06 L629.80,1863.03 L630.30,1862.98 L630.80,1862.90 L631.30,1862.78 L631.80,1862.60 L632.30,1862.36 L632.80,1862.05 L633.30,1861.64 L633.80,1861.14 L634.30,1860.55 L634.80,1859.90 L635.30,1859.21 L635.80,1858.53 L636.30,1857.90 L636.80,1857.37 L637.30,1857.00 L637.80,1856.82 L638.30,1856.84 L638.80,1857.06 L639.30,1857.47 L639.80,1858.01 L640.30,1858.66 L640.80,1859.35 L641.30,1860.03 L641.80,1860.67 L642.30,1861.24 L642.80,1861.73 L643.30,1862.12 L643.80,1862.42 L644.30,1862.64 L644.80,1862.80 L645.30,1862.91 L645.80,1862.99 L646.30,1863.03 L646.80,1863.06 L648.80,1863.06 L649.30,1863.03 L649.80,1862.98 L650.30,1862.91 L650.80,1862.78 L651.30,1862.60 L651.80,1862.33 L652.30,1861.96 L652.80,1861.46 L653.30,1860.83 L653.80,1860.05 L654.30,1859.14 L654.80,1858.12 L655.30,1857.05 L655.80,1855.98 L656.30,1855.00 L656.80,1854.19 L657.30,1853.61 L657.80,1853.33 L658.30,1853.36 L658.80,1853.71 L659.30,1854.34 L659.80,1855.19 L660.30,1856.19 L660.80,1857.26 L661.30,1858.33 L661.80,1859.33 L662.30,1860.21 L662.80,1860.96 L663.30,1861.57 L663.80,1862.04 L664.30,1862.39 L664.80,1862.64 L665.30,1862.81 L665.80,1862.92 L666.30,1863.00 L666.80,1863.04 L667.30,1863.07 L747.30,1863.10" stroke="#00ff00"/>
</g>
<g clip-path="url(#cp_f2)" fill="none" stroke-width="3.5" stroke-linejoin="round">
<path d="M146.30,1976.40 L490.80,1976.36 L491.30,1976.31 L491.80,1976.23 L492.30,1976.09 L492.80,1975.83 L493.30,1975.40 L493.80,1974.70 L494.30,1973.60 L494.80,1971.93 L495.30,1969.51 L495.80,1966.12 L496.30,1961.57 L496.80,1955.69 L497.30,1948.42 L497.80,1939.83 L498.30,1930.16 L498.80,1919.83 L499.30,1909.44 L499.80,1899.72 L500.30,1891.44 L500.80,1885.34 L501.30,1881.96 L501.80,1881.65 L502.30,1884.43 L502.80,1890.03 L503.30,1897.92 L503.80,1907.42 L504.30,1917.73 L504.80,1928.13 L505.30,1937.97 L505.80,1946.81 L506.30,1954.35 L506.80,1960.50 L507.30,1965.31 L507.80,1968.92 L508.30,1971.52 L508.80,1973.32 L509.30,1974.52 L509.80,1975.29 L510.30,1975.76 L510.80,1976.05 L511.30,1976.21 L511.80,1976.30 L512.30,1976.35 L522.80,1976.37 L523.30,1976.34 L523.80,1976.28 L524.30,1976.19 L524.80,1976.03 L525.30,1975.77 L525.80,1975.37 L526.30,1974.77 L526.80,1973.90 L527.30,1972.69 L527.80,1971.08 L528.30,1969.02 L528.80,1966.49 L529.30,1963.54 L529.80,1960.24 L530.30,1956.76 L530.80,1953.31 L531.30,1950.13 L531.80,1947.49 L532.30,1945.61 L532.80,1944.68 L533.30,1944.79 L533.80,1945.92 L534.30,1947.96 L534.80,1950.73 L535.30,1953.99 L535.80,1957.46 L536.30,1960.92 L536.80,1964.16 L537.30,1967.03 L537.80,1969.47 L538.30,1971.44 L538.80,1972.96 L539.30,1974.09 L539.80,1974.90 L540.30,1975.46 L540.80,1975.83 L541.30,1976.06 L541.80,1976.19 L542.30,1976.26 L542.80,1976.28 L543.30,1976.26 L543.80,1976.18 L544.30,1976.04 L544.80,1975.82 L545.30,1975.47 L545.80,1974.95 L546.30,1974.23 L546.80,1973.24 L547.30,1971.96 L547.80,1970.37 L548.30,1968.46 L548.80,1966.30 L549.30,1963.96 L549.80,1961.57 L550.30,1959.31 L550.80,1957.34 L551.30,1955.83 L551.80,1954.93 L552.30,1954.71 L552.80,1955.21 L553.30,1956.37 L553.80,1958.08 L554.30,1960.19 L554.80,1962.52 L555.30,1964.90 L555.80,1967.19 L556.30,1969.26 L556.80,1971.04 L557.30,1972.51 L557.80,1973.67 L558.30,1974.55 L558.80,1975.18 L559.30,1975.63 L559.80,1975.92 L560.30,1976.12 L560.80,1976.24 L561.30,1976.31 L561.80,1976.35 L747.30,1976.40" stroke="#000"/>
<path d="M146.30,1976.40 L459.30,1976.37 L459.80,1976.34 L460.30,1976.29 L460.80,1976.20 L461.30,1976.05 L461.80,1975.80 L462.30,1975.40 L462.80,1974.80 L463.30,1973.91 L463.80,1972.67 L464.30,1970.97 L464.80,1968.77 L465.30,1966.03 L465.80,1962.75 L466.30,1959.03 L466.80,1955.01 L467.30,1950.91 L467.80,1947.02 L468.30,1943.63 L468.80,1941.05 L469.30,1939.49 L469.80,1939.12 L470.30,1939.98 L470.80,1941.97 L471.30,1944.91 L471.80,1948.53 L472.30,1952.54 L472.80,1956.64 L473.30,1960.57 L473.80,1964.12 L474.30,1967.19 L474.80,1969.72 L475.30,1971.71 L475.80,1973.21 L476.30,1974.31 L476.80,1975.07 L477.30,1975.58 L477.80,1975.91 L478.30,1976.12 L478.80,1976.24 L479.30,1976.32 L479.80,1976.36 L492.80,1976.36 L493.30,1976.33 L493.80,1976.27 L494.30,1976.16 L494.80,1975.98 L495.30,1975.69 L495.80,1975.22 L496.30,1974.52 L496.80,1973.51 L497.30,1972.08 L497.80,1970.17 L498.30,1967.70 L498.80,1964.65 L499.30,1961.04 L499.80,1956.98 L500.30,1952.63 L500.80,1948.27 L501.30,1944.17 L501.80,1940.68 L502.30,1938.08 L502.80,1936.60 L503.30,1936.36 L503.80,1937.36 L504.30,1939.44 L504.80,1942.34 L505.30,1945.71 L505.80,1949.19 L506.30,1952.39 L506.80,1955.01 L507.30,1956.82 L507.80,1957.74 L508.30,1957.76 L508.80,1957.01 L509.30,1955.70 L509.80,1954.11 L510.30,1952.53 L510.80,1951.25 L511.30,1950.50 L511.80,1950.45 L512.30,1951.16 L512.80,1952.60 L513.30,1954.66 L513.80,1957.18 L514.30,1959.95 L514.80,1962.78 L515.30,1965.49 L515.80,1967.94 L516.30,1970.06 L516.80,1971.80 L517.30,1973.17 L517.80,1974.20 L518.30,1974.96 L518.80,1975.48 L519.30,1975.84 L519.80,1976.06 L520.30,1976.21 L520.80,1976.29 L521.30,1976.34 L521.80,1976.37 L551.30,1976.37 L551.80,1976.34 L552.30,1976.29 L552.80,1976.20 L553.30,1976.05 L553.80,1975.81 L554.30,1975.45 L554.80,1974.91 L555.30,1974.15 L555.80,1973.11 L556.30,1971.75 L556.80,1970.03 L557.30,1967.96 L557.80,1965.59 L558.30,1963.00 L558.80,1960.33 L559.30,1957.75 L559.80,1955.46 L560.30,1953.65 L560.80,1952.50 L561.30,1952.10 L561.80,1952.50 L562.30,1953.65 L562.80,1955.46 L563.30,1957.75 L563.80,1960.33 L564.30,1963.00 L564.80,1965.59 L565.30,1967.96 L565.80,1970.03 L566.30,1971.75 L566.80,1973.11 L567.30,1974.15 L567.80,1974.91 L568.30,1975.45 L568.80,1975.81 L569.30,1976.05 L569.80,1976.20 L570.30,1976.29 L570.80,1976.34 L571.30,1976.37 L574.30,1976.35 L574.80,1976.32 L575.30,1976.27 L575.80,1976.18 L576.30,1976.05 L576.80,1975.86 L577.30,1975.61 L577.80,1975.26 L578.30,1974.82 L578.80,1974.28 L579.30,1973.65 L579.80,1972.94 L580.30,1972.20 L580.80,1971.46 L581.30,1970.78 L581.80,1970.22 L582.30,1969.82 L582.80,1969.62 L583.30,1969.64 L583.80,1969.88 L584.30,1970.32 L584.80,1970.91 L585.30,1971.61 L585.80,1972.35 L586.30,1973.09 L586.80,1973.78 L587.30,1974.40 L587.80,1974.92 L588.30,1975.34 L588.80,1975.66 L589.30,1975.91 L589.80,1976.08 L590.30,1976.20 L590.80,1976.28 L591.30,1976.33 L591.80,1976.36 L639.30,1976.36 L639.80,1976.33 L640.30,1976.28 L640.80,1976.20 L641.30,1976.09 L641.80,1975.91 L642.30,1975.67 L642.80,1975.34 L643.30,1974.91 L643.80,1974.37 L644.30,1973.73 L644.80,1973.00 L645.30,1972.21 L645.80,1971.41 L646.30,1970.65 L646.80,1969.99 L647.30,1969.48 L647.80,1969.18 L648.30,1969.10 L648.80,1969.27 L649.30,1969.66 L649.80,1970.24 L650.30,1970.95 L650.80,1971.73 L651.30,1972.53 L651.80,1973.30 L652.30,1974.00 L652.80,1974.60 L653.30,1975.09 L653.80,1975.48 L654.30,1975.78 L654.80,1975.99 L655.30,1976.14 L655.80,1976.24 L656.30,1976.30 L656.80,1976.35 L657.30,1976.37 L747.30,1976.40" stroke="#ff00ff"/>
<path d="M146.30,1976.40 L480.30,1976.38 L480.80,1976.35 L481.30,1976.30 L481.80,1976.21 L482.30,1976.04 L482.80,1975.74 L483.30,1975.25 L483.80,1974.46 L484.30,1973.22 L484.80,1971.36 L485.30,1968.68 L485.80,1964.96 L486.30,1960.00 L486.80,1953.65 L487.30,1945.87 L487.80,1936.76 L488.30,1926.60 L488.80,1915.88 L489.30,1905.24 L489.80,1895.45 L490.30,1887.30 L490.80,1881.52 L491.30,1878.66 L491.80,1878.98 L492.30,1882.46 L492.80,1888.76 L493.30,1897.30 L493.80,1907.32 L494.30,1918.04 L494.80,1928.70 L495.30,1938.68 L495.80,1947.54 L496.30,1955.04 L496.80,1961.10 L497.30,1965.80 L497.80,1969.29 L498.30,1971.79 L498.80,1973.51 L499.30,1974.64 L499.80,1975.37 L500.30,1975.81 L500.80,1976.08 L501.30,1976.23 L501.80,1976.31 L502.30,1976.36 L621.80,1976.35 L622.30,1976.31 L622.80,1976.26 L623.30,1976.16 L623.80,1976.02 L624.30,1975.83 L624.80,1975.55 L625.30,1975.18 L625.80,1974.71 L626.30,1974.13 L626.80,1973.45 L627.30,1972.69 L627.80,1971.89 L628.30,1971.10 L628.80,1970.37 L629.30,1969.76 L629.80,1969.33 L630.30,1969.12 L630.80,1969.14 L631.30,1969.40 L631.80,1969.87 L632.30,1970.51 L632.80,1971.25 L633.30,1972.05 L633.80,1972.85 L634.30,1973.59 L634.80,1974.25 L635.30,1974.81 L635.80,1975.26 L636.30,1975.61 L636.80,1975.87 L637.30,1976.06 L637.80,1976.18 L638.30,1976.27 L638.80,1976.32 L639.30,1976.36 L648.80,1976.37 L649.30,1976.35 L649.80,1976.31 L650.30,1976.24 L650.80,1976.13 L651.30,1975.96 L651.80,1975.71 L652.30,1975.35 L652.80,1974.85 L653.30,1974.20 L653.80,1973.36 L654.30,1972.35 L654.80,1971.18 L655.30,1969.88 L655.80,1968.53 L656.30,1967.21 L656.80,1966.02 L657.30,1965.05 L657.80,1964.39 L658.30,1964.11 L658.80,1964.23 L659.30,1964.74 L659.80,1965.59 L660.30,1966.71 L660.80,1968.00 L661.30,1969.35 L661.80,1970.67 L662.30,1971.90 L662.80,1972.98 L663.30,1973.89 L663.80,1974.61 L664.30,1975.17 L664.80,1975.58 L665.30,1975.87 L665.80,1976.07 L666.30,1976.20 L666.80,1976.28 L667.30,1976.33 L667.80,1976.36 L747.30,1976.40" stroke="#ff0000"/>
<path d="M146.30,1976.40 L488.80,1976.37 L489.30,1976.34 L489.80,1976.28 L490.30,1976.18 L490.80,1976.01 L491.30,1975.74 L491.80,1975.31 L492.30,1974.67 L492.80,1973.73 L493.30,1972.42 L493.80,1970.66 L494.30,1968.38 L494.80,1965.56 L495.30,1962.23 L495.80,1958.49 L496.30,1954.49 L496.80,1950.46 L497.30,1946.69 L497.80,1943.49 L498.30,1941.11 L498.80,1939.80 L499.30,1939.66 L499.80,1940.70 L500.30,1942.81 L500.80,1945.76 L501.30,1949.26 L501.80,1952.99 L502.30,1956.60 L502.80,1959.80 L503.30,1962.36 L503.80,1964.12 L504.30,1964.99 L504.80,1964.96 L505.30,1964.10 L505.80,1962.54 L506.30,1960.47 L506.80,1958.11 L507.30,1955.73 L507.80,1953.58 L508.30,1951.90 L508.80,1950.90 L509.30,1950.68 L509.80,1951.29 L510.30,1952.67 L510.80,1954.70 L511.30,1957.20 L511.80,1959.96 L512.30,1962.79 L512.80,1965.49 L513.30,1967.94 L513.80,1970.06 L514.30,1971.80 L514.80,1973.17 L515.30,1974.20 L515.80,1974.96 L516.30,1975.48 L516.80,1975.84 L517.30,1976.06 L517.80,1976.21 L518.30,1976.29 L518.80,1976.34 L519.30,1976.37 L545.30,1976.37 L545.80,1976.34 L546.30,1976.30 L546.80,1976.23 L547.30,1976.11 L547.80,1975.94 L548.30,1975.68 L548.80,1975.32 L549.30,1974.83 L549.80,1974.19 L550.30,1973.40 L550.80,1972.45 L551.30,1971.37 L551.80,1970.21 L552.30,1969.02 L552.80,1967.89 L553.30,1966.91 L553.80,1966.16 L554.30,1965.71 L554.80,1965.61 L555.30,1965.85 L555.80,1966.43 L556.30,1967.28 L556.80,1968.33 L557.30,1969.49 L557.80,1970.68 L558.30,1971.82 L558.80,1972.85 L559.30,1973.73 L559.80,1974.47 L560.30,1975.04 L560.80,1975.48 L561.30,1975.79 L561.80,1976.01 L562.30,1976.16 L562.80,1976.26 L563.30,1976.32 L563.80,1976.35 L571.80,1976.37 L572.30,1976.33 L572.80,1976.28 L573.30,1976.19 L573.80,1976.05 L574.30,1975.83 L574.80,1975.50 L575.30,1975.01 L575.80,1974.35 L576.30,1973.45 L576.80,1972.31 L577.30,1970.92 L577.80,1969.28 L578.30,1967.46 L578.80,1965.53 L579.30,1963.62 L579.80,1961.86 L580.30,1960.40 L580.80,1959.36 L581.30,1958.85 L581.80,1958.90 L582.30,1959.53 L582.80,1960.66 L583.30,1962.19 L583.80,1963.99 L584.30,1965.92 L584.80,1967.83 L585.30,1969.63 L585.80,1971.22 L586.30,1972.56 L586.80,1973.65 L587.30,1974.50 L587.80,1975.12 L588.30,1975.57 L588.80,1975.88 L589.30,1976.08 L589.80,1976.21 L590.30,1976.29 L590.80,1976.34 L591.30,1976.37 L631.80,1976.35 L632.30,1976.32 L632.80,1976.27 L633.30,1976.19 L633.80,1976.09 L634.30,1975.93 L634.80,1975.73 L635.30,1975.47 L635.80,1975.15 L636.30,1974.78 L636.80,1974.37 L637.30,1973.93 L637.80,1973.50 L638.30,1973.10 L638.80,1972.76 L639.30,1972.53 L639.80,1972.41 L640.30,1972.42 L640.80,1972.57 L641.30,1972.82 L641.80,1973.17 L642.30,1973.58 L642.80,1974.02 L643.30,1974.45 L643.80,1974.86 L644.30,1975.22 L644.80,1975.53 L645.30,1975.78 L645.80,1975.97 L646.30,1976.11 L646.80,1976.21 L647.30,1976.28 L647.80,1976.32 L648.30,1976.34 L648.80,1976.35 L649.30,1976.34 L649.80,1976.31 L650.30,1976.25 L650.80,1976.16 L651.30,1976.02 L651.80,1975.82 L652.30,1975.55 L652.80,1975.18 L653.30,1974.71 L653.80,1974.13 L654.30,1973.45 L654.80,1972.69 L655.30,1971.89 L655.80,1971.10 L656.30,1970.37 L656.80,1969.76 L657.30,1969.33 L657.80,1969.12 L658.30,1969.14 L658.80,1969.40 L659.30,1969.87 L659.80,1970.51 L660.30,1971.25 L660.80,1972.05 L661.30,1972.85 L661.80,1973.59 L662.30,1974.25 L662.80,1974.81 L663.30,1975.26 L663.80,1975.61 L664.30,1975.87 L664.80,1976.06 L665.30,1976.18 L665.80,1976.27 L666.30,1976.32 L666.80,1976.36 L747.30,1976.40" stroke="#00ff00"/>
</g>
<path d="M145.3,1750.7 L748.3,1750.7 M145.3,1862.4 L748.3,1862.4 M145.3,1975.7 L748.3,1975.7 M145.3,2087.0 L748.3,2087.0 M145.3,1749.1000000000001 L145.3,2088.6 M748.3,1749.1000000000001 L748.3,2088.6" stroke="#000" stroke-width="3.2" fill="none"/>
<path d="M162.53,1750.7 L162.53,1755.7 M162.53,1862.4 L162.53,1857.4 M162.53,1975.7 L162.53,1970.7 M162.53,2087.0 L162.53,2092.5 M196.99,1750.7 L196.99,1755.7 M196.99,1862.4 L196.99,1857.4 M196.99,1975.7 L196.99,1970.7 M196.99,2087.0 L196.99,2092.5 M231.44,1750.7 L231.44,1760.7 M231.44,1862.4 L231.44,1852.4 M231.44,1975.7 L231.44,1965.7 M231.44,2087.0 L231.44,2097.0 M265.90,1750.7 L265.90,1755.7 M265.90,1862.4 L265.90,1857.4 M265.90,1975.7 L265.90,1970.7 M265.90,2087.0 L265.90,2092.5 M300.36,1750.7 L300.36,1755.7 M300.36,1862.4 L300.36,1857.4 M300.36,1975.7 L300.36,1970.7 M300.36,2087.0 L300.36,2092.5 M334.81,1750.7 L334.81,1755.7 M334.81,1862.4 L334.81,1857.4 M334.81,1975.7 L334.81,1970.7 M334.81,2087.0 L334.81,2092.5 M369.27,1750.7 L369.27,1755.7 M369.27,1862.4 L369.27,1857.4 M369.27,1975.7 L369.27,1970.7 M369.27,2087.0 L369.27,2092.5 M403.73,1750.7 L403.73,1760.7 M403.73,1862.4 L403.73,1852.4 M403.73,1975.7 L403.73,1965.7 M403.73,2087.0 L403.73,2097.0 M438.19,1750.7 L438.19,1755.7 M438.19,1862.4 L438.19,1857.4 M438.19,1975.7 L438.19,1970.7 M438.19,2087.0 L438.19,2092.5 M472.64,1750.7 L472.64,1755.7 M472.64,1862.4 L472.64,1857.4 M472.64,1975.7 L472.64,1970.7 M472.64,2087.0 L472.64,2092.5 M507.10,1750.7 L507.10,1755.7 M507.10,1862.4 L507.10,1857.4 M507.10,1975.7 L507.10,1970.7 M507.10,2087.0 L507.10,2092.5 M541.56,1750.7 L541.56,1755.7 M541.56,1862.4 L541.56,1857.4 M541.56,1975.7 L541.56,1970.7 M541.56,2087.0 L541.56,2092.5 M576.01,1750.7 L576.01,1760.7 M576.01,1862.4 L576.01,1852.4 M576.01,1975.7 L576.01,1965.7 M576.01,2087.0 L576.01,2097.0 M610.47,1750.7 L610.47,1755.7 M610.47,1862.4 L610.47,1857.4 M610.47,1975.7 L610.47,1970.7 M610.47,2087.0 L610.47,2092.5 M644.93,1750.7 L644.93,1755.7 M644.93,1862.4 L644.93,1857.4 M644.93,1975.7 L644.93,1970.7 M644.93,2087.0 L644.93,2092.5 M679.39,1750.7 L679.39,1755.7 M679.39,1862.4 L679.39,1857.4 M679.39,1975.7 L679.39,1970.7 M679.39,2087.0 L679.39,2092.5 M713.84,1750.7 L713.84,1755.7 M713.84,1862.4 L713.84,1857.4 M713.84,1975.7 L713.84,1970.7 M713.84,2087.0 L713.84,2092.5 M748.3,2087.0 L748.3,2097.0 M135.3,1862.40 L145.3,1862.40 M738.3,1862.40 L748.3,1862.40 M135.3,1825.20 L145.3,1825.20 M738.3,1825.20 L748.3,1825.20 M135.3,1788.00 L145.3,1788.00 M738.3,1788.00 L748.3,1788.00 M135.3,1750.80 L145.3,1750.80 M738.3,1750.80 L748.3,1750.80 M140.3,1843.80 L145.3,1843.80 M743.3,1843.80 L748.3,1843.80 M140.3,1806.60 L145.3,1806.60 M743.3,1806.60 L748.3,1806.60 M140.3,1769.40 L145.3,1769.40 M743.3,1769.40 L748.3,1769.40 M135.3,1975.70 L145.3,1975.70 M738.3,1975.70 L748.3,1975.70 M135.3,1944.26 L145.3,1944.26 M738.3,1944.26 L748.3,1944.26 M135.3,1912.82 L145.3,1912.82 M738.3,1912.82 L748.3,1912.82 M135.3,1881.38 L145.3,1881.38 M738.3,1881.38 L748.3,1881.38 M140.3,1959.98 L145.3,1959.98 M743.3,1959.98 L748.3,1959.98 M140.3,1928.54 L145.3,1928.54 M743.3,1928.54 L748.3,1928.54 M140.3,1897.10 L145.3,1897.10 M743.3,1897.10 L748.3,1897.10 M140.3,1865.66 L145.3,1865.66 M743.3,1865.66 L748.3,1865.66 M135.3,2087.00 L145.3,2087.00 M738.3,2087.00 L748.3,2087.00 M135.3,2049.60 L145.3,2049.60 M738.3,2049.60 L748.3,2049.60 M135.3,2012.20 L145.3,2012.20 M738.3,2012.20 L748.3,2012.20 M140.3,2068.30 L145.3,2068.30 M743.3,2068.30 L748.3,2068.30 M140.3,2030.90 L145.3,2030.90 M743.3,2030.90 L748.3,2030.90 M140.3,1993.51 L145.3,1993.51 M743.3,1993.51 L748.3,1993.51" stroke="#000" stroke-width="3.0" fill="none"/>
<rect x="151" y="1753.1" width="105" height="107.3" fill="#fff"/>
<rect x="151" y="1864.8" width="105" height="108.9" fill="#fff"/>
<clipPath id="cq_f3"><rect x="146.9" y="1977.3" width="599.8" height="111.79999999999995"/></clipPath>
<g clip-path="url(#cq_f3)">
<line x1="629.4" y1="1977.3" x2="629.4" y2="2085.4" stroke="#000" stroke-width="2.6" stroke-dasharray="11 11" stroke-dashoffset="-3"/><line x1="663.6" y1="1977.3" x2="663.6" y2="2085.4" stroke="#000" stroke-width="2.6" stroke-dasharray="11 11" stroke-dashoffset="-3"/>
<path d="M150.60,2085.10 L360.20,2084.68 L362.32,2084.51 L365.84,2083.97 L373.59,2082.42 L387.79,2080.27 L392.06,2079.88 L402.82,2079.74 L416.90,2078.31 L422.54,2077.35 L433.80,2075.05 L444.30,2073.28 L447.80,2072.49 L449.90,2071.89 L452.00,2071.13 L454.10,2070.22 L456.20,2069.13 L457.60,2068.30 L458.31,2067.83 L459.02,2067.29 L459.73,2066.70 L460.44,2066.05 L461.15,2065.35 L461.86,2064.61 L462.57,2063.81 L463.99,2062.11 L464.70,2061.20 L465.43,2060.18 L466.16,2059.03 L466.89,2057.77 L467.61,2056.42 L469.07,2053.56 L469.80,2052.10 L470.60,2050.38 L471.40,2048.49 L472.20,2046.56 L473.00,2044.70 L473.80,2043.00 L475.44,2039.78 L476.26,2038.29 L477.08,2036.97 L477.90,2035.90 L478.61,2035.14 L479.33,2034.45 L480.04,2033.82 L480.76,2033.26 L482.19,2032.25 L483.66,2031.35 L485.19,2030.56 L492.81,2027.09 L493.58,2026.70 L494.34,2026.28 L495.10,2025.80 L495.81,2025.28 L496.53,2024.70 L497.24,2024.04 L497.96,2023.31 L498.67,2022.51 L499.39,2021.64 L500.10,2020.70 L500.92,2019.44 L501.74,2017.92 L502.56,2016.23 L504.20,2012.60 L505.00,2010.70 L505.80,2008.62 L506.60,2006.48 L507.40,2004.40 L508.20,2002.50 L509.02,2000.49 L509.84,1998.34 L510.66,1996.38 L511.48,1994.95 L512.30,1994.40 L513.10,1994.51 L513.90,1994.80 L514.70,1995.25 L515.50,1995.79 L516.30,1996.40 L517.10,1997.30 L517.90,1998.63 L518.70,2000.22 L519.50,2001.91 L520.30,2003.50 L521.76,2006.30 L530.50,2023.80 L533.36,2029.77 L534.07,2031.23 L534.79,2032.61 L537.79,2037.92 L538.55,2039.20 L539.31,2040.38 L540.08,2041.44 L540.84,2042.32 L541.60,2043.00 L543.12,2044.10 L543.89,2044.61 L544.65,2045.06 L545.41,2045.45 L546.18,2045.74 L546.94,2045.93 L547.70,2046.00 L556.89,2045.51 L557.60,2045.50 L558.36,2045.56 L559.12,2045.74 L559.88,2046.01 L560.64,2046.35 L564.44,2048.44 L565.93,2049.11 L571.07,2051.15 L572.53,2051.82 L574.00,2052.60 L574.76,2053.13 L575.52,2053.81 L576.28,2054.60 L577.80,2056.29 L578.56,2057.10 L579.32,2057.81 L580.08,2058.38 L580.84,2058.76 L581.60,2058.90 L582.36,2058.83 L583.12,2058.64 L583.88,2058.36 L586.92,2056.94 L587.68,2056.66 L588.44,2056.47 L589.20,2056.40 L589.96,2056.49 L590.72,2056.73 L591.48,2057.10 L592.24,2057.58 L593.00,2058.15 L594.52,2059.43 L596.04,2060.77 L597.56,2062.05 L598.32,2062.77 L599.84,2064.35 L602.12,2066.83 L602.88,2067.62 L603.64,2068.34 L606.65,2070.82 L608.15,2071.95 L608.90,2072.48 L609.65,2072.96 L610.40,2073.40 L611.15,2073.78 L614.03,2074.90 L615.46,2075.36 L616.17,2075.54 L616.88,2075.68 L617.59,2075.77 L618.30,2075.80 L619.01,2075.56 L619.73,2074.94 L620.44,2074.05 L621.87,2071.96 L622.59,2071.02 L623.30,2070.30 L624.00,2069.79 L624.70,2069.34 L628.20,2067.43 L628.90,2067.00 L629.60,2066.50 L631.06,2065.34 L631.79,2064.70 L632.51,2064.00 L633.24,2063.23 L633.97,2062.36 L634.70,2061.40 L635.43,2060.03 L636.15,2058.09 L636.88,2055.81 L637.60,2053.44 L638.33,2051.18 L639.05,2049.29 L639.77,2047.99 L640.50,2047.50 L641.20,2047.67 L641.90,2048.14 L642.60,2048.86 L643.30,2049.74 L644.00,2050.74 L645.40,2052.83 L646.10,2053.80 L646.81,2054.90 L647.53,2056.25 L648.24,2057.70 L648.96,2059.09 L649.67,2060.27 L650.39,2061.09 L651.10,2061.40 L656.20,2061.40 L656.93,2061.57 L657.66,2062.03 L658.39,2062.72 L659.11,2063.58 L661.30,2066.50 L662.01,2067.60 L662.73,2069.00 L664.16,2072.09 L664.87,2073.49 L665.59,2074.61 L666.30,2075.30 L667.82,2076.15 L669.34,2076.87 L670.10,2077.17 L670.86,2077.42 L671.62,2077.63 L672.38,2077.78 L673.14,2077.87 L673.90,2077.90 L676.09,2077.81 L684.87,2076.75 L687.07,2076.61 L687.80,2076.60 L688.54,2076.69 L689.28,2076.93 L690.02,2077.30 L690.77,2077.76 L691.51,2078.30 L693.73,2080.06 L694.48,2080.60 L695.22,2081.07 L695.96,2081.45 L696.70,2081.70 L701.63,2082.74 L707.26,2083.57 L748.00,2085.50" fill="none" stroke="#000" stroke-width="10.0" stroke-linejoin="round" stroke-linecap="round"/>
<circle cx="420.0" cy="2079.2" r="4.5"/><circle cx="423.4" cy="2075.6" r="4.5"/><circle cx="426.9" cy="2076.3" r="4.5"/><circle cx="430.3" cy="2076.7" r="4.5"/><circle cx="433.8" cy="2077.8" r="4.5"/><circle cx="437.2" cy="2075.3" r="4.5"/><circle cx="440.7" cy="2072.5" r="4.5"/><circle cx="444.1" cy="2074.5" r="4.5"/><circle cx="447.6" cy="2071.8" r="4.5"/><circle cx="451.0" cy="2073.9" r="4.5"/><circle cx="454.5" cy="2070.5" r="4.5"/><circle cx="457.9" cy="2071.2" r="4.5"/><circle cx="461.4" cy="2065.8" r="4.5"/><circle cx="464.8" cy="2060.5" r="4.5"/><circle cx="468.2" cy="2054.1" r="4.5"/><circle cx="471.7" cy="2048.1" r="4.5"/><circle cx="475.1" cy="2041.8" r="4.5"/><circle cx="478.6" cy="2037.5" r="4.5"/><circle cx="482.0" cy="2033.5" r="4.5"/><circle cx="485.5" cy="2030.3" r="4.5"/><circle cx="488.9" cy="2030.3" r="4.5"/><circle cx="492.4" cy="2026.2" r="4.5"/><circle cx="495.8" cy="2026.7" r="4.5"/><circle cx="499.3" cy="2021.6" r="4.5"/><circle cx="502.7" cy="2018.7" r="4.5"/><circle cx="506.2" cy="2009.8" r="4.5"/><circle cx="509.6" cy="2000.3" r="4.5"/><circle cx="513.0" cy="1994.0" r="4.5"/><circle cx="516.5" cy="1998.1" r="4.5"/><circle cx="519.9" cy="2004.0" r="4.5"/><circle cx="523.4" cy="2009.6" r="4.5"/><circle cx="526.8" cy="2016.4" r="4.5"/><circle cx="530.3" cy="2025.8" r="4.5"/><circle cx="533.7" cy="2030.8" r="4.5"/><circle cx="537.2" cy="2038.2" r="4.5"/><circle cx="540.6" cy="2044.7" r="4.5"/><circle cx="544.1" cy="2043.6" r="4.5"/><circle cx="547.5" cy="2049.1" r="4.5"/><circle cx="550.9" cy="2047.9" r="4.5"/><circle cx="554.4" cy="2045.6" r="4.5"/><circle cx="557.8" cy="2045.1" r="4.5"/><circle cx="561.3" cy="2045.9" r="4.5"/><circle cx="564.7" cy="2050.6" r="4.5"/><circle cx="568.2" cy="2047.5" r="4.5"/><circle cx="571.6" cy="2053.4" r="4.5"/><circle cx="575.1" cy="2054.4" r="4.5"/><circle cx="578.5" cy="2057.0" r="4.5"/><circle cx="582.0" cy="2059.0" r="4.5"/><circle cx="585.4" cy="2058.0" r="4.5"/><circle cx="588.9" cy="2056.9" r="4.5"/><circle cx="592.3" cy="2059.6" r="4.5"/><circle cx="595.7" cy="2060.2" r="4.5"/><circle cx="599.2" cy="2065.9" r="4.5"/><circle cx="602.6" cy="2069.5" r="4.5"/><circle cx="606.1" cy="2070.8" r="4.5"/><circle cx="609.5" cy="2074.5" r="4.5"/><circle cx="613.0" cy="2074.6" r="4.5"/><circle cx="616.4" cy="2076.5" r="4.5"/><circle cx="619.9" cy="2076.2" r="4.5"/><circle cx="623.3" cy="2073.6" r="4.5"/><circle cx="626.8" cy="2068.9" r="4.5"/><circle cx="630.2" cy="2066.6" r="4.5"/><circle cx="633.7" cy="2063.6" r="4.5"/><circle cx="637.1" cy="2055.6" r="4.5"/><circle cx="640.5" cy="2046.9" r="4.5"/><circle cx="644.0" cy="2054.0" r="4.5"/><circle cx="647.4" cy="2056.1" r="4.5"/><circle cx="650.9" cy="2061.3" r="4.5"/><circle cx="654.3" cy="2061.3" r="4.5"/><circle cx="657.8" cy="2063.8" r="4.5"/><circle cx="661.2" cy="2070.7" r="4.5"/><circle cx="664.7" cy="2077.4" r="4.5"/><circle cx="668.1" cy="2078.4" r="4.5"/><circle cx="671.6" cy="2078.9" r="4.5"/><circle cx="675.0" cy="2078.6" r="4.5"/><circle cx="678.5" cy="2077.0" r="4.5"/><circle cx="681.9" cy="2078.9" r="4.5"/><circle cx="685.3" cy="2077.4" r="4.5"/><circle cx="688.8" cy="2080.3" r="4.5"/><circle cx="692.2" cy="2079.3" r="4.5"/><circle cx="695.7" cy="2080.8" r="4.5"/><circle cx="699.1" cy="2080.6" r="4.5"/><circle cx="702.6" cy="2081.4" r="4.5"/><circle cx="706.0" cy="2085.0" r="4.5"/><circle cx="709.5" cy="2084.9" r="4.5"/><circle cx="712.9" cy="2083.1" r="4.5"/><circle cx="716.4" cy="2082.8" r="4.5"/><circle cx="719.8" cy="2085.3" r="4.5"/><circle cx="723.2" cy="2084.7" r="4.5"/><circle cx="726.7" cy="2085.6" r="4.5"/><circle cx="730.1" cy="2085.4" r="4.5"/><circle cx="733.6" cy="2084.6" r="4.5"/><circle cx="737.0" cy="2083.5" r="4.5"/><circle cx="740.5" cy="2086.1" r="4.5"/><circle cx="743.9" cy="2086.2" r="4.5"/><circle cx="747.4" cy="2086.5" r="4.5"/>
<circle cx="513.3" cy="1990.2" r="4.5"/><circle cx="509.0" cy="1992.5" r="4.5"/><circle cx="641.0" cy="2038.2" r="4.5"/><circle cx="636.0" cy="2047.0" r="4.5"/><circle cx="625.9" cy="2062.2" r="4.5"/><circle cx="658.7" cy="2055.9" r="4.5"/><circle cx="652.4" cy="2067.3" r="4.5"/><circle cx="581.6" cy="2064.8" r="4.5"/><circle cx="634.7" cy="2064.8" r="4.5"/>
<path d="M150.60,2085.90 L360.20,2085.48 L362.32,2085.31 L365.84,2084.77 L373.59,2083.22 L387.79,2081.07 L392.06,2080.68 L402.82,2080.54 L416.90,2079.11 L422.54,2078.15 L433.80,2075.85 L444.30,2074.08 L447.80,2073.29 L449.90,2072.69 L452.00,2071.93 L454.10,2071.02 L456.20,2069.93 L457.60,2069.10 L458.31,2068.63 L459.02,2068.09 L459.73,2067.50 L460.44,2066.85 L461.15,2066.15 L461.86,2065.41 L462.57,2064.61 L463.99,2062.91 L464.70,2062.00 L465.43,2060.98 L466.16,2059.83 L466.89,2058.57 L467.61,2057.22 L469.07,2054.36 L469.80,2052.90 L470.60,2051.18 L471.40,2049.29 L472.20,2047.36 L473.00,2045.50 L473.80,2043.80 L475.44,2040.58 L476.26,2039.09 L477.08,2037.77 L477.90,2036.70 L478.61,2035.94 L479.33,2035.25 L480.04,2034.62 L480.76,2034.06 L482.19,2033.05 L483.66,2032.15 L485.19,2031.36 L492.81,2027.89 L493.58,2027.50 L494.34,2027.08 L495.10,2026.60 L495.81,2026.08 L496.53,2025.50 L497.24,2024.84 L497.96,2024.11 L498.67,2023.31 L499.39,2022.44 L500.10,2021.50 L500.92,2020.24 L501.74,2018.72 L502.56,2017.03 L504.20,2013.40 L505.00,2011.50 L505.80,2009.42 L506.60,2007.28 L507.40,2005.20 L508.20,2003.30 L509.02,2001.29 L509.84,1999.14 L510.66,1997.18 L511.48,1995.75 L512.30,1995.20 L513.10,1995.31 L513.90,1995.60 L514.70,1996.05 L515.50,1996.59 L516.30,1997.20 L517.10,1998.10 L517.90,1999.43 L518.70,2001.02 L519.50,2002.71 L520.30,2004.30 L521.76,2007.10 L530.50,2024.60 L533.36,2030.57 L534.07,2032.03 L534.79,2033.41 L537.79,2038.72 L538.55,2040.00 L539.31,2041.18 L540.08,2042.24 L540.84,2043.12 L541.60,2043.80 L543.12,2044.90 L543.89,2045.41 L544.65,2045.86 L545.41,2046.25 L546.18,2046.54 L546.94,2046.73 L547.70,2046.80 L556.89,2046.31 L557.60,2046.30 L558.36,2046.36 L559.12,2046.54 L559.88,2046.81 L560.64,2047.15 L564.44,2049.24 L565.93,2049.91 L571.07,2051.95 L572.53,2052.62 L574.00,2053.40 L574.76,2053.93 L575.52,2054.61 L576.28,2055.40 L577.80,2057.09 L578.56,2057.90 L579.32,2058.61 L580.08,2059.18 L580.84,2059.56 L581.60,2059.70 L582.36,2059.63 L583.12,2059.44 L583.88,2059.16 L586.92,2057.74 L587.68,2057.46 L588.44,2057.27 L589.20,2057.20 L589.96,2057.29 L590.72,2057.53 L591.48,2057.90 L592.24,2058.38 L593.00,2058.95 L594.52,2060.23 L596.04,2061.57 L597.56,2062.85 L598.32,2063.57 L599.84,2065.15 L602.12,2067.63 L602.88,2068.42 L603.64,2069.14 L606.65,2071.62 L608.15,2072.75 L608.90,2073.28 L609.65,2073.76 L610.40,2074.20 L611.15,2074.58 L614.03,2075.70 L615.46,2076.16 L616.17,2076.34 L616.88,2076.48 L617.59,2076.57 L618.30,2076.60 L619.01,2076.36 L619.73,2075.74 L620.44,2074.85 L621.87,2072.76 L622.59,2071.82 L623.30,2071.10 L624.00,2070.59 L624.70,2070.14 L628.20,2068.23 L628.90,2067.80 L629.60,2067.30 L631.06,2066.14 L631.79,2065.50 L632.51,2064.80 L633.24,2064.03 L633.97,2063.16 L634.70,2062.20 L635.43,2060.83 L636.15,2058.89 L636.88,2056.61 L637.60,2054.24 L638.33,2051.98 L639.05,2050.09 L639.77,2048.79 L640.50,2048.30 L641.20,2048.47 L641.90,2048.94 L642.60,2049.66 L643.30,2050.54 L644.00,2051.54 L645.40,2053.63 L646.10,2054.60 L646.81,2055.70 L647.53,2057.05 L648.24,2058.50 L648.96,2059.89 L649.67,2061.07 L650.39,2061.89 L651.10,2062.20 L656.20,2062.20 L656.93,2062.37 L657.66,2062.83 L658.39,2063.52 L659.11,2064.38 L661.30,2067.30 L662.01,2068.40 L662.73,2069.80 L664.16,2072.89 L664.87,2074.29 L665.59,2075.41 L666.30,2076.10 L667.82,2076.95 L669.34,2077.67 L670.10,2077.97 L670.86,2078.22 L671.62,2078.43 L672.38,2078.58 L673.14,2078.67 L673.90,2078.70 L676.09,2078.61 L684.87,2077.55 L687.07,2077.41 L687.80,2077.40 L688.54,2077.49 L689.28,2077.73 L690.02,2078.10 L690.77,2078.56 L691.51,2079.10 L693.73,2080.86 L694.48,2081.40 L695.22,2081.87 L695.96,2082.25 L696.70,2082.50 L701.63,2083.54 L707.26,2084.37 L748.00,2086.30" fill="none" stroke="#0000ff" stroke-width="3.9" stroke-linejoin="round" stroke-linecap="round"/>
</g>
<text x="128.30" y="1870.30" font-size="25" text-anchor="end" >0.0</text>
<text x="128.30" y="1833.10" font-size="25" text-anchor="end" >0.8</text>
<text x="128.30" y="1795.90" font-size="25" text-anchor="end" >1.6</text>
<text x="128.30" y="1758.70" font-size="25" text-anchor="end" >2.4</text>
<text x="128.30" y="1983.60" font-size="25" text-anchor="end" >0.0</text>
<text x="128.30" y="1952.16" font-size="25" text-anchor="end" >0.8</text>
<text x="128.30" y="1920.72" font-size="25" text-anchor="end" >1.6</text>
<text x="128.30" y="1889.28" font-size="25" text-anchor="end" >2.4</text>
<text x="131.10" y="2094.90" font-size="25" text-anchor="end" >0</text>
<text x="131.10" y="2057.50" font-size="25" text-anchor="end" >23</text>
<text x="131.10" y="2020.10" font-size="25" text-anchor="end" >46</text>
<text x="16.00" y="1761.30" font-size="36" text-anchor="start" >f)</text>
</g>
<g font-family='"Liberation Sans", sans-serif' fill="#000">
<text x="231.44" y="2125.10" font-size="25" text-anchor="middle" >2500</text>
<text x="403.73" y="2125.10" font-size="25" text-anchor="middle" >3000</text>
<text x="576.01" y="2125.10" font-size="25" text-anchor="middle" >3500</text>
<text x="748.30" y="2125.10" font-size="25" text-anchor="middle" >4000</text>
<text x="327" y="2170.1" font-size="27">Wavenumber / cm<tspan font-size="17" dy="-11">−1</tspan></text>
<text transform="translate(76.5,86.5) rotate(-90)" text-anchor="middle" font-size="23.3">σ / 10<tspan font-size="14.5" dy="-9.5">−17</tspan><tspan dy="9.5"> cm</tspan><tspan font-size="14.5" dy="-9.5">2</tspan></text>
<text transform="translate(77.3,210.5) rotate(-90)" text-anchor="middle" font-size="22.5">Rel. σ</text>
<text transform="translate(76.7,398.7) rotate(-90)" text-anchor="middle" font-size="23.3">σ / 10<tspan font-size="14.5" dy="-9.5">−17</tspan><tspan dy="9.5"> cm</tspan><tspan font-size="14.5" dy="-9.5">2</tspan></text>
<text transform="translate(77.3,579.6) rotate(-90)" text-anchor="middle" font-size="22.5">Rel. σ</text>
<text transform="translate(76.7,762.3) rotate(-90)" text-anchor="middle" font-size="23.3">σ / 10<tspan font-size="14.5" dy="-9.5">−17</tspan><tspan dy="9.5"> cm</tspan><tspan font-size="14.5" dy="-9.5">2</tspan></text>
<text transform="translate(76.7,940.2) rotate(-90)" text-anchor="middle" font-size="22.5">Rel. σ</text>
<text transform="translate(76.7,1127.5) rotate(-90)" text-anchor="middle" font-size="23.3">σ / 10<tspan font-size="14.5" dy="-9.5">−17</tspan><tspan dy="9.5"> cm</tspan><tspan font-size="14.5" dy="-9.5">2</tspan></text>
<text transform="translate(79.2,1310.3) rotate(-90)" text-anchor="middle" font-size="22.5">Rel. σ</text>
<text transform="translate(76.7,1496.2) rotate(-90)" text-anchor="middle" font-size="23.3">σ / 10<tspan font-size="14.5" dy="-9.5">−17</tspan><tspan dy="9.5"> cm</tspan><tspan font-size="14.5" dy="-9.5">2</tspan></text>
<text transform="translate(79.2,1672.5) rotate(-90)" text-anchor="middle" font-size="22.5">Rel. σ</text>
<text transform="translate(76.7,1864.7) rotate(-90)" text-anchor="middle" font-size="23.3">σ / 10<tspan font-size="14.5" dy="-9.5">−17</tspan><tspan dy="9.5"> cm</tspan><tspan font-size="14.5" dy="-9.5">2</tspan></text>
<text transform="translate(74.8,2049.9) rotate(-90)" text-anchor="middle" font-size="22.5">Rel. σ</text>
<text x="157.5" y="183" font-size="30"><tspan font-style="italic">n</tspan> = 1</text>
<text x="157.5" y="540.6" font-size="30"><tspan font-style="italic">n</tspan> = 2</text>
<text x="157.5" y="913" font-size="30"><tspan font-style="italic">n</tspan> = 3</text>
<text x="157.5" y="1277" font-size="30"><tspan font-style="italic">n</tspan> = 4</text>
<text x="157.5" y="1646.4" font-size="30"><tspan font-style="italic">n</tspan> = 5</text>
<text x="157.5" y="2015.6" font-size="30"><tspan font-style="italic">n</tspan> = 6</text>
<line x1="161.8" y1="69.6" x2="215.5" y2="69.6" stroke="#000" stroke-width="3.4" stroke-linecap="round"/>
<text x="220.00" y="77.20" font-size="22.5" text-anchor="start" >Ia</text>
<circle cx="350" cy="163.7" r="4.4"/>
<text x="382.00" y="170.20" font-size="23" text-anchor="start" >Exp. data</text>
<line x1="323.5" y1="191.6" x2="377.5" y2="191.6" stroke="#0000ff" stroke-width="3" stroke-linecap="round"/>
<text x="382.00" y="199.80" font-size="23" text-anchor="start" >3 point average</text>
<rect x="325" y="209.5" width="51" height="23" fill="#b4b4b4" stroke="#a0a0a0" stroke-width="1.2"/>
<text x="382.00" y="228.80" font-size="23" text-anchor="start" >Noise</text>
<line x1="161.8" y1="315.6" x2="215.5" y2="315.6" stroke="#000" stroke-width="3.4" stroke-linecap="round"/>
<text x="221.6" y="313.9" font-size="15">2</text>
<text x="230.20" y="323.90" font-size="22.5" text-anchor="start" >IIa</text>
<line x1="161.8" y1="425.2" x2="215.5" y2="425.2" stroke="#000" stroke-width="3.4" stroke-linecap="round"/>
<text x="220.40" y="432.70" font-size="22.5" text-anchor="start" >IIa</text>
<line x1="161.8" y1="454.4" x2="215.5" y2="454.4" stroke="#ff00ff" stroke-width="3.4" stroke-linecap="round"/>
<text x="220.40" y="462.00" font-size="22.5" text-anchor="start" >IIb</text>
<text x="655" y="452.2" font-size="27" fill="#ff00ff">x10</text>
<line x1="161.5" y1="667" x2="207.3" y2="667" stroke="#000" stroke-width="3.6" stroke-linecap="round"/>
<text x="212.6" y="665.4" font-size="13.5">2</text>
<text x="219.80" y="674.20" font-size="20" text-anchor="start" >IIIa</text>
<line x1="161.5" y1="693.5" x2="207.3" y2="693.5" stroke="#ff00ff" stroke-width="3.6" stroke-linecap="round"/>
<text x="212.6" y="691.9" font-size="13.5">2</text>
<text x="219.80" y="700.70" font-size="20" text-anchor="start" >IIIb</text>
<line x1="161.5" y1="720" x2="207.3" y2="720" stroke="#ff0000" stroke-width="3.6" stroke-linecap="round"/>
<text x="212.6" y="718.4" font-size="13.5">2</text>
<text x="219.80" y="727.20" font-size="20" text-anchor="start" >IIIc</text>
<line x1="161.5" y1="746.5" x2="207.3" y2="746.5" stroke="#00ff00" stroke-width="3.6" stroke-linecap="round"/>
<text x="212.6" y="744.9" font-size="13.5">2</text>
<text x="219.80" y="753.70" font-size="20" text-anchor="start" >IIId</text>
<line x1="161.5" y1="779.5" x2="207.3" y2="779.5" stroke="#000" stroke-width="3.6" stroke-linecap="round"/>
<text x="212.30" y="786.70" font-size="20" text-anchor="start" >IIIa</text>
<line x1="161.5" y1="805.3" x2="207.3" y2="805.3" stroke="#ff00ff" stroke-width="3.6" stroke-linecap="round"/>
<text x="212.30" y="812.50" font-size="20" text-anchor="start" >IIIb</text>
<line x1="161.5" y1="831.1" x2="207.3" y2="831.1" stroke="#ff0000" stroke-width="3.6" stroke-linecap="round"/>
<text x="212.30" y="838.30" font-size="20" text-anchor="start" >IIIc</text>
<line x1="161.5" y1="855.9" x2="207.3" y2="855.9" stroke="#00ff00" stroke-width="3.6" stroke-linecap="round"/>
<text x="212.30" y="863.10" font-size="20" text-anchor="start" >IIId</text>
<line x1="161.5" y1="1032.1" x2="207.3" y2="1032.1" stroke="#000" stroke-width="3.6" stroke-linecap="round"/>
<text x="212.6" y="1030.5" font-size="13.5">2</text>
<text x="219.80" y="1039.30" font-size="20" text-anchor="start" >IVa</text>
<line x1="161.5" y1="1057.6" x2="207.3" y2="1057.6" stroke="#ff00ff" stroke-width="3.6" stroke-linecap="round"/>
<text x="212.6" y="1056.0" font-size="13.5">2</text>
<text x="219.80" y="1064.80" font-size="20" text-anchor="start" >IVb</text>
<line x1="161.5" y1="1084" x2="207.3" y2="1084" stroke="#ff0000" stroke-width="3.6" stroke-linecap="round"/>
<text x="212.6" y="1082.4" font-size="13.5">2</text>
<text x="219.80" y="1091.20" font-size="20" text-anchor="start" >IVc</text>
<line x1="161.5" y1="1110.3" x2="207.3" y2="1110.3" stroke="#00ff00" stroke-width="3.6" stroke-linecap="round"/>
<text x="212.6" y="1108.7" font-size="13.5">2</text>
<text x="219.80" y="1117.50" font-size="20" text-anchor="start" >IVd</text>
<line x1="161.5" y1="1146.3" x2="207.3" y2="1146.3" stroke="#000" stroke-width="3.6" stroke-linecap="round"/>
<text x="212.30" y="1153.50" font-size="20" text-anchor="start" >IVa</text>
<line x1="161.5" y1="1171.3" x2="207.3" y2="1171.3" stroke="#ff00ff" stroke-width="3.6" stroke-linecap="round"/>
<text x="212.30" y="1178.50" font-size="20" text-anchor="start" >IVb</text>
<line x1="161.5" y1="1196.4" x2="207.3" y2="1196.4" stroke="#ff0000" stroke-width="3.6" stroke-linecap="round"/>
<text x="212.30" y="1203.60" font-size="20" text-anchor="start" >IVc</text>
<line x1="161.5" y1="1221.4" x2="207.3" y2="1221.4" stroke="#00ff00" stroke-width="3.6" stroke-linecap="round"/>
<text x="212.30" y="1228.60" font-size="20" text-anchor="start" >IVd</text>
<line x1="161.5" y1="1401.4" x2="207.3" y2="1401.4" stroke="#000" stroke-width="3.6" stroke-linecap="round"/>
<text x="212.6" y="1399.8" font-size="13.5">2</text>
<text x="219.80" y="1408.60" font-size="20" text-anchor="start" >Va</text>
<line x1="161.5" y1="1427.2" x2="207.3" y2="1427.2" stroke="#ff00ff" stroke-width="3.6" stroke-linecap="round"/>
<text x="212.6" y="1425.6" font-size="13.5">2</text>
<text x="219.80" y="1434.40" font-size="20" text-anchor="start" >Vb</text>
<line x1="161.5" y1="1452.8" x2="207.3" y2="1452.8" stroke="#ff0000" stroke-width="3.6" stroke-linecap="round"/>
<text x="212.6" y="1451.2" font-size="13.5">2</text>
<text x="219.80" y="1460.00" font-size="20" text-anchor="start" >Vc</text>
<line x1="161.5" y1="1479.0" x2="207.3" y2="1479.0" stroke="#00ff00" stroke-width="3.6" stroke-linecap="round"/>
<text x="212.6" y="1477.4" font-size="13.5">2</text>
<text x="219.80" y="1486.20" font-size="20" text-anchor="start" >Vd</text>
<line x1="161.5" y1="1512.1" x2="207.3" y2="1512.1" stroke="#000" stroke-width="3.6" stroke-linecap="round"/>
<text x="212.30" y="1519.30" font-size="20" text-anchor="start" >Va</text>
<line x1="161.5" y1="1537.9" x2="207.3" y2="1537.9" stroke="#ff00ff" stroke-width="3.6" stroke-linecap="round"/>
<text x="212.30" y="1545.10" font-size="20" text-anchor="start" >Vb</text>
<line x1="161.5" y1="1562.3" x2="207.3" y2="1562.3" stroke="#ff0000" stroke-width="3.6" stroke-linecap="round"/>
<text x="212.30" y="1569.50" font-size="20" text-anchor="start" >Vc</text>
<line x1="161.5" y1="1588.2" x2="207.3" y2="1588.2" stroke="#00ff00" stroke-width="3.6" stroke-linecap="round"/>
<text x="212.30" y="1595.40" font-size="20" text-anchor="start" >Vd</text>
<line x1="161.5" y1="1769.6" x2="207.3" y2="1769.6" stroke="#000" stroke-width="3.6" stroke-linecap="round"/>
<text x="212.6" y="1768.0" font-size="13.5">2</text>
<text x="219.80" y="1776.80" font-size="20" text-anchor="start" >VIa</text>
<line x1="161.5" y1="1795.5" x2="207.3" y2="1795.5" stroke="#ff00ff" stroke-width="3.6" stroke-linecap="round"/>
<text x="212.6" y="1793.9" font-size="13.5">2</text>
<text x="219.80" y="1802.70" font-size="20" text-anchor="start" >VIb</text>
<line x1="161.5" y1="1821.1" x2="207.3" y2="1821.1" stroke="#ff0000" stroke-width="3.6" stroke-linecap="round"/>
<text x="212.6" y="1819.5" font-size="13.5">2</text>
<text x="219.80" y="1828.30" font-size="20" text-anchor="start" >VIc</text>
<line x1="161.5" y1="1847.0" x2="207.3" y2="1847.0" stroke="#00ff00" stroke-width="3.6" stroke-linecap="round"/>
<text x="212.6" y="1845.4" font-size="13.5">2</text>
<text x="219.80" y="1854.20" font-size="20" text-anchor="start" >VId</text>
<line x1="161.5" y1="1881.4" x2="207.3" y2="1881.4" stroke="#000" stroke-width="3.6" stroke-linecap="round"/>
<text x="212.30" y="1888.60" font-size="20" text-anchor="start" >VIa</text>
<line x1="161.5" y1="1907.4" x2="207.3" y2="1907.4" stroke="#ff00ff" stroke-width="3.6" stroke-linecap="round"/>
<text x="212.30" y="1914.60" font-size="20" text-anchor="start" >VIb</text>
<line x1="161.5" y1="1932.0" x2="207.3" y2="1932.0" stroke="#ff0000" stroke-width="3.6" stroke-linecap="round"/>
<text x="212.30" y="1939.20" font-size="20" text-anchor="start" >VIc</text>
<line x1="161.5" y1="1957.5" x2="207.3" y2="1957.5" stroke="#00ff00" stroke-width="3.6" stroke-linecap="round"/>
<text x="212.30" y="1964.70" font-size="20" text-anchor="start" >VId</text>
</g>
</svg>
</body></html>
